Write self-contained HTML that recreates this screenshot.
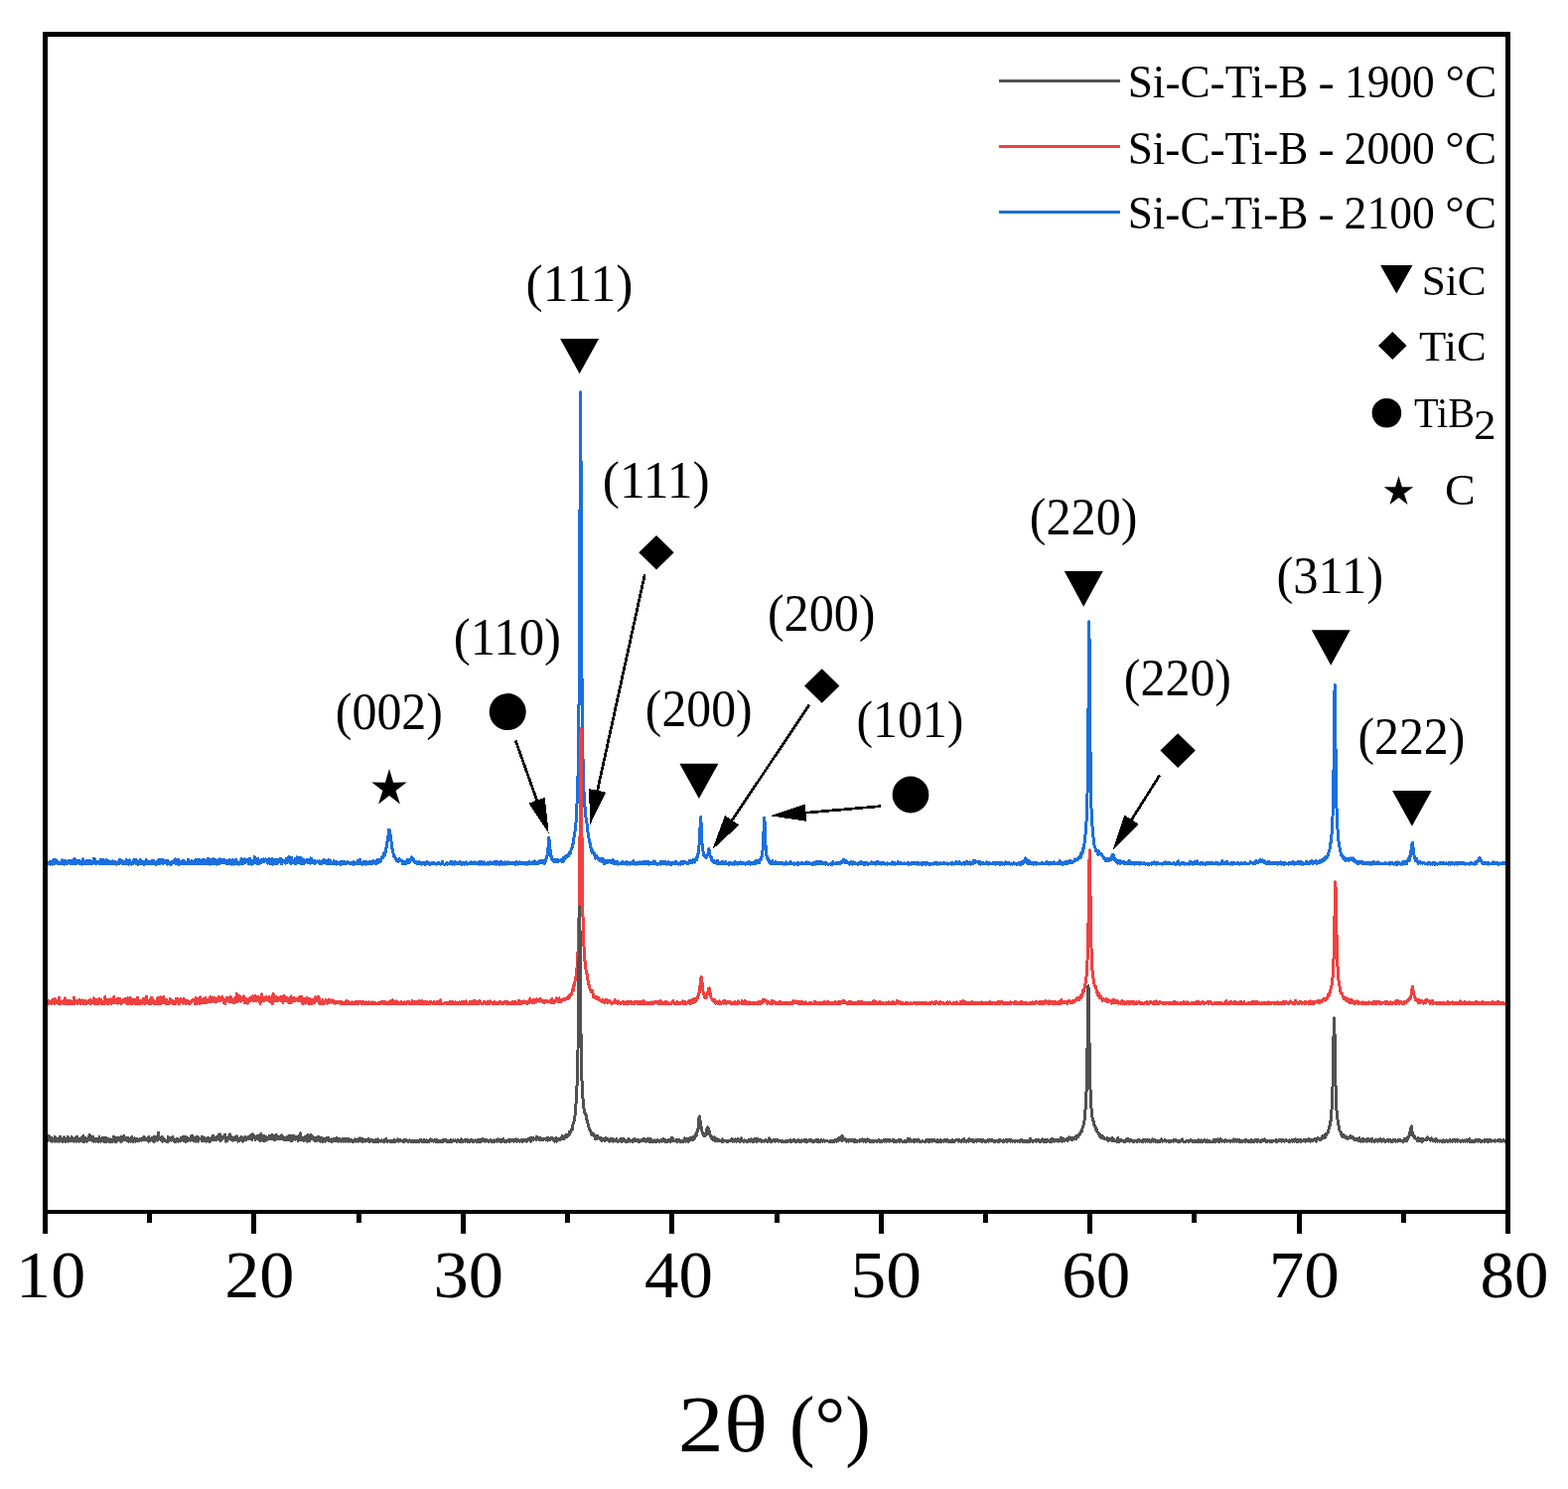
<!DOCTYPE html>
<html lang="en"><head><meta charset="utf-8"><title>XRD patterns of Si-C-Ti-B</title>
<style>html,body{margin:0;padding:0;background:#fff}body{width:1579px;height:1499px;overflow:hidden}svg{display:block}text{font-family:'Liberation Serif', 'DejaVu Serif', serif;fill:#000}</style></head><body>
<svg width="1579" height="1499" viewBox="0 0 1579 1499">
<rect width="1579" height="1499" fill="#fff"/>
<defs><clipPath id="plot"><rect x="48" y="37" width="1468" height="1181"/></clipPath></defs>
<g clip-path="url(#plot)" fill="none" stroke-width="3.0" stroke-linejoin="round" shape-rendering="crispEdges">
<polyline stroke="#1A6FDF" points="46.0,865.2 46.5,869.1 46.9,869.5 47.4,870.0 47.8,868.6 48.3,869.1 48.7,869.6 49.2,867.9 49.6,867.7 50.1,870.0 50.5,870.0 51.0,869.4 51.4,867.2 51.9,867.5 52.3,870.0 52.8,870.0 53.2,867.1 53.7,865.5 54.1,868.6 54.6,869.8 55.0,866.5 55.5,869.1 55.9,867.2 56.4,865.6 56.8,867.3 57.3,868.4 57.7,867.1 58.2,869.8 58.6,868.9 59.1,869.6 59.5,868.9 60.0,869.5 60.4,868.9 60.9,869.3 61.3,868.4 61.8,868.4 62.2,868.0 62.7,865.9 63.1,870.0 63.6,866.1 64.0,869.0 64.5,870.0 64.9,868.9 65.4,868.4 65.8,866.5 66.3,870.0 66.7,868.1 67.2,868.3 67.6,870.0 68.1,870.0 68.5,867.4 69.0,867.2 69.4,866.5 69.9,867.5 70.3,867.8 70.8,868.3 71.2,866.2 71.7,870.0 72.1,868.8 72.6,867.8 73.0,870.0 73.5,866.0 73.9,870.0 74.4,868.7 74.8,864.4 75.3,870.0 75.7,869.5 76.2,865.6 76.6,870.0 77.1,869.4 77.5,867.6 78.0,867.7 78.4,867.4 78.9,867.8 79.3,866.0 79.8,866.6 80.2,867.4 80.7,869.8 81.1,869.9 81.6,870.0 82.0,867.2 82.5,870.0 82.9,866.9 83.4,865.0 83.8,870.0 84.3,869.8 84.7,869.4 85.2,867.0 85.6,870.0 86.1,868.8 86.5,869.5 87.0,869.0 87.4,866.1 87.9,870.0 88.3,868.4 88.8,868.0 89.2,866.9 89.7,870.0 90.1,866.4 90.6,867.7 91.0,866.9 91.5,868.4 91.9,870.0 92.4,869.8 92.8,867.0 93.3,868.5 93.7,868.6 94.2,865.1 94.6,864.4 95.1,868.6 95.5,864.9 96.0,870.0 96.4,870.0 96.9,866.9 97.3,869.0 97.8,867.4 98.2,867.6 98.7,868.7 99.1,867.2 99.6,868.2 100.0,870.0 100.5,868.1 100.9,868.2 101.4,865.1 101.8,870.0 102.3,868.5 102.7,869.3 103.2,868.8 103.6,865.4 104.1,867.8 104.5,869.4 105.0,868.2 105.4,867.1 105.9,870.0 106.3,869.0 106.8,865.6 107.2,866.9 107.7,868.6 108.1,869.4 108.6,868.8 109.0,870.0 109.5,866.7 109.9,867.9 110.4,868.3 110.8,870.0 111.3,869.9 111.7,867.6 112.2,868.0 112.6,869.5 113.1,867.6 113.5,866.7 114.0,869.8 114.4,869.5 114.9,870.0 115.3,870.0 115.8,867.0 116.2,867.6 116.7,867.9 117.1,870.0 117.6,870.0 118.0,868.7 118.5,869.3 118.9,868.3 119.4,869.9 119.8,867.3 120.3,865.1 120.7,865.6 121.2,865.5 121.6,868.4 122.1,866.8 122.5,869.2 123.0,866.8 123.4,869.3 123.9,869.5 124.3,869.8 124.8,867.2 125.2,868.0 125.7,868.2 126.1,870.0 126.6,868.3 127.0,870.0 127.5,865.7 127.9,868.8 128.4,868.2 128.8,868.7 129.3,870.0 129.7,870.0 130.2,868.6 130.6,865.7 131.1,870.0 131.5,869.9 132.0,868.6 132.4,870.0 132.9,870.0 133.3,869.3 133.8,868.6 134.2,869.3 134.7,865.6 135.1,868.8 135.6,867.8 136.0,865.5 136.5,865.3 136.9,870.0 137.4,869.2 137.8,866.3 138.3,870.0 138.7,870.0 139.2,870.0 139.6,870.0 140.1,870.0 140.5,868.2 141.0,866.1 141.4,865.6 141.9,868.5 142.3,870.0 142.8,868.6 143.2,869.2 143.7,867.9 144.1,868.8 144.6,870.0 145.0,867.7 145.5,870.0 145.9,869.8 146.4,867.9 146.8,867.9 147.3,865.5 147.7,870.0 148.2,867.9 148.6,867.2 149.1,869.1 149.5,867.3 150.0,870.0 150.4,867.3 150.9,867.5 151.3,870.0 151.8,869.8 152.2,868.9 152.7,869.8 153.1,866.5 153.6,868.2 154.0,866.0 154.5,866.3 154.9,868.4 155.4,868.9 155.8,870.0 156.3,870.0 156.7,870.0 157.2,867.9 157.6,870.0 158.1,868.4 158.5,868.1 159.0,869.5 159.4,868.9 159.9,865.8 160.3,865.4 160.8,870.0 161.2,868.9 161.7,869.2 162.1,869.0 162.6,865.6 163.0,867.2 163.5,866.1 163.9,865.1 164.4,869.3 164.8,868.9 165.3,868.4 165.7,866.6 166.2,868.7 166.6,867.3 167.1,866.3 167.5,866.3 168.0,867.6 168.4,870.0 168.9,870.0 169.3,866.4 169.8,867.6 170.2,870.0 170.7,869.4 171.1,869.3 171.6,870.0 172.0,868.0 172.5,870.0 172.9,869.0 173.4,867.1 173.8,868.7 174.3,867.4 174.7,867.7 175.2,868.4 175.6,868.4 176.1,864.9 176.5,868.8 177.0,865.4 177.4,870.0 177.9,867.1 178.3,868.1 178.8,869.8 179.2,870.0 179.7,865.4 180.1,870.0 180.6,870.0 181.0,868.2 181.5,868.3 181.9,867.9 182.4,868.9 182.8,870.0 183.3,866.8 183.7,870.0 184.2,868.0 184.6,867.3 185.1,866.2 185.5,868.8 186.0,869.0 186.4,868.9 186.9,870.0 187.3,869.8 187.8,870.0 188.2,870.0 188.7,868.1 189.1,869.0 189.6,865.4 190.0,865.6 190.5,870.0 190.9,868.1 191.4,870.0 191.8,867.3 192.3,868.1 192.7,866.6 193.2,867.8 193.6,866.9 194.1,868.9 194.5,870.0 195.0,870.0 195.4,870.0 195.9,869.3 196.3,870.0 196.8,865.2 197.2,868.6 197.7,865.8 198.1,869.0 198.6,865.2 199.0,870.0 199.5,867.2 199.9,870.0 200.4,867.4 200.8,865.3 201.3,870.0 201.7,869.9 202.2,867.8 202.6,868.6 203.1,870.0 203.5,866.0 204.0,868.1 204.4,865.8 204.9,867.6 205.3,870.0 205.8,869.1 206.2,865.6 206.7,870.0 207.1,869.1 207.6,867.0 208.0,866.2 208.5,866.6 208.9,870.0 209.4,864.2 209.8,868.5 210.3,868.1 210.7,868.1 211.2,868.6 211.6,870.0 212.1,868.7 212.5,865.6 213.0,870.0 213.4,870.0 213.9,867.1 214.3,867.4 214.8,866.7 215.2,864.8 215.7,869.4 216.1,867.7 216.6,867.1 217.0,865.7 217.5,866.1 217.9,869.6 218.4,870.0 218.8,868.5 219.3,870.0 219.7,865.8 220.2,868.7 220.6,868.6 221.1,869.6 221.5,865.0 222.0,867.4 222.4,868.7 222.9,866.7 223.3,868.0 223.8,866.7 224.2,865.4 224.7,868.4 225.1,866.9 225.6,866.9 226.0,865.7 226.5,866.7 226.9,867.7 227.4,869.0 227.8,867.2 228.3,869.8 228.7,866.5 229.2,867.6 229.6,866.7 230.1,868.7 230.5,869.2 231.0,869.4 231.4,865.6 231.9,868.1 232.3,868.1 232.8,870.0 233.2,867.8 233.7,870.0 234.1,865.0 234.6,868.1 235.0,867.6 235.5,870.0 235.9,869.7 236.4,866.4 236.8,868.0 237.3,866.7 237.7,865.1 238.2,866.3 238.6,870.0 239.1,869.4 239.5,869.7 240.0,869.2 240.4,870.0 240.9,870.0 241.3,868.9 241.8,868.6 242.2,866.4 242.7,868.0 243.1,864.7 243.6,870.0 244.0,870.0 244.5,866.9 244.9,867.9 245.4,869.2 245.8,865.9 246.3,865.3 246.7,864.8 247.2,868.1 247.6,867.3 248.1,866.9 248.5,867.2 249.0,865.3 249.4,868.2 249.9,866.6 250.3,870.0 250.8,865.8 251.2,864.1 251.7,867.3 252.1,865.3 252.6,870.0 253.0,867.8 253.5,870.0 253.9,866.6 254.4,866.2 254.8,869.8 255.3,868.8 255.7,868.3 256.2,862.5 256.6,867.3 257.1,866.9 257.5,866.4 258.0,866.6 258.4,867.6 258.9,869.6 259.3,868.4 259.8,864.0 260.2,866.6 260.7,867.8 261.1,869.6 261.6,867.2 262.0,867.0 262.5,868.3 262.9,865.4 263.4,868.2 263.8,867.4 264.3,865.4 264.7,866.6 265.2,864.9 265.6,867.5 266.1,867.8 266.5,866.1 267.0,866.6 267.4,864.8 267.9,866.2 268.3,867.1 268.8,866.2 269.2,865.8 269.7,869.1 270.1,867.3 270.6,867.6 271.0,864.7 271.5,867.9 271.9,865.0 272.4,869.4 272.8,867.1 273.3,865.0 273.7,867.5 274.2,864.8 274.6,870.0 275.1,866.9 275.5,866.7 276.0,867.2 276.4,869.9 276.9,865.7 277.3,870.0 277.8,865.2 278.2,866.5 278.7,865.1 279.1,867.5 279.6,869.1 280.0,868.0 280.5,867.9 280.9,865.9 281.4,867.6 281.8,866.2 282.3,866.1 282.7,864.3 283.2,870.0 283.6,867.8 284.1,865.7 284.5,865.7 285.0,868.1 285.4,867.6 285.9,867.2 286.3,866.8 286.8,868.1 287.2,868.3 287.7,869.2 288.1,867.8 288.6,864.5 289.0,868.9 289.5,865.3 289.9,863.4 290.4,866.7 290.8,862.7 291.3,867.4 291.7,864.0 292.2,867.2 292.6,869.4 293.1,866.5 293.5,863.6 294.0,868.3 294.4,866.3 294.9,869.0 295.3,868.8 295.8,866.3 296.2,867.5 296.7,866.1 297.1,864.8 297.6,869.4 298.0,868.5 298.5,867.1 298.9,862.9 299.4,867.9 299.8,868.2 300.3,866.4 300.7,863.3 301.2,868.4 301.6,867.9 302.1,867.2 302.5,865.9 303.0,863.3 303.4,869.6 303.9,870.0 304.3,867.0 304.8,866.4 305.2,870.0 305.7,868.5 306.1,865.6 306.6,868.4 307.0,866.5 307.5,867.1 307.9,866.2 308.4,866.6 308.8,867.0 309.3,865.2 309.7,868.5 310.2,867.3 310.6,865.4 311.1,868.5 311.5,868.2 312.0,868.9 312.4,869.2 312.9,863.9 313.3,866.7 313.8,864.2 314.2,866.3 314.7,867.5 315.1,868.1 315.6,867.2 316.0,867.8 316.5,866.1 316.9,869.2 317.4,867.4 317.8,866.9 318.3,868.2 318.7,868.2 319.2,866.9 319.6,866.9 320.1,868.0 320.5,867.9 321.0,868.8 321.4,867.0 321.9,868.1 322.3,870.0 322.8,868.5 323.2,867.0 323.7,867.6 324.1,869.5 324.6,866.9 325.0,867.1 325.5,867.1 325.9,865.7 326.4,868.7 326.8,867.2 327.3,868.6 327.7,866.7 328.2,866.5 328.6,867.6 329.1,867.2 329.5,869.6 330.0,867.4 330.4,870.0 330.9,865.2 331.3,866.7 331.8,870.0 332.2,870.0 332.7,866.6 333.1,869.8 333.6,867.8 334.0,870.0 334.5,868.5 334.9,869.6 335.4,867.8 335.8,869.2 336.3,866.6 336.7,869.8 337.2,867.0 337.6,868.8 338.1,868.1 338.5,870.0 339.0,870.0 339.4,867.5 339.9,870.0 340.3,869.4 340.8,869.4 341.2,870.0 341.7,868.7 342.1,870.0 342.6,870.0 343.0,867.8 343.5,870.0 343.9,868.1 344.4,868.2 344.8,867.1 345.3,868.5 345.7,870.0 346.2,869.9 346.6,869.6 347.1,867.6 347.5,868.7 348.0,869.7 348.4,868.6 348.9,869.6 349.3,868.5 349.8,869.0 350.2,867.8 350.7,868.8 351.1,868.0 351.6,869.2 352.0,868.3 352.5,869.4 352.9,868.4 353.4,868.9 353.8,869.3 354.3,869.7 354.7,869.5 355.2,868.7 355.6,870.0 356.1,867.8 356.5,870.0 357.0,869.4 357.4,869.6 357.9,868.3 358.3,868.9 358.8,869.2 359.2,869.1 359.7,868.1 360.1,866.5 360.6,868.7 361.0,870.0 361.5,869.6 361.9,868.7 362.4,865.4 362.8,870.0 363.3,869.5 363.7,868.5 364.2,868.7 364.6,870.0 365.1,868.0 365.5,870.0 366.0,869.3 366.4,867.5 366.9,870.0 367.3,869.4 367.8,867.1 368.2,869.2 368.7,870.0 369.1,869.5 369.6,867.9 370.0,870.0 370.5,869.5 370.9,870.0 371.4,870.0 371.8,867.3 372.3,868.7 372.7,869.1 373.2,868.1 373.6,869.3 374.1,869.8 374.5,867.1 375.0,867.4 375.4,869.2 375.9,867.4 376.3,866.5 376.8,867.5 377.2,867.4 377.7,869.3 378.1,867.9 378.6,869.7 379.0,866.3 379.5,867.6 379.9,865.8 380.4,868.0 380.8,866.0 381.3,868.6 381.7,867.1 382.2,865.8 382.6,865.8 383.1,865.9 383.5,867.4 384.0,863.8 384.4,864.1 384.9,863.1 385.3,862.6 385.8,863.7 386.2,862.1 386.7,858.8 387.1,861.6 387.6,859.0 388.0,858.6 388.5,854.3 388.9,853.8 389.4,852.4 389.8,848.7 390.3,846.0 390.7,843.1 391.2,840.1 391.6,835.6 392.1,835.7 392.5,836.0 393.0,840.2 393.4,842.9 393.9,844.9 394.3,851.6 394.8,854.5 395.2,854.4 395.7,854.8 396.1,860.0 396.6,862.1 397.0,861.7 397.5,862.7 397.9,862.2 398.4,864.8 398.8,864.5 399.3,865.0 399.7,866.8 400.2,867.1 400.6,865.2 401.1,865.4 401.5,867.1 402.0,864.8 402.4,865.6 402.9,866.3 403.3,866.3 403.8,866.8 404.2,866.5 404.7,866.5 405.1,867.4 405.6,869.9 406.0,867.9 406.5,868.7 406.9,869.2 407.4,867.2 407.8,869.9 408.3,867.1 408.7,868.7 409.2,869.4 409.6,869.0 410.1,865.5 410.5,866.4 411.0,868.3 411.4,866.7 411.9,865.8 412.3,868.6 412.8,867.7 413.2,865.9 413.7,865.8 414.1,865.8 414.6,862.9 415.0,864.3 415.5,864.9 415.9,864.0 416.4,866.7 416.8,864.8 417.3,867.7 417.7,868.4 418.2,868.2 418.6,867.6 419.1,867.9 419.5,868.3 420.0,870.0 420.4,870.0 420.9,869.2 421.3,868.2 421.8,867.4 422.2,870.0 422.7,869.2 423.1,869.6 423.6,869.3 424.0,868.9 424.5,870.0 424.9,870.0 425.4,868.1 425.8,868.4 426.3,869.7 426.7,869.4 427.2,870.0 427.6,870.0 428.1,868.6 428.5,870.0 429.0,870.0 429.4,870.0 429.9,867.6 430.3,868.9 430.8,869.2 431.2,869.3 431.7,868.5 432.1,868.6 432.6,870.0 433.0,869.7 433.5,870.0 433.9,869.2 434.4,869.6 434.8,870.0 435.3,868.2 435.7,869.2 436.2,870.0 436.6,868.3 437.1,869.4 437.5,869.0 438.0,869.5 438.4,869.4 438.9,870.0 439.3,870.0 439.8,870.0 440.2,869.4 440.7,869.5 441.1,868.9 441.6,869.7 442.0,870.0 442.5,868.8 442.9,870.0 443.4,870.0 443.8,870.0 444.3,870.0 444.7,869.2 445.2,870.0 445.6,867.5 446.1,869.9 446.5,870.0 447.0,870.0 447.4,870.0 447.9,870.0 448.3,870.0 448.8,870.0 449.2,870.0 449.7,869.6 450.1,868.3 450.6,870.0 451.0,869.7 451.5,869.2 451.9,870.0 452.4,870.0 452.8,868.6 453.3,869.5 453.7,870.0 454.2,870.0 454.6,867.2 455.1,869.2 455.5,870.0 456.0,869.5 456.4,868.9 456.9,869.5 457.3,870.0 457.8,867.7 458.2,869.0 458.7,869.9 459.1,868.9 459.6,869.9 460.0,870.0 460.5,868.7 460.9,870.0 461.4,868.5 461.8,869.2 462.3,868.8 462.7,868.6 463.2,867.9 463.6,868.1 464.1,868.7 464.5,870.0 465.0,868.9 465.4,870.0 465.9,870.0 466.3,869.1 466.8,869.2 467.2,868.3 467.7,870.0 468.1,869.0 468.6,868.9 469.0,869.5 469.5,868.0 469.9,870.0 470.4,869.2 470.8,870.0 471.3,869.6 471.7,870.0 472.2,869.7 472.6,868.9 473.1,869.5 473.5,869.2 474.0,870.0 474.4,867.9 474.9,870.0 475.3,869.6 475.8,868.9 476.2,869.8 476.7,868.8 477.1,869.4 477.6,867.7 478.0,869.0 478.5,869.1 478.9,870.0 479.4,869.1 479.8,868.5 480.3,869.1 480.7,870.0 481.2,870.0 481.6,869.8 482.1,869.6 482.5,870.0 483.0,867.6 483.4,869.7 483.9,869.5 484.3,870.0 484.8,869.6 485.2,867.5 485.7,870.0 486.1,870.0 486.6,870.0 487.0,870.0 487.5,867.9 487.9,870.0 488.4,870.0 488.8,870.0 489.3,870.0 489.7,869.3 490.2,870.0 490.6,870.0 491.1,868.7 491.5,869.0 492.0,869.7 492.4,870.0 492.9,870.0 493.3,867.8 493.8,870.0 494.2,868.9 494.7,869.8 495.1,870.0 495.6,868.6 496.0,870.0 496.5,868.2 496.9,870.0 497.4,869.0 497.8,868.2 498.3,870.0 498.7,867.3 499.2,868.6 499.6,870.0 500.1,868.0 500.5,867.5 501.0,869.8 501.4,869.7 501.9,869.1 502.3,870.0 502.8,869.3 503.2,868.5 503.7,870.0 504.1,868.3 504.6,867.2 505.0,870.0 505.5,870.0 505.9,870.0 506.4,868.8 506.8,869.1 507.3,870.0 507.7,870.0 508.2,870.0 508.6,867.7 509.1,870.0 509.5,870.0 510.0,868.5 510.4,869.8 510.9,870.0 511.3,867.9 511.8,869.1 512.2,870.0 512.7,869.9 513.1,868.4 513.6,869.8 514.0,869.1 514.5,868.5 514.9,868.4 515.4,870.0 515.8,869.9 516.3,869.7 516.7,869.3 517.2,868.6 517.6,868.1 518.1,869.8 518.5,870.0 519.0,869.1 519.4,870.0 519.9,867.5 520.3,868.9 520.8,869.3 521.2,868.3 521.7,870.0 522.1,869.7 522.6,869.5 523.0,868.6 523.5,867.9 523.9,868.4 524.4,868.5 524.8,869.5 525.3,868.8 525.7,869.5 526.2,868.0 526.6,869.9 527.1,869.3 527.5,868.9 528.0,868.4 528.4,869.9 528.9,869.4 529.3,870.0 529.8,870.0 530.2,868.0 530.7,868.6 531.1,870.0 531.6,870.0 532.0,868.5 532.5,869.7 532.9,870.0 533.4,867.7 533.8,869.5 534.3,869.4 534.7,868.4 535.2,869.7 535.6,868.9 536.1,868.8 536.5,868.1 537.0,869.7 537.4,867.7 537.9,868.5 538.3,866.9 538.8,868.6 539.2,869.3 539.7,869.3 540.1,869.9 540.6,868.7 541.0,868.7 541.5,867.7 541.9,868.5 542.4,869.4 542.8,867.4 543.3,868.9 543.7,868.1 544.2,866.8 544.6,866.9 545.1,868.9 545.5,868.2 546.0,866.6 546.4,866.8 546.9,867.1 547.3,866.6 547.8,869.6 548.2,867.4 548.7,868.3 549.1,867.1 549.6,866.3 550.0,864.7 550.5,862.9 550.9,861.8 551.4,859.9 551.8,856.6 552.3,848.5 552.7,843.1 553.2,845.7 553.6,850.6 554.1,856.0 554.5,861.3 555.0,862.3 555.4,862.3 555.9,865.0 556.3,865.4 556.8,865.8 557.2,867.1 557.7,866.8 558.1,867.5 558.6,866.9 559.0,867.5 559.5,865.6 559.9,866.8 560.4,865.8 560.8,868.0 561.3,866.6 561.7,866.0 562.2,865.8 562.6,867.1 563.1,866.5 563.5,866.1 564.0,866.5 564.4,866.5 564.9,865.4 565.3,867.0 565.8,867.5 566.2,866.0 566.7,865.0 567.1,867.5 567.6,863.4 568.0,864.5 568.5,863.7 568.9,865.0 569.4,863.8 569.8,861.5 570.3,861.1 570.7,862.0 571.2,862.6 571.6,861.9 572.1,859.9 572.5,861.5 573.0,861.1 573.4,859.6 573.9,857.7 574.3,858.9 574.8,856.5 575.2,855.4 575.7,854.4 576.1,853.3 576.6,850.6 577.0,849.1 577.5,849.2 577.9,843.5 578.4,841.9 578.8,838.7 579.3,835.4 579.7,830.6 580.2,827.1 580.6,817.5 581.1,807.5 581.5,795.8 582.0,781.3 582.4,760.8 582.9,726.0 583.3,671.2 583.8,580.2 584.2,458.9 584.7,394.9 585.1,483.7 585.6,602.9 586.0,683.0 586.5,733.3 586.9,759.2 587.4,779.2 587.8,792.3 588.3,803.6 588.7,810.3 589.2,813.7 589.6,819.7 590.1,823.3 590.5,827.5 591.0,828.8 591.4,835.3 591.9,837.6 592.3,839.8 592.8,843.3 593.2,845.0 593.7,847.8 594.1,848.7 594.6,852.2 595.0,853.7 595.5,854.6 595.9,857.9 596.4,855.6 596.8,859.0 597.3,857.7 597.7,858.1 598.2,859.2 598.6,860.6 599.1,862.0 599.5,864.1 600.0,861.7 600.4,863.0 600.9,861.3 601.3,863.8 601.8,863.1 602.2,864.5 602.7,863.9 603.1,865.0 603.6,865.0 604.0,867.1 604.5,866.0 604.9,865.7 605.4,864.3 605.8,865.6 606.3,867.3 606.7,864.5 607.2,865.9 607.6,865.3 608.1,867.5 608.5,870.0 609.0,867.6 609.4,868.0 609.9,866.7 610.3,868.7 610.8,868.1 611.2,868.7 611.7,867.2 612.1,868.4 612.6,866.1 613.0,866.8 613.5,866.8 613.9,868.0 614.4,867.5 614.8,866.9 615.3,868.8 615.7,866.7 616.2,868.1 616.6,866.7 617.1,865.8 617.5,866.5 618.0,869.3 618.4,867.0 618.9,868.6 619.3,868.8 619.8,868.6 620.2,869.6 620.7,868.2 621.1,869.2 621.6,867.3 622.0,868.2 622.5,870.0 622.9,869.6 623.4,869.7 623.8,869.4 624.3,869.4 624.7,868.5 625.2,868.9 625.6,869.9 626.1,868.3 626.5,867.8 627.0,868.8 627.4,867.6 627.9,868.4 628.3,869.5 628.8,869.3 629.2,868.9 629.7,868.4 630.1,868.8 630.6,867.9 631.0,867.8 631.5,870.0 631.9,870.0 632.4,869.1 632.8,868.6 633.3,868.1 633.7,868.4 634.2,868.4 634.6,870.0 635.1,868.7 635.5,869.8 636.0,868.7 636.4,868.2 636.9,869.8 637.3,869.4 637.8,866.6 638.2,870.0 638.7,869.7 639.1,870.0 639.6,870.0 640.0,868.2 640.5,869.9 640.9,869.9 641.4,870.0 641.8,870.0 642.3,868.5 642.7,869.8 643.2,869.3 643.6,867.9 644.1,869.4 644.5,869.2 645.0,869.1 645.4,868.0 645.9,870.0 646.3,869.9 646.8,870.0 647.2,869.3 647.7,868.7 648.1,869.8 648.6,867.3 649.0,868.3 649.5,867.3 649.9,869.2 650.4,867.5 650.8,869.9 651.3,868.9 651.7,869.2 652.2,869.8 652.6,867.6 653.1,868.0 653.5,870.0 654.0,868.6 654.4,869.2 654.9,869.2 655.3,868.7 655.8,869.9 656.2,869.1 656.7,869.0 657.1,870.0 657.6,869.9 658.0,868.5 658.5,869.3 658.9,866.9 659.4,867.2 659.8,870.0 660.3,869.0 660.7,870.0 661.2,870.0 661.6,870.0 662.1,870.0 662.5,870.0 663.0,869.1 663.4,869.3 663.9,870.0 664.3,869.5 664.8,868.5 665.2,867.8 665.7,870.0 666.1,867.8 666.6,870.0 667.0,870.0 667.5,869.8 667.9,867.9 668.4,868.8 668.8,868.8 669.3,867.8 669.7,869.2 670.2,869.9 670.6,867.9 671.1,869.7 671.5,870.0 672.0,870.0 672.4,869.3 672.9,867.5 673.3,868.7 673.8,869.4 674.2,868.2 674.7,870.0 675.1,869.0 675.6,870.0 676.0,868.0 676.5,870.0 676.9,868.6 677.4,869.2 677.8,869.4 678.3,868.7 678.7,869.5 679.2,867.9 679.6,869.6 680.1,870.0 680.5,867.9 681.0,868.0 681.4,868.8 681.9,867.9 682.3,868.6 682.8,870.0 683.2,870.0 683.7,870.0 684.1,869.5 684.6,868.7 685.0,870.0 685.5,870.0 685.9,867.6 686.4,869.9 686.8,869.9 687.3,870.0 687.7,867.4 688.2,868.3 688.6,868.1 689.1,867.3 689.5,868.0 690.0,867.6 690.4,868.5 690.9,868.0 691.3,868.2 691.8,868.1 692.2,869.9 692.7,868.9 693.1,869.0 693.6,869.2 694.0,868.5 694.5,866.5 694.9,867.3 695.4,868.1 695.8,867.7 696.3,866.5 696.7,869.0 697.2,867.2 697.6,865.7 698.1,865.3 698.5,866.0 699.0,866.1 699.4,868.1 699.9,866.6 700.3,865.5 700.8,864.5 701.2,863.8 701.7,865.7 702.1,862.8 702.6,860.6 703.0,859.9 703.5,856.7 703.9,852.1 704.4,846.3 704.8,837.4 705.3,826.5 705.7,822.7 706.2,831.8 706.6,842.8 707.1,849.9 707.5,854.5 708.0,857.2 708.4,860.7 708.9,861.4 709.3,861.9 709.8,861.0 710.2,862.3 710.7,863.3 711.1,862.3 711.6,862.8 712.0,862.2 712.5,860.4 712.9,859.5 713.4,857.3 713.8,854.7 714.3,856.3 714.7,858.2 715.2,863.0 715.6,863.3 716.1,862.7 716.5,865.5 717.0,865.9 717.4,866.8 717.9,867.8 718.3,866.6 718.8,867.4 719.2,866.5 719.7,868.7 720.1,867.9 720.6,868.4 721.0,868.8 721.5,867.2 721.9,869.2 722.4,869.2 722.8,866.1 723.3,868.7 723.7,868.9 724.2,868.3 724.6,869.9 725.1,868.5 725.5,870.0 726.0,869.5 726.4,869.6 726.9,867.7 727.3,868.4 727.8,867.3 728.2,867.5 728.7,869.8 729.1,868.7 729.6,869.6 730.0,869.9 730.5,868.0 730.9,867.8 731.4,869.2 731.8,869.0 732.3,869.0 732.7,869.0 733.2,869.0 733.6,870.0 734.1,868.7 734.5,870.0 735.0,870.0 735.4,869.5 735.9,869.1 736.3,868.6 736.8,869.0 737.2,869.1 737.7,870.0 738.1,869.0 738.6,869.2 739.0,869.2 739.5,870.0 739.9,867.8 740.4,868.7 740.8,868.8 741.3,869.4 741.7,869.7 742.2,868.5 742.6,870.0 743.1,869.9 743.5,869.8 744.0,868.9 744.4,869.8 744.9,868.1 745.3,870.0 745.8,867.9 746.2,869.2 746.7,868.5 747.1,870.0 747.6,868.4 748.0,869.8 748.5,869.2 748.9,870.0 749.4,868.9 749.8,869.3 750.3,870.0 750.7,869.5 751.2,869.7 751.6,868.6 752.1,870.0 752.5,869.2 753.0,868.1 753.4,870.0 753.9,867.5 754.3,869.1 754.8,869.6 755.2,870.0 755.7,870.0 756.1,868.3 756.6,869.7 757.0,869.8 757.5,868.1 757.9,868.5 758.4,869.0 758.8,870.0 759.3,870.0 759.7,868.0 760.2,868.9 760.6,869.1 761.1,866.8 761.5,869.1 762.0,868.2 762.4,866.2 762.9,867.6 763.3,868.6 763.8,868.7 764.2,866.3 764.7,868.4 765.1,866.0 765.6,864.6 766.0,865.6 766.5,863.8 766.9,863.2 767.4,859.9 767.8,858.0 768.3,854.0 768.7,844.8 769.2,832.7 769.6,823.3 770.1,827.4 770.5,841.3 771.0,851.0 771.4,855.7 771.9,861.9 772.3,862.2 772.8,864.0 773.2,865.7 773.7,864.6 774.1,865.9 774.6,867.6 775.0,867.2 775.5,866.8 775.9,869.5 776.4,868.0 776.8,868.6 777.3,868.1 777.7,866.5 778.2,869.4 778.6,869.1 779.1,870.0 779.5,868.7 780.0,868.4 780.4,870.0 780.9,867.7 781.3,867.6 781.8,870.0 782.2,870.0 782.7,868.8 783.1,869.2 783.6,868.2 784.0,869.6 784.5,868.1 784.9,870.0 785.4,869.0 785.8,869.8 786.3,869.9 786.7,870.0 787.2,869.9 787.6,868.1 788.1,870.0 788.5,869.7 789.0,869.4 789.4,870.0 789.9,869.3 790.3,869.0 790.8,869.8 791.2,870.0 791.7,868.0 792.1,869.5 792.6,869.6 793.0,869.8 793.5,870.0 793.9,870.0 794.4,869.6 794.8,869.4 795.3,868.6 795.7,868.0 796.2,870.0 796.6,868.0 797.1,869.5 797.5,869.0 798.0,870.0 798.4,869.3 798.9,870.0 799.3,868.9 799.8,870.0 800.2,869.6 800.7,870.0 801.1,869.3 801.6,869.4 802.0,869.5 802.5,870.0 802.9,868.8 803.4,869.1 803.8,870.0 804.3,868.9 804.7,870.0 805.2,869.5 805.6,869.7 806.1,869.7 806.5,868.8 807.0,870.0 807.4,868.4 807.9,870.0 808.3,868.4 808.8,869.1 809.2,870.0 809.7,869.3 810.1,869.9 810.6,870.0 811.0,868.4 811.5,868.5 811.9,869.2 812.4,867.9 812.8,869.4 813.3,869.9 813.7,868.3 814.2,870.0 814.6,868.8 815.1,868.5 815.5,869.4 816.0,869.5 816.4,869.1 816.9,869.3 817.3,870.0 817.8,870.0 818.2,870.0 818.7,870.0 819.1,868.6 819.6,870.0 820.0,869.3 820.5,868.8 820.9,868.6 821.4,870.0 821.8,867.4 822.3,868.7 822.7,868.9 823.2,870.0 823.6,867.6 824.1,868.9 824.5,868.5 825.0,869.8 825.4,867.7 825.9,868.1 826.3,869.6 826.8,867.6 827.2,870.0 827.7,868.7 828.1,868.9 828.6,868.9 829.0,870.0 829.5,869.9 829.9,868.6 830.4,868.5 830.8,869.6 831.3,869.8 831.7,870.0 832.2,868.2 832.6,869.7 833.1,870.0 833.5,870.0 834.0,870.0 834.4,870.0 834.9,870.0 835.3,870.0 835.8,869.9 836.2,870.0 836.7,870.0 837.1,869.6 837.6,870.0 838.0,868.8 838.5,870.0 838.9,867.6 839.4,870.0 839.8,869.4 840.3,869.8 840.7,869.1 841.2,870.0 841.6,868.9 842.1,870.0 842.5,868.6 843.0,869.6 843.4,868.9 843.9,868.2 844.3,870.0 844.8,869.7 845.2,869.8 845.7,869.0 846.1,868.7 846.6,868.0 847.0,868.4 847.5,868.5 847.9,867.6 848.4,866.9 848.8,866.7 849.3,865.3 849.7,867.7 850.2,866.7 850.6,868.2 851.1,867.7 851.5,866.7 852.0,866.4 852.4,868.4 852.9,867.7 853.3,868.3 853.8,868.1 854.2,868.5 854.7,869.3 855.1,870.0 855.6,870.0 856.0,868.7 856.5,869.2 856.9,867.2 857.4,869.2 857.8,868.4 858.3,870.0 858.7,870.0 859.2,869.2 859.6,867.8 860.1,869.0 860.5,869.8 861.0,869.1 861.4,868.9 861.9,869.1 862.3,869.5 862.8,870.0 863.2,870.0 863.7,870.0 864.1,869.7 864.6,870.0 865.0,868.0 865.5,869.0 865.9,870.0 866.4,868.9 866.8,867.3 867.3,869.4 867.7,869.4 868.2,868.6 868.6,870.0 869.1,870.0 869.5,870.0 870.0,868.9 870.4,870.0 870.9,869.4 871.3,870.0 871.8,870.0 872.2,870.0 872.7,868.3 873.1,870.0 873.6,870.0 874.0,869.4 874.5,870.0 874.9,869.2 875.4,869.8 875.8,869.7 876.3,869.7 876.7,870.0 877.2,870.0 877.6,867.8 878.1,870.0 878.5,869.2 879.0,870.0 879.4,869.8 879.9,870.0 880.3,868.3 880.8,869.9 881.2,870.0 881.7,870.0 882.1,869.5 882.6,868.9 883.0,867.8 883.5,867.7 883.9,870.0 884.4,869.9 884.8,870.0 885.3,869.5 885.7,869.0 886.2,870.0 886.6,868.9 887.1,869.1 887.5,870.0 888.0,870.0 888.4,868.2 888.9,869.9 889.3,870.0 889.8,869.7 890.2,868.8 890.7,869.1 891.1,870.0 891.6,870.0 892.0,870.0 892.5,869.6 892.9,869.6 893.4,870.0 893.8,868.9 894.3,869.3 894.7,870.0 895.2,870.0 895.6,869.9 896.1,870.0 896.5,869.7 897.0,869.6 897.4,870.0 897.9,869.2 898.3,868.0 898.8,870.0 899.2,869.3 899.7,870.0 900.1,868.3 900.6,868.6 901.0,869.8 901.5,870.0 901.9,869.0 902.4,869.8 902.8,870.0 903.3,870.0 903.7,869.9 904.2,867.7 904.6,868.7 905.1,868.4 905.5,868.9 906.0,868.4 906.4,868.3 906.9,870.0 907.3,869.2 907.8,869.2 908.2,869.3 908.7,869.4 909.1,870.0 909.6,869.6 910.0,870.0 910.5,868.9 910.9,870.0 911.4,870.0 911.8,869.8 912.3,870.0 912.7,869.9 913.2,870.0 913.6,868.9 914.1,870.0 914.5,870.0 915.0,868.6 915.4,870.0 915.9,870.0 916.3,869.9 916.8,870.0 917.2,869.6 917.7,870.0 918.1,868.8 918.6,869.5 919.0,868.2 919.5,869.2 919.9,870.0 920.4,868.8 920.8,870.0 921.3,869.7 921.7,870.0 922.2,870.0 922.6,868.5 923.1,868.7 923.5,870.0 924.0,869.5 924.4,869.4 924.9,868.6 925.3,870.0 925.8,870.0 926.2,869.5 926.7,870.0 927.1,870.0 927.6,870.0 928.0,868.6 928.5,870.0 928.9,868.8 929.4,869.2 929.8,870.0 930.3,868.8 930.7,868.6 931.2,869.4 931.6,870.0 932.1,869.0 932.5,870.0 933.0,869.3 933.4,868.3 933.9,870.0 934.3,870.0 934.8,869.1 935.2,870.0 935.7,870.0 936.1,869.6 936.6,870.0 937.0,869.6 937.5,870.0 937.9,870.0 938.4,869.8 938.8,869.2 939.3,870.0 939.7,869.4 940.2,869.2 940.6,869.3 941.1,869.9 941.5,868.5 942.0,870.0 942.4,868.7 942.9,868.8 943.3,868.9 943.8,870.0 944.2,868.8 944.7,869.3 945.1,870.0 945.6,870.0 946.0,870.0 946.5,869.4 946.9,868.4 947.4,868.9 947.8,870.0 948.3,870.0 948.7,869.9 949.2,869.9 949.6,869.0 950.1,870.0 950.5,868.7 951.0,870.0 951.4,868.7 951.9,870.0 952.3,870.0 952.8,869.7 953.2,868.9 953.7,869.2 954.1,870.0 954.6,870.0 955.0,869.7 955.5,869.8 955.9,870.0 956.4,869.7 956.8,870.0 957.3,869.2 957.7,868.8 958.2,870.0 958.6,870.0 959.1,868.5 959.5,868.7 960.0,870.0 960.4,870.0 960.9,870.0 961.3,869.2 961.8,869.5 962.2,869.6 962.7,867.5 963.1,869.8 963.6,869.8 964.0,869.4 964.5,869.8 964.9,868.6 965.4,869.8 965.8,869.5 966.3,867.5 966.7,870.0 967.2,870.0 967.6,869.4 968.1,870.0 968.5,870.0 969.0,869.4 969.4,868.8 969.9,870.0 970.3,869.7 970.8,870.0 971.2,868.7 971.7,870.0 972.1,868.9 972.6,867.8 973.0,868.2 973.5,869.1 973.9,870.0 974.4,867.7 974.8,869.8 975.3,868.7 975.7,869.9 976.2,869.6 976.6,867.8 977.1,870.0 977.5,870.0 978.0,869.5 978.4,868.2 978.9,870.0 979.3,867.9 979.8,869.3 980.2,868.2 980.7,866.3 981.1,868.1 981.6,867.4 982.0,866.9 982.5,868.2 982.9,867.6 983.4,867.6 983.8,867.2 984.3,867.6 984.7,868.0 985.2,868.3 985.6,867.2 986.1,869.4 986.5,868.3 987.0,867.3 987.4,870.0 987.9,870.0 988.3,868.3 988.8,869.8 989.2,869.8 989.7,868.6 990.1,868.9 990.6,869.9 991.0,869.6 991.5,870.0 991.9,869.9 992.4,869.5 992.8,868.9 993.3,868.9 993.7,867.8 994.2,869.5 994.6,868.5 995.1,869.2 995.5,870.0 996.0,869.2 996.4,869.2 996.9,868.9 997.3,869.1 997.8,869.4 998.2,870.0 998.7,869.8 999.1,869.3 999.6,869.0 1000.0,868.8 1000.5,869.2 1000.9,869.0 1001.4,868.3 1001.8,869.4 1002.3,870.0 1002.7,870.0 1003.2,869.6 1003.6,869.0 1004.1,870.0 1004.5,868.2 1005.0,870.0 1005.4,870.0 1005.9,869.7 1006.3,870.0 1006.8,868.7 1007.2,870.0 1007.7,870.0 1008.1,870.0 1008.6,868.8 1009.0,868.5 1009.5,870.0 1009.9,870.0 1010.4,870.0 1010.8,869.7 1011.3,870.0 1011.7,869.2 1012.2,870.0 1012.6,867.7 1013.1,869.3 1013.5,868.7 1014.0,870.0 1014.4,868.7 1014.9,868.1 1015.3,870.0 1015.8,869.5 1016.2,868.7 1016.7,869.2 1017.1,870.0 1017.6,870.0 1018.0,869.1 1018.5,869.3 1018.9,870.0 1019.4,869.3 1019.8,870.0 1020.3,869.5 1020.7,868.7 1021.2,868.7 1021.6,869.9 1022.1,869.3 1022.5,869.3 1023.0,869.6 1023.4,870.0 1023.9,870.0 1024.3,870.0 1024.8,870.0 1025.2,870.0 1025.7,868.4 1026.1,870.0 1026.6,870.0 1027.0,870.0 1027.5,870.0 1027.9,869.1 1028.4,870.0 1028.8,867.6 1029.3,870.0 1029.7,869.8 1030.2,869.1 1030.6,868.8 1031.1,868.3 1031.5,866.8 1032.0,865.8 1032.4,863.9 1032.9,866.6 1033.3,864.8 1033.8,866.0 1034.2,867.7 1034.7,869.1 1035.1,866.0 1035.6,867.4 1036.0,870.0 1036.5,867.4 1036.9,868.5 1037.4,868.8 1037.8,868.3 1038.3,869.7 1038.7,869.3 1039.2,868.3 1039.6,870.0 1040.1,870.0 1040.5,870.0 1041.0,868.6 1041.4,870.0 1041.9,869.6 1042.3,869.8 1042.8,868.8 1043.2,869.0 1043.7,870.0 1044.1,868.1 1044.6,869.0 1045.0,869.1 1045.5,869.8 1045.9,869.7 1046.4,869.6 1046.8,869.4 1047.3,869.0 1047.7,869.0 1048.2,869.6 1048.6,869.5 1049.1,868.7 1049.5,868.3 1050.0,868.2 1050.4,869.4 1050.9,870.0 1051.3,869.2 1051.8,869.2 1052.2,869.3 1052.7,868.9 1053.1,869.8 1053.6,869.2 1054.0,870.0 1054.5,867.7 1054.9,869.3 1055.4,869.6 1055.8,868.8 1056.3,869.5 1056.7,870.0 1057.2,868.5 1057.6,869.2 1058.1,869.9 1058.5,868.6 1059.0,868.8 1059.4,868.9 1059.9,869.5 1060.3,868.2 1060.8,870.0 1061.2,868.4 1061.7,867.8 1062.1,870.0 1062.6,868.9 1063.0,870.0 1063.5,869.1 1063.9,870.0 1064.4,870.0 1064.8,868.9 1065.3,868.1 1065.7,868.6 1066.2,869.2 1066.6,869.7 1067.1,869.0 1067.5,866.7 1068.0,867.6 1068.4,870.0 1068.9,869.5 1069.3,870.0 1069.8,868.3 1070.2,869.0 1070.7,870.0 1071.1,868.9 1071.6,869.1 1072.0,869.6 1072.5,868.9 1072.9,867.8 1073.4,869.4 1073.8,868.8 1074.3,869.7 1074.7,868.7 1075.2,867.0 1075.6,867.7 1076.1,868.8 1076.5,868.6 1077.0,866.9 1077.4,868.1 1077.9,868.3 1078.3,866.7 1078.8,868.0 1079.2,868.2 1079.7,867.1 1080.1,868.5 1080.6,867.6 1081.0,867.7 1081.5,866.7 1081.9,866.8 1082.4,864.9 1082.8,865.7 1083.3,866.1 1083.7,865.4 1084.2,865.8 1084.6,865.1 1085.1,864.5 1085.5,864.3 1086.0,863.0 1086.4,863.4 1086.9,864.1 1087.3,862.6 1087.8,863.3 1088.2,859.8 1088.7,862.5 1089.1,860.0 1089.6,858.4 1090.0,858.6 1090.5,856.7 1090.9,853.7 1091.4,853.8 1091.8,849.5 1092.3,847.7 1092.7,844.3 1093.2,837.8 1093.6,833.2 1094.1,826.0 1094.5,816.0 1095.0,799.9 1095.4,775.3 1095.9,732.1 1096.3,671.5 1096.8,625.8 1097.2,657.6 1097.7,721.0 1098.1,768.4 1098.6,795.9 1099.0,813.9 1099.5,825.9 1099.9,829.8 1100.4,838.0 1100.8,840.7 1101.3,845.4 1101.7,848.5 1102.2,852.1 1102.6,853.0 1103.1,854.3 1103.5,856.5 1104.0,856.1 1104.4,856.4 1104.9,857.7 1105.3,858.3 1105.8,860.4 1106.2,856.4 1106.7,858.3 1107.1,860.0 1107.6,859.9 1108.0,859.5 1108.5,860.0 1108.9,859.4 1109.4,860.8 1109.8,860.6 1110.3,861.8 1110.7,862.3 1111.2,863.8 1111.6,863.1 1112.1,863.5 1112.5,864.9 1113.0,866.1 1113.4,864.8 1113.9,866.7 1114.3,866.0 1114.8,865.1 1115.2,864.5 1115.7,866.0 1116.1,865.4 1116.6,864.6 1117.0,866.7 1117.5,866.0 1117.9,865.2 1118.4,863.9 1118.8,865.7 1119.3,865.0 1119.7,861.8 1120.2,860.1 1120.6,860.6 1121.1,860.1 1121.5,860.8 1122.0,863.4 1122.4,866.2 1122.9,865.2 1123.3,865.2 1123.8,867.6 1124.2,865.7 1124.7,867.4 1125.1,869.0 1125.6,867.4 1126.0,869.1 1126.5,866.6 1126.9,867.5 1127.4,866.5 1127.8,869.7 1128.3,868.2 1128.7,867.0 1129.2,867.3 1129.6,867.9 1130.1,868.2 1130.5,868.0 1131.0,867.7 1131.4,867.1 1131.9,870.0 1132.3,869.7 1132.8,869.3 1133.2,868.7 1133.7,868.5 1134.1,869.2 1134.6,869.0 1135.0,868.3 1135.5,867.9 1135.9,869.7 1136.4,869.3 1136.8,869.0 1137.3,866.8 1137.7,869.7 1138.2,868.9 1138.6,869.1 1139.1,869.6 1139.5,868.3 1140.0,869.3 1140.4,869.7 1140.9,869.2 1141.3,869.0 1141.8,869.8 1142.2,870.0 1142.7,868.3 1143.1,869.8 1143.6,868.5 1144.0,869.5 1144.5,870.0 1144.9,870.0 1145.4,870.0 1145.8,868.8 1146.3,868.8 1146.7,869.8 1147.2,870.0 1147.6,870.0 1148.1,869.3 1148.5,868.4 1149.0,870.0 1149.4,870.0 1149.9,869.3 1150.3,869.9 1150.8,870.0 1151.2,870.0 1151.7,869.0 1152.1,868.3 1152.6,870.0 1153.0,870.0 1153.5,870.0 1153.9,869.9 1154.4,869.2 1154.8,869.5 1155.3,870.0 1155.7,869.4 1156.2,869.4 1156.6,870.0 1157.1,869.4 1157.5,870.0 1158.0,870.0 1158.4,870.0 1158.9,869.7 1159.3,869.0 1159.8,870.0 1160.2,869.7 1160.7,869.1 1161.1,869.5 1161.6,868.3 1162.0,869.8 1162.5,867.8 1162.9,869.6 1163.4,870.0 1163.8,869.8 1164.3,870.0 1164.7,868.6 1165.2,868.3 1165.6,868.2 1166.1,869.0 1166.5,869.8 1167.0,870.0 1167.4,870.0 1167.9,869.1 1168.3,870.0 1168.8,869.9 1169.2,869.5 1169.7,869.3 1170.1,870.0 1170.6,870.0 1171.0,870.0 1171.5,868.9 1171.9,870.0 1172.4,870.0 1172.8,869.2 1173.3,868.9 1173.7,868.0 1174.2,869.7 1174.6,868.9 1175.1,870.0 1175.5,869.1 1176.0,868.9 1176.4,868.8 1176.9,870.0 1177.3,868.4 1177.8,868.2 1178.2,869.7 1178.7,869.6 1179.1,870.0 1179.6,869.9 1180.0,869.7 1180.5,870.0 1180.9,870.0 1181.4,869.9 1181.8,870.0 1182.3,868.8 1182.7,869.9 1183.2,870.0 1183.6,870.0 1184.1,870.0 1184.5,870.0 1185.0,870.0 1185.4,868.0 1185.9,870.0 1186.3,868.2 1186.8,867.0 1187.2,869.6 1187.7,870.0 1188.1,869.1 1188.6,870.0 1189.0,869.5 1189.5,869.0 1189.9,870.0 1190.4,868.3 1190.8,869.6 1191.3,869.4 1191.7,868.5 1192.2,870.0 1192.6,870.0 1193.1,869.4 1193.5,869.3 1194.0,869.9 1194.4,869.8 1194.9,869.9 1195.3,870.0 1195.8,870.0 1196.2,870.0 1196.7,869.6 1197.1,869.3 1197.6,870.0 1198.0,868.2 1198.5,867.6 1198.9,869.5 1199.4,870.0 1199.8,869.9 1200.3,869.0 1200.7,869.8 1201.2,868.0 1201.6,870.0 1202.1,868.9 1202.5,869.3 1203.0,867.7 1203.4,869.3 1203.9,869.3 1204.3,870.0 1204.8,869.9 1205.2,870.0 1205.7,866.8 1206.1,869.6 1206.6,869.9 1207.0,869.7 1207.5,869.3 1207.9,869.2 1208.4,870.0 1208.8,868.6 1209.3,869.6 1209.7,869.7 1210.2,868.1 1210.6,869.4 1211.1,870.0 1211.5,870.0 1212.0,869.0 1212.4,869.6 1212.9,869.6 1213.3,870.0 1213.8,869.5 1214.2,870.0 1214.7,870.0 1215.1,868.5 1215.6,869.4 1216.0,869.9 1216.5,868.8 1216.9,868.0 1217.4,870.0 1217.8,868.8 1218.3,869.5 1218.7,869.7 1219.2,868.4 1219.6,868.9 1220.1,870.0 1220.5,868.6 1221.0,869.8 1221.4,869.7 1221.9,870.0 1222.3,869.6 1222.8,869.1 1223.2,870.0 1223.7,869.6 1224.1,868.5 1224.6,869.8 1225.0,870.0 1225.5,868.2 1225.9,870.0 1226.4,870.0 1226.8,870.0 1227.3,869.9 1227.7,870.0 1228.2,870.0 1228.6,870.0 1229.1,869.8 1229.5,869.9 1230.0,869.7 1230.4,868.7 1230.9,866.8 1231.3,868.6 1231.8,869.1 1232.2,870.0 1232.7,869.6 1233.1,870.0 1233.6,869.7 1234.0,870.0 1234.5,868.7 1234.9,867.8 1235.4,868.8 1235.8,867.3 1236.3,870.0 1236.7,868.9 1237.2,869.7 1237.6,869.5 1238.1,870.0 1238.5,869.7 1239.0,869.7 1239.4,870.0 1239.9,868.6 1240.3,868.9 1240.8,868.6 1241.2,870.0 1241.7,870.0 1242.1,870.0 1242.6,868.9 1243.0,868.7 1243.5,869.6 1243.9,870.0 1244.4,869.5 1244.8,869.1 1245.3,869.1 1245.7,869.8 1246.2,868.6 1246.6,868.4 1247.1,870.0 1247.5,869.2 1248.0,869.4 1248.4,870.0 1248.9,870.0 1249.3,869.3 1249.8,868.4 1250.2,870.0 1250.7,869.8 1251.1,869.6 1251.6,869.8 1252.0,870.0 1252.5,868.7 1252.9,869.6 1253.4,869.0 1253.8,868.8 1254.3,869.8 1254.7,870.0 1255.2,870.0 1255.6,869.8 1256.1,870.0 1256.5,869.6 1257.0,870.0 1257.4,869.7 1257.9,869.8 1258.3,869.0 1258.8,868.8 1259.2,867.6 1259.7,868.1 1260.1,868.5 1260.6,869.0 1261.0,868.9 1261.5,868.6 1261.9,869.1 1262.4,868.8 1262.8,869.5 1263.3,868.4 1263.7,869.4 1264.2,868.9 1264.6,868.9 1265.1,866.1 1265.5,868.1 1266.0,867.2 1266.4,868.9 1266.9,867.1 1267.3,867.6 1267.8,866.3 1268.2,867.2 1268.7,867.6 1269.1,865.8 1269.6,866.3 1270.0,867.4 1270.5,866.4 1270.9,867.2 1271.4,866.0 1271.8,866.8 1272.3,866.8 1272.7,868.2 1273.2,866.4 1273.6,868.3 1274.1,867.7 1274.5,868.3 1275.0,868.2 1275.4,869.4 1275.9,868.4 1276.3,868.2 1276.8,869.7 1277.2,867.8 1277.7,869.6 1278.1,869.3 1278.6,869.4 1279.0,867.9 1279.5,869.4 1279.9,869.4 1280.4,868.7 1280.8,868.9 1281.3,868.1 1281.7,869.5 1282.2,869.6 1282.6,869.8 1283.1,869.8 1283.5,868.6 1284.0,868.8 1284.4,869.5 1284.9,869.3 1285.3,870.0 1285.8,868.5 1286.2,868.9 1286.7,870.0 1287.1,869.8 1287.6,869.4 1288.0,868.1 1288.5,869.1 1288.9,868.2 1289.4,868.0 1289.8,868.7 1290.3,870.0 1290.7,870.0 1291.2,869.6 1291.6,868.7 1292.1,869.0 1292.5,870.0 1293.0,868.7 1293.4,870.0 1293.9,869.7 1294.3,868.5 1294.8,869.2 1295.2,869.8 1295.7,870.0 1296.1,869.3 1296.6,869.1 1297.0,869.5 1297.5,870.0 1297.9,868.9 1298.4,868.6 1298.8,870.0 1299.3,868.8 1299.7,869.9 1300.2,869.5 1300.6,868.5 1301.1,870.0 1301.5,869.4 1302.0,867.9 1302.4,868.1 1302.9,869.8 1303.3,870.0 1303.8,868.2 1304.2,869.1 1304.7,869.0 1305.1,870.0 1305.6,869.2 1306.0,870.0 1306.5,869.5 1306.9,867.7 1307.4,868.2 1307.8,867.9 1308.3,869.2 1308.7,868.9 1309.2,869.5 1309.6,867.5 1310.1,869.6 1310.5,870.0 1311.0,869.6 1311.4,868.2 1311.9,869.6 1312.3,869.0 1312.8,870.0 1313.2,869.7 1313.7,870.0 1314.1,870.0 1314.6,869.3 1315.0,868.6 1315.5,867.4 1315.9,868.5 1316.4,869.9 1316.8,869.9 1317.3,870.0 1317.7,869.0 1318.2,869.7 1318.6,869.1 1319.1,869.8 1319.5,867.5 1320.0,869.0 1320.4,868.1 1320.9,869.0 1321.3,866.7 1321.8,869.8 1322.2,868.1 1322.7,867.3 1323.1,868.5 1323.6,867.6 1324.0,868.4 1324.5,867.3 1324.9,868.2 1325.4,866.6 1325.8,869.4 1326.3,867.3 1326.7,868.3 1327.2,868.1 1327.6,867.2 1328.1,868.1 1328.5,868.0 1329.0,866.8 1329.4,868.1 1329.9,867.3 1330.3,866.0 1330.8,867.4 1331.2,865.5 1331.7,867.2 1332.1,865.9 1332.6,865.8 1333.0,866.7 1333.5,864.6 1333.9,866.1 1334.4,863.3 1334.8,862.7 1335.3,864.1 1335.7,862.9 1336.2,862.4 1336.6,862.8 1337.1,861.4 1337.5,859.7 1338.0,858.4 1338.4,855.9 1338.9,855.7 1339.3,853.8 1339.8,850.2 1340.2,847.1 1340.7,844.0 1341.1,838.6 1341.6,832.3 1342.0,822.0 1342.5,808.6 1342.9,784.1 1343.4,743.6 1343.8,699.2 1344.3,689.7 1344.7,728.1 1345.2,769.8 1345.6,799.1 1346.1,817.2 1346.5,828.8 1347.0,835.0 1347.4,840.7 1347.9,846.2 1348.3,850.0 1348.8,852.2 1349.2,854.0 1349.7,856.4 1350.1,858.2 1350.6,859.5 1351.0,861.3 1351.5,861.2 1351.9,861.5 1352.4,863.6 1352.8,863.8 1353.3,862.7 1353.7,864.7 1354.2,864.0 1354.6,865.6 1355.1,866.6 1355.5,864.9 1356.0,864.9 1356.4,865.4 1356.9,865.8 1357.3,864.7 1357.8,866.2 1358.2,866.6 1358.7,865.7 1359.1,864.9 1359.6,865.3 1360.0,864.5 1360.5,863.7 1360.9,865.2 1361.4,864.4 1361.8,864.4 1362.3,863.9 1362.7,866.3 1363.2,864.7 1363.6,867.2 1364.1,866.2 1364.5,867.1 1365.0,867.5 1365.4,866.9 1365.9,868.6 1366.3,867.3 1366.8,868.2 1367.2,869.2 1367.7,867.3 1368.1,869.3 1368.6,867.8 1369.0,868.7 1369.5,868.8 1369.9,867.4 1370.4,868.4 1370.8,868.8 1371.3,868.0 1371.7,869.1 1372.2,867.5 1372.6,869.3 1373.1,868.4 1373.5,869.4 1374.0,868.4 1374.4,869.7 1374.9,869.1 1375.3,868.4 1375.8,870.0 1376.2,869.2 1376.7,868.8 1377.1,869.5 1377.6,869.5 1378.0,868.6 1378.5,868.5 1378.9,870.0 1379.4,870.0 1379.8,870.0 1380.3,869.3 1380.7,868.8 1381.2,870.0 1381.6,870.0 1382.1,869.0 1382.5,869.8 1383.0,867.7 1383.4,868.2 1383.9,870.0 1384.3,868.9 1384.8,868.9 1385.2,868.8 1385.7,869.5 1386.1,870.0 1386.6,869.4 1387.0,869.9 1387.5,868.0 1387.9,869.0 1388.4,868.4 1388.8,870.0 1389.3,869.5 1389.7,869.7 1390.2,870.0 1390.6,869.9 1391.1,870.0 1391.5,869.5 1392.0,870.0 1392.4,869.5 1392.9,869.3 1393.3,869.8 1393.8,870.0 1394.2,868.9 1394.7,868.9 1395.1,870.0 1395.6,868.7 1396.0,870.0 1396.5,869.5 1396.9,869.2 1397.4,869.6 1397.8,870.0 1398.3,869.6 1398.7,868.8 1399.2,869.3 1399.6,870.0 1400.1,869.5 1400.5,868.1 1401.0,868.5 1401.4,868.3 1401.9,869.5 1402.3,868.9 1402.8,869.5 1403.2,869.5 1403.7,870.0 1404.1,869.4 1404.6,868.6 1405.0,869.3 1405.5,870.0 1405.9,868.9 1406.4,870.0 1406.8,868.9 1407.3,870.0 1407.7,868.0 1408.2,869.4 1408.6,868.4 1409.1,870.0 1409.5,869.3 1410.0,869.0 1410.4,870.0 1410.9,869.5 1411.3,869.5 1411.8,868.9 1412.2,868.9 1412.7,870.0 1413.1,867.8 1413.6,868.2 1414.0,869.1 1414.5,867.7 1414.9,868.5 1415.4,868.7 1415.8,869.1 1416.3,870.0 1416.7,867.4 1417.2,866.4 1417.6,866.5 1418.1,866.1 1418.5,864.5 1419.0,866.7 1419.4,864.0 1419.9,861.8 1420.3,861.8 1420.8,857.6 1421.2,855.7 1421.7,851.2 1422.1,848.9 1422.6,848.3 1423.0,852.7 1423.5,857.2 1423.9,860.5 1424.4,862.1 1424.8,864.2 1425.3,866.5 1425.7,865.5 1426.2,865.9 1426.6,864.6 1427.1,867.5 1427.5,867.3 1428.0,869.1 1428.4,869.4 1428.9,869.0 1429.3,867.1 1429.8,868.3 1430.2,868.5 1430.7,869.0 1431.1,868.5 1431.6,868.1 1432.0,868.4 1432.5,869.0 1432.9,868.8 1433.4,868.7 1433.8,868.5 1434.3,868.8 1434.7,869.4 1435.2,870.0 1435.6,869.1 1436.1,869.3 1436.5,869.4 1437.0,869.7 1437.4,870.0 1437.9,868.5 1438.3,870.0 1438.8,869.5 1439.2,869.8 1439.7,870.0 1440.1,868.9 1440.6,870.0 1441.0,869.5 1441.5,869.9 1441.9,869.5 1442.4,870.0 1442.8,868.8 1443.3,868.5 1443.7,869.0 1444.2,870.0 1444.6,870.0 1445.1,868.0 1445.5,870.0 1446.0,870.0 1446.4,869.4 1446.9,869.2 1447.3,870.0 1447.8,869.3 1448.2,870.0 1448.7,869.1 1449.1,869.3 1449.6,869.7 1450.0,868.8 1450.5,869.4 1450.9,870.0 1451.4,869.0 1451.8,869.4 1452.3,868.9 1452.7,869.9 1453.2,869.0 1453.6,869.9 1454.1,869.3 1454.5,868.9 1455.0,870.0 1455.4,870.0 1455.9,869.6 1456.3,869.0 1456.8,869.4 1457.2,869.5 1457.7,869.1 1458.1,869.4 1458.6,870.0 1459.0,868.6 1459.5,868.6 1459.9,868.8 1460.4,870.0 1460.8,868.7 1461.3,870.0 1461.7,869.7 1462.2,869.8 1462.6,868.4 1463.1,868.9 1463.5,869.7 1464.0,869.3 1464.4,870.0 1464.9,870.0 1465.3,869.1 1465.8,869.1 1466.2,869.6 1466.7,868.4 1467.1,868.2 1467.6,870.0 1468.0,869.4 1468.5,869.2 1468.9,870.0 1469.4,868.7 1469.8,868.8 1470.3,869.3 1470.7,869.6 1471.2,869.9 1471.6,868.5 1472.1,870.0 1472.5,869.3 1473.0,869.7 1473.4,868.5 1473.9,868.4 1474.3,869.5 1474.8,869.6 1475.2,870.0 1475.7,870.0 1476.1,869.3 1476.6,869.2 1477.0,869.5 1477.5,870.0 1477.9,870.0 1478.4,870.0 1478.8,869.7 1479.3,870.0 1479.7,870.0 1480.2,870.0 1480.6,868.8 1481.1,870.0 1481.5,869.1 1482.0,868.0 1482.4,869.0 1482.9,869.0 1483.3,870.0 1483.8,869.7 1484.2,870.0 1484.7,868.8 1485.1,868.8 1485.6,868.0 1486.0,869.0 1486.5,868.6 1486.9,869.4 1487.4,868.1 1487.8,867.2 1488.3,867.3 1488.7,866.3 1489.2,865.8 1489.6,864.3 1490.1,863.8 1490.5,865.1 1491.0,865.7 1491.4,866.1 1491.9,867.2 1492.3,868.1 1492.8,869.1 1493.2,868.2 1493.7,869.2 1494.1,869.1 1494.6,868.5 1495.0,868.3 1495.5,869.7 1495.9,869.6 1496.4,868.7 1496.8,869.6 1497.3,868.1 1497.7,868.7 1498.2,869.4 1498.6,870.0 1499.1,868.9 1499.5,869.4 1500.0,870.0 1500.4,870.0 1500.9,869.8 1501.3,869.1 1501.8,870.0 1502.2,869.8 1502.7,869.6 1503.1,867.9 1503.6,869.5 1504.0,869.6 1504.5,869.8 1504.9,869.5 1505.4,869.3 1505.8,869.9 1506.3,869.4 1506.7,868.3 1507.2,870.0 1507.6,869.3 1508.1,868.3 1508.5,870.0 1509.0,869.8 1509.4,870.0 1509.9,869.1 1510.3,868.9 1510.8,869.4 1511.2,869.8 1511.7,869.9 1512.1,869.6 1512.6,868.9 1513.0,869.5 1513.5,868.6 1513.9,868.2 1514.4,870.0 1514.8,868.4 1515.3,868.7 1515.7,869.8 1516.2,870.0 1516.6,870.0 1517.1,869.2 1517.5,870.0 1518.0,868.7 1518.4,870.0 1518.9,869.6"/>
<polyline stroke="#F14040" points="46.0,1009.0 46.5,1010.3 46.9,1006.8 47.4,1009.3 47.8,1009.8 48.3,1010.3 48.7,1007.1 49.2,1010.3 49.6,1007.7 50.1,1009.9 50.5,1008.8 51.0,1009.3 51.4,1007.7 51.9,1007.4 52.3,1010.3 52.8,1006.8 53.2,1007.4 53.7,1006.8 54.1,1006.0 54.6,1010.3 55.0,1005.3 55.5,1010.3 55.9,1010.1 56.4,1008.2 56.8,1006.9 57.3,1007.6 57.7,1008.2 58.2,1007.8 58.6,1010.3 59.1,1008.8 59.5,1004.1 60.0,1010.3 60.4,1009.3 60.9,1009.0 61.3,1010.3 61.8,1009.1 62.2,1008.6 62.7,1009.3 63.1,1009.0 63.6,1010.3 64.0,1007.7 64.5,1010.1 64.9,1010.3 65.4,1004.8 65.8,1009.9 66.3,1009.8 66.7,1010.3 67.2,1008.1 67.6,1010.3 68.1,1010.2 68.5,1007.4 69.0,1007.8 69.4,1010.2 69.9,1007.8 70.3,1008.0 70.8,1009.1 71.2,1010.3 71.7,1007.9 72.1,1010.3 72.6,1008.1 73.0,1008.8 73.5,1010.3 73.9,1010.3 74.4,1004.1 74.8,1010.3 75.3,1008.7 75.7,1009.4 76.2,1007.9 76.6,1008.2 77.1,1007.0 77.5,1007.4 78.0,1008.8 78.4,1010.3 78.9,1009.4 79.3,1007.8 79.8,1007.8 80.2,1006.6 80.7,1009.2 81.1,1010.3 81.6,1009.9 82.0,1008.3 82.5,1007.0 82.9,1006.9 83.4,1007.4 83.8,1010.3 84.3,1009.6 84.7,1007.8 85.2,1008.2 85.6,1007.2 86.1,1010.3 86.5,1007.7 87.0,1010.3 87.4,1009.8 87.9,1008.7 88.3,1009.5 88.8,1007.2 89.2,1009.3 89.7,1008.8 90.1,1007.5 90.6,1010.3 91.0,1006.0 91.5,1010.1 91.9,1007.7 92.4,1008.4 92.8,1009.6 93.3,1008.6 93.7,1008.2 94.2,1009.7 94.6,1004.7 95.1,1010.3 95.5,1008.8 96.0,1006.7 96.4,1007.9 96.9,1006.8 97.3,1010.3 97.8,1009.3 98.2,1008.8 98.7,1006.4 99.1,1010.3 99.6,1008.9 100.0,1005.3 100.5,1008.1 100.9,1008.0 101.4,1009.0 101.8,1006.6 102.3,1010.3 102.7,1010.3 103.2,1009.9 103.6,1008.6 104.1,1008.8 104.5,1010.3 105.0,1008.6 105.4,1010.3 105.9,1003.5 106.3,1009.4 106.8,1006.8 107.2,1009.9 107.7,1009.3 108.1,1010.3 108.6,1007.2 109.0,1006.3 109.5,1010.3 109.9,1007.9 110.4,1007.4 110.8,1006.2 111.3,1009.7 111.7,1005.8 112.2,1010.3 112.6,1008.2 113.1,1009.5 113.5,1009.1 114.0,1006.5 114.4,1007.5 114.9,1003.0 115.3,1008.7 115.8,1009.9 116.2,1006.3 116.7,1008.0 117.1,1009.4 117.6,1006.0 118.0,1005.7 118.5,1010.3 118.9,1009.2 119.4,1006.2 119.8,1010.0 120.3,1005.3 120.7,1008.8 121.2,1007.7 121.6,1008.2 122.1,1010.3 122.5,1008.8 123.0,1009.8 123.4,1009.3 123.9,1006.4 124.3,1007.2 124.8,1009.0 125.2,1008.0 125.7,1005.6 126.1,1008.6 126.6,1009.3 127.0,1007.1 127.5,1009.6 127.9,1010.3 128.4,1004.9 128.8,1010.3 129.3,1008.2 129.7,1007.7 130.2,1009.1 130.6,1004.9 131.1,1004.8 131.5,1007.7 132.0,1010.3 132.4,1007.8 132.9,1010.3 133.3,1007.4 133.8,1006.9 134.2,1007.9 134.7,1006.1 135.1,1008.2 135.6,1010.3 136.0,1009.4 136.5,1006.4 136.9,1010.3 137.4,1008.2 137.8,1010.3 138.3,1004.3 138.7,1010.3 139.2,1010.3 139.6,1007.1 140.1,1007.2 140.5,1010.3 141.0,1009.3 141.4,1010.3 141.9,1009.4 142.3,1007.5 142.8,1008.5 143.2,1009.2 143.7,1010.2 144.1,1006.8 144.6,1005.4 145.0,1006.1 145.5,1010.3 145.9,1008.4 146.4,1010.3 146.8,1009.4 147.3,1007.9 147.7,1003.4 148.2,1008.0 148.6,1008.6 149.1,1009.6 149.5,1007.5 150.0,1010.3 150.4,1007.2 150.9,1006.9 151.3,1010.3 151.8,1005.4 152.2,1004.1 152.7,1010.1 153.1,1007.0 153.6,1009.5 154.0,1009.9 154.5,1006.9 154.9,1007.9 155.4,1010.3 155.8,1010.3 156.3,1008.1 156.7,1010.3 157.2,1010.3 157.6,1009.1 158.1,1009.5 158.5,1007.8 159.0,1004.6 159.4,1010.3 159.9,1005.6 160.3,1010.3 160.8,1008.4 161.2,1006.4 161.7,1003.8 162.1,1010.3 162.6,1005.2 163.0,1008.7 163.5,1008.2 163.9,1007.4 164.4,1004.7 164.8,1003.7 165.3,1007.7 165.7,1009.7 166.2,1010.0 166.6,1010.3 167.1,1010.3 167.5,1006.4 168.0,1010.3 168.4,1010.3 168.9,1009.7 169.3,1009.9 169.8,1010.3 170.2,1010.3 170.7,1009.7 171.1,1005.7 171.6,1007.1 172.0,1008.2 172.5,1009.9 172.9,1008.2 173.4,1007.9 173.8,1010.2 174.3,1010.3 174.7,1008.0 175.2,1009.9 175.6,1010.0 176.1,1008.6 176.5,1008.6 177.0,1010.3 177.4,1005.3 177.9,1007.9 178.3,1008.8 178.8,1007.0 179.2,1005.7 179.7,1008.4 180.1,1010.3 180.6,1010.3 181.0,1008.6 181.5,1008.2 181.9,1005.6 182.4,1007.4 182.8,1008.9 183.3,1006.8 183.7,1009.6 184.2,1006.4 184.6,1010.3 185.1,1005.3 185.5,1008.6 186.0,1006.6 186.4,1008.8 186.9,1010.3 187.3,1008.7 187.8,1008.2 188.2,1007.8 188.7,1008.0 189.1,1007.4 189.6,1009.3 190.0,1010.3 190.5,1009.1 190.9,1010.3 191.4,1008.6 191.8,1008.8 192.3,1008.1 192.7,1009.2 193.2,1006.9 193.6,1007.0 194.1,1006.8 194.5,1007.3 195.0,1006.6 195.4,1006.2 195.9,1007.8 196.3,1010.3 196.8,1009.2 197.2,1004.8 197.7,1010.3 198.1,1007.7 198.6,1009.1 199.0,1005.0 199.5,1007.1 199.9,1008.4 200.4,1007.8 200.8,1010.3 201.3,1003.9 201.7,1006.4 202.2,1009.5 202.6,1008.9 203.1,1006.6 203.5,1009.0 204.0,1009.3 204.4,1006.0 204.9,1007.9 205.3,1006.8 205.8,1005.8 206.2,1009.2 206.7,1004.5 207.1,1005.7 207.6,1009.5 208.0,1010.0 208.5,1007.2 208.9,1006.8 209.4,1008.8 209.8,1007.9 210.3,1007.8 210.7,1008.0 211.2,1006.6 211.6,1004.3 212.1,1003.6 212.5,1008.8 213.0,1007.3 213.4,1008.4 213.9,1007.3 214.3,1007.9 214.8,1004.5 215.2,1005.3 215.7,1008.2 216.1,1004.5 216.6,1008.4 217.0,1006.8 217.5,1005.9 217.9,1007.7 218.4,1008.4 218.8,1006.3 219.3,1005.4 219.7,1007.2 220.2,1003.4 220.6,1005.5 221.1,1007.9 221.5,1005.4 222.0,1007.4 222.4,1005.9 222.9,1005.4 223.3,1005.7 223.8,1003.6 224.2,1006.3 224.7,1005.7 225.1,1007.2 225.6,1009.5 226.0,1007.7 226.5,1006.3 226.9,1010.3 227.4,1005.9 227.8,1005.8 228.3,1004.4 228.7,1005.8 229.2,1004.4 229.6,1006.5 230.1,1007.3 230.5,1005.4 231.0,1008.4 231.4,1003.9 231.9,1008.7 232.3,1003.6 232.8,1007.5 233.2,1007.3 233.7,1008.4 234.1,1006.8 234.6,1006.1 235.0,1009.2 235.5,1009.7 235.9,1006.4 236.4,1009.2 236.8,1005.1 237.3,1004.0 237.7,1007.3 238.2,1000.1 238.6,1006.3 239.1,1008.3 239.5,1002.6 240.0,1005.3 240.4,1007.2 240.9,1006.2 241.3,1003.4 241.8,1003.0 242.2,1006.1 242.7,1008.1 243.1,1007.1 243.6,1004.7 244.0,1005.9 244.5,1005.3 244.9,1005.3 245.4,1002.9 245.8,1006.6 246.3,1006.2 246.7,1010.0 247.2,1006.2 247.6,1009.3 248.1,1007.4 248.5,1005.7 249.0,1007.1 249.4,1006.1 249.9,1010.2 250.3,1006.6 250.8,1005.5 251.2,1005.8 251.7,1005.0 252.1,1007.2 252.6,1004.5 253.0,1006.9 253.5,1006.3 253.9,1003.8 254.4,1003.0 254.8,1004.1 255.3,1007.8 255.7,1006.3 256.2,1006.6 256.6,1005.5 257.1,1002.6 257.5,1003.4 258.0,1008.0 258.4,1005.0 258.9,1005.1 259.3,1006.9 259.8,1006.4 260.2,1003.3 260.7,1005.9 261.1,1005.9 261.6,1006.5 262.0,1010.3 262.5,1005.4 262.9,1003.8 263.4,1001.6 263.8,1001.0 264.3,1007.4 264.7,1005.6 265.2,1006.6 265.6,1005.0 266.1,1007.6 266.5,1005.0 267.0,1004.3 267.4,1004.3 267.9,1004.8 268.3,1003.6 268.8,1006.0 269.2,1006.4 269.7,1005.7 270.1,1006.1 270.6,1004.8 271.0,1003.6 271.5,1005.8 271.9,1008.9 272.4,1008.8 272.8,1004.8 273.3,1004.5 273.7,1004.6 274.2,1010.3 274.6,1004.1 275.1,1000.4 275.5,1005.7 276.0,1006.1 276.4,1003.5 276.9,1007.1 277.3,1007.7 277.8,1003.4 278.2,1007.5 278.7,1004.4 279.1,1006.8 279.6,1006.4 280.0,1007.5 280.5,1004.8 280.9,1005.9 281.4,1006.1 281.8,1006.7 282.3,1007.0 282.7,1003.8 283.2,1004.3 283.6,1004.0 284.1,1008.1 284.5,1005.1 285.0,1009.2 285.4,1003.0 285.9,1002.5 286.3,1003.3 286.8,1005.1 287.2,1004.9 287.7,1006.4 288.1,1007.6 288.6,1004.4 289.0,1004.1 289.5,1007.0 289.9,1008.8 290.4,1007.3 290.8,1007.0 291.3,1007.6 291.7,1009.9 292.2,1009.2 292.6,1006.4 293.1,1002.9 293.5,1009.2 294.0,1006.2 294.4,1007.1 294.9,1005.9 295.3,1006.4 295.8,1004.4 296.2,1006.5 296.7,1007.9 297.1,1006.3 297.6,1006.5 298.0,1005.1 298.5,1005.6 298.9,1005.6 299.4,1006.7 299.8,1007.1 300.3,1007.3 300.7,1006.4 301.2,1004.5 301.6,1004.0 302.1,1008.0 302.5,1007.3 303.0,1007.0 303.4,1003.5 303.9,1008.6 304.3,1006.8 304.8,1010.3 305.2,1006.3 305.7,1008.8 306.1,1007.1 306.6,1005.4 307.0,1009.7 307.5,1010.3 307.9,1006.4 308.4,1008.4 308.8,1006.3 309.3,1004.5 309.7,1009.1 310.2,1009.7 310.6,1008.9 311.1,1010.3 311.5,1008.9 312.0,1005.4 312.4,1009.0 312.9,1010.2 313.3,1006.8 313.8,1006.6 314.2,1010.3 314.7,1007.4 315.1,1008.5 315.6,1006.9 316.0,1009.1 316.5,1008.5 316.9,1009.7 317.4,1003.8 317.8,1006.7 318.3,1006.4 318.7,1006.5 319.2,1007.6 319.6,1005.5 320.1,1006.8 320.5,1003.3 321.0,1006.3 321.4,1005.1 321.9,1010.2 322.3,1008.9 322.8,1008.7 323.2,1010.3 323.7,1008.9 324.1,1008.9 324.6,1010.0 325.0,1006.8 325.5,1009.1 325.9,1008.0 326.4,1010.3 326.8,1008.6 327.3,1009.5 327.7,1009.5 328.2,1006.7 328.6,1007.8 329.1,1010.1 329.5,1009.9 330.0,1007.3 330.4,1009.7 330.9,1008.9 331.3,1006.4 331.8,1006.7 332.2,1008.6 332.7,1008.7 333.1,1008.3 333.6,1009.0 334.0,1008.7 334.5,1006.9 334.9,1008.2 335.4,1008.4 335.8,1009.1 336.3,1007.5 336.7,1009.5 337.2,1008.2 337.6,1010.3 338.1,1009.4 338.5,1008.6 339.0,1009.9 339.4,1008.7 339.9,1009.0 340.3,1009.8 340.8,1008.3 341.2,1008.8 341.7,1009.8 342.1,1009.0 342.6,1008.1 343.0,1010.3 343.5,1010.3 343.9,1008.2 344.4,1010.3 344.8,1010.2 345.3,1010.3 345.7,1009.9 346.2,1009.3 346.6,1010.3 347.1,1009.1 347.5,1010.3 348.0,1010.2 348.4,1008.2 348.9,1007.7 349.3,1009.9 349.8,1008.1 350.2,1010.3 350.7,1008.6 351.1,1010.3 351.6,1009.2 352.0,1010.1 352.5,1010.3 352.9,1010.0 353.4,1010.2 353.8,1010.0 354.3,1009.0 354.7,1010.3 355.2,1010.3 355.6,1009.9 356.1,1010.3 356.5,1010.0 357.0,1010.3 357.4,1009.0 357.9,1010.3 358.3,1008.9 358.8,1009.0 359.2,1010.3 359.7,1009.2 360.1,1008.4 360.6,1010.2 361.0,1009.5 361.5,1010.3 361.9,1008.7 362.4,1009.7 362.8,1008.2 363.3,1008.9 363.7,1010.0 364.2,1010.3 364.6,1009.0 365.1,1008.7 365.5,1010.3 366.0,1008.9 366.4,1009.5 366.9,1010.3 367.3,1010.3 367.8,1010.1 368.2,1008.9 368.7,1010.3 369.1,1010.2 369.6,1010.2 370.0,1010.3 370.5,1010.3 370.9,1009.6 371.4,1008.9 371.8,1010.3 372.3,1010.3 372.7,1010.1 373.2,1010.3 373.6,1009.8 374.1,1010.3 374.5,1009.3 375.0,1010.3 375.4,1009.0 375.9,1010.3 376.3,1010.3 376.8,1010.3 377.2,1009.6 377.7,1009.7 378.1,1009.1 378.6,1010.3 379.0,1010.3 379.5,1010.3 379.9,1010.3 380.4,1010.3 380.8,1009.7 381.3,1010.3 381.7,1010.2 382.2,1010.3 382.6,1010.2 383.1,1010.3 383.5,1009.0 384.0,1009.2 384.4,1009.9 384.9,1008.2 385.3,1009.6 385.8,1010.2 386.2,1010.3 386.7,1010.3 387.1,1009.4 387.6,1008.4 388.0,1010.3 388.5,1009.2 388.9,1010.3 389.4,1010.3 389.8,1010.3 390.3,1010.3 390.7,1010.3 391.2,1009.8 391.6,1010.3 392.1,1008.3 392.5,1009.4 393.0,1010.3 393.4,1010.3 393.9,1007.7 394.3,1010.3 394.8,1009.5 395.2,1010.3 395.7,1006.8 396.1,1010.3 396.6,1008.2 397.0,1009.6 397.5,1010.3 397.9,1010.3 398.4,1010.3 398.8,1010.3 399.3,1009.5 399.7,1008.0 400.2,1010.3 400.6,1009.6 401.1,1009.1 401.5,1010.3 402.0,1010.3 402.4,1010.3 402.9,1009.4 403.3,1010.3 403.8,1008.5 404.2,1009.0 404.7,1010.3 405.1,1009.6 405.6,1009.8 406.0,1010.3 406.5,1010.2 406.9,1010.0 407.4,1010.3 407.8,1008.8 408.3,1010.3 408.7,1010.3 409.2,1009.4 409.6,1010.3 410.1,1008.3 410.5,1008.8 411.0,1010.0 411.4,1008.5 411.9,1008.3 412.3,1010.3 412.8,1010.3 413.2,1010.3 413.7,1010.3 414.1,1009.1 414.6,1009.3 415.0,1010.0 415.5,1007.7 415.9,1010.1 416.4,1009.2 416.8,1010.3 417.3,1010.3 417.7,1009.9 418.2,1008.8 418.6,1010.3 419.1,1008.5 419.5,1010.3 420.0,1008.8 420.4,1010.2 420.9,1010.3 421.3,1010.3 421.8,1007.7 422.2,1010.1 422.7,1010.3 423.1,1010.3 423.6,1010.3 424.0,1008.6 424.5,1008.3 424.9,1007.8 425.4,1009.4 425.8,1010.3 426.3,1010.3 426.7,1008.4 427.2,1010.3 427.6,1010.3 428.1,1010.3 428.5,1010.1 429.0,1008.8 429.4,1010.2 429.9,1008.5 430.3,1009.1 430.8,1009.8 431.2,1010.3 431.7,1010.3 432.1,1010.0 432.6,1009.3 433.0,1008.2 433.5,1010.3 433.9,1009.3 434.4,1009.4 434.8,1008.9 435.3,1009.8 435.7,1010.2 436.2,1010.1 436.6,1009.6 437.1,1008.8 437.5,1010.3 438.0,1010.3 438.4,1010.3 438.9,1010.0 439.3,1010.3 439.8,1008.5 440.2,1009.9 440.7,1010.3 441.1,1010.3 441.6,1010.3 442.0,1010.3 442.5,1010.3 442.9,1007.3 443.4,1006.9 443.8,1010.3 444.3,1009.9 444.7,1009.8 445.2,1010.3 445.6,1010.3 446.1,1010.3 446.5,1010.2 447.0,1010.3 447.4,1010.3 447.9,1009.2 448.3,1009.4 448.8,1009.3 449.2,1009.4 449.7,1010.3 450.1,1009.4 450.6,1010.3 451.0,1009.1 451.5,1010.3 451.9,1009.5 452.4,1010.3 452.8,1008.6 453.3,1010.2 453.7,1009.8 454.2,1010.3 454.6,1008.6 455.1,1009.1 455.5,1008.4 456.0,1010.3 456.4,1009.5 456.9,1010.2 457.3,1010.3 457.8,1009.7 458.2,1010.3 458.7,1008.8 459.1,1010.3 459.6,1010.3 460.0,1010.3 460.5,1009.4 460.9,1010.3 461.4,1010.3 461.8,1009.9 462.3,1009.0 462.7,1010.3 463.2,1009.9 463.6,1010.3 464.1,1010.0 464.5,1009.8 465.0,1010.3 465.4,1008.4 465.9,1010.3 466.3,1009.2 466.8,1009.3 467.2,1010.3 467.7,1008.5 468.1,1010.3 468.6,1010.3 469.0,1009.7 469.5,1007.8 469.9,1008.5 470.4,1010.3 470.8,1010.3 471.3,1010.1 471.7,1010.3 472.2,1010.3 472.6,1010.3 473.1,1010.3 473.5,1008.5 474.0,1010.0 474.4,1010.3 474.9,1010.0 475.3,1008.5 475.8,1010.3 476.2,1008.9 476.7,1010.3 477.1,1010.3 477.6,1007.2 478.0,1010.0 478.5,1010.3 478.9,1008.5 479.4,1010.3 479.8,1008.9 480.3,1010.1 480.7,1010.3 481.2,1008.1 481.6,1010.1 482.1,1010.3 482.5,1008.6 483.0,1009.9 483.4,1007.5 483.9,1008.7 484.3,1009.7 484.8,1010.3 485.2,1010.3 485.7,1010.2 486.1,1010.3 486.6,1009.9 487.0,1008.9 487.5,1009.5 487.9,1008.4 488.4,1008.9 488.8,1009.5 489.3,1010.3 489.7,1010.3 490.2,1010.3 490.6,1010.0 491.1,1008.6 491.5,1010.3 492.0,1010.3 492.4,1010.3 492.9,1010.3 493.3,1010.3 493.8,1007.9 494.2,1008.7 494.7,1009.7 495.1,1009.4 495.6,1010.3 496.0,1010.3 496.5,1010.3 496.9,1009.8 497.4,1009.1 497.8,1008.7 498.3,1010.3 498.7,1009.3 499.2,1010.3 499.6,1009.6 500.1,1010.3 500.5,1009.5 501.0,1010.3 501.4,1009.9 501.9,1010.1 502.3,1010.3 502.8,1008.8 503.2,1009.3 503.7,1009.1 504.1,1008.2 504.6,1010.3 505.0,1009.0 505.5,1010.3 505.9,1010.1 506.4,1010.3 506.8,1010.3 507.3,1009.4 507.7,1008.8 508.2,1009.2 508.6,1008.8 509.1,1008.9 509.5,1010.0 510.0,1009.2 510.4,1010.1 510.9,1010.3 511.3,1008.7 511.8,1010.2 512.2,1010.3 512.7,1010.3 513.1,1009.4 513.6,1009.9 514.0,1010.2 514.5,1009.5 514.9,1010.2 515.4,1010.3 515.8,1010.3 516.3,1009.3 516.7,1008.3 517.2,1010.3 517.6,1010.3 518.1,1009.1 518.5,1009.1 519.0,1008.9 519.4,1010.3 519.9,1009.5 520.3,1010.3 520.8,1009.4 521.2,1010.3 521.7,1009.4 522.1,1010.3 522.6,1007.5 523.0,1010.3 523.5,1009.5 523.9,1008.2 524.4,1009.7 524.8,1008.9 525.3,1010.3 525.7,1008.5 526.2,1008.1 526.6,1008.2 527.1,1009.8 527.5,1007.9 528.0,1008.9 528.4,1009.2 528.9,1010.0 529.3,1008.4 529.8,1008.7 530.2,1009.8 530.7,1010.0 531.1,1009.1 531.6,1010.3 532.0,1008.0 532.5,1008.1 532.9,1007.8 533.4,1009.3 533.8,1005.7 534.3,1008.2 534.7,1007.0 535.2,1007.7 535.6,1007.3 536.1,1009.2 536.5,1006.8 537.0,1008.6 537.4,1009.6 537.9,1008.0 538.3,1006.2 538.8,1006.7 539.2,1007.1 539.7,1008.4 540.1,1005.9 540.6,1006.7 541.0,1007.8 541.5,1006.1 541.9,1007.4 542.4,1007.9 542.8,1006.7 543.3,1006.6 543.7,1008.2 544.2,1005.3 544.6,1007.9 545.1,1006.9 545.5,1008.1 546.0,1008.3 546.4,1008.1 546.9,1008.7 547.3,1008.2 547.8,1007.7 548.2,1009.4 548.7,1007.5 549.1,1007.5 549.6,1008.5 550.0,1007.6 550.5,1007.8 550.9,1007.3 551.4,1008.1 551.8,1008.8 552.3,1009.0 552.7,1008.6 553.2,1008.5 553.6,1007.6 554.1,1009.1 554.5,1008.9 555.0,1008.8 555.4,1006.8 555.9,1005.4 556.3,1009.3 556.8,1009.6 557.2,1009.8 557.7,1008.2 558.1,1007.9 558.6,1007.9 559.0,1008.4 559.5,1007.9 559.9,1007.5 560.4,1005.0 560.8,1007.9 561.3,1007.1 561.7,1008.2 562.2,1007.5 562.6,1007.4 563.1,1004.9 563.5,1008.4 564.0,1007.7 564.4,1008.1 564.9,1006.8 565.3,1007.0 565.8,1008.1 566.2,1006.6 566.7,1006.5 567.1,1006.5 567.6,1006.8 568.0,1005.5 568.5,1005.9 568.9,1005.7 569.4,1005.5 569.8,1006.0 570.3,1005.3 570.7,1004.9 571.2,1005.3 571.6,1003.6 572.1,1005.2 572.5,1002.9 573.0,1003.7 573.4,1003.5 573.9,1002.2 574.3,1001.9 574.8,1000.2 575.2,1001.2 575.7,1000.5 576.1,998.4 576.6,995.8 577.0,997.5 577.5,993.9 577.9,991.3 578.4,992.3 578.8,988.5 579.3,987.5 579.7,985.1 580.2,981.6 580.6,977.5 581.1,973.1 581.5,965.9 582.0,958.2 582.4,944.6 582.9,929.5 583.3,907.8 583.8,871.8 584.2,816.7 584.7,752.6 585.1,733.0 585.6,780.5 586.0,841.2 586.5,889.8 586.9,918.8 587.4,935.6 587.8,949.6 588.3,957.7 588.7,964.5 589.2,969.1 589.6,972.9 590.1,976.7 590.5,979.5 591.0,980.5 591.4,983.8 591.9,986.2 592.3,988.3 592.8,990.7 593.2,992.8 593.7,991.9 594.1,996.2 594.6,996.0 595.0,997.4 595.5,998.6 595.9,998.9 596.4,997.4 596.8,999.0 597.3,1001.8 597.7,1003.7 598.2,1002.3 598.6,1003.2 599.1,1004.4 599.5,1003.1 600.0,1004.6 600.4,1005.0 600.9,1003.0 601.3,1004.1 601.8,1005.6 602.2,1004.0 602.7,1005.6 603.1,1006.5 603.6,1006.8 604.0,1006.8 604.5,1006.9 604.9,1007.6 605.4,1007.3 605.8,1008.4 606.3,1008.6 606.7,1006.9 607.2,1006.7 607.6,1007.6 608.1,1008.8 608.5,1008.0 609.0,1009.2 609.4,1009.2 609.9,1008.7 610.3,1007.6 610.8,1006.1 611.2,1007.6 611.7,1008.8 612.1,1009.4 612.6,1007.9 613.0,1007.6 613.5,1008.9 613.9,1007.6 614.4,1007.5 614.8,1008.8 615.3,1008.8 615.7,1009.6 616.2,1010.3 616.6,1009.1 617.1,1008.9 617.5,1009.6 618.0,1009.6 618.4,1008.2 618.9,1009.3 619.3,1006.7 619.8,1008.7 620.2,1008.2 620.7,1009.6 621.1,1009.6 621.6,1009.9 622.0,1010.3 622.5,1008.0 622.9,1008.4 623.4,1009.9 623.8,1009.1 624.3,1009.1 624.7,1010.0 625.2,1009.3 625.6,1010.3 626.1,1009.4 626.5,1008.8 627.0,1009.7 627.4,1008.3 627.9,1008.8 628.3,1010.3 628.8,1009.2 629.2,1009.7 629.7,1009.9 630.1,1010.3 630.6,1008.8 631.0,1010.3 631.5,1008.8 631.9,1009.0 632.4,1008.4 632.8,1010.1 633.3,1008.5 633.7,1010.3 634.2,1008.1 634.6,1009.3 635.1,1009.7 635.5,1009.5 636.0,1008.8 636.4,1010.3 636.9,1009.6 637.3,1010.3 637.8,1009.7 638.2,1010.3 638.7,1009.6 639.1,1008.8 639.6,1010.3 640.0,1009.8 640.5,1008.7 640.9,1009.4 641.4,1008.6 641.8,1010.3 642.3,1010.3 642.7,1009.7 643.2,1008.7 643.6,1010.3 644.1,1008.8 644.5,1010.3 645.0,1008.3 645.4,1010.3 645.9,1008.2 646.3,1010.3 646.8,1010.2 647.2,1010.3 647.7,1010.0 648.1,1007.6 648.6,1009.3 649.0,1010.1 649.5,1010.3 649.9,1009.0 650.4,1010.3 650.8,1009.3 651.3,1009.3 651.7,1010.1 652.2,1009.6 652.6,1010.0 653.1,1009.3 653.5,1009.8 654.0,1009.1 654.4,1010.3 654.9,1009.5 655.3,1009.8 655.8,1010.3 656.2,1010.3 656.7,1008.8 657.1,1010.3 657.6,1010.3 658.0,1009.2 658.5,1008.9 658.9,1009.0 659.4,1008.3 659.8,1009.3 660.3,1009.0 660.7,1009.8 661.2,1009.3 661.6,1008.1 662.1,1009.4 662.5,1010.3 663.0,1010.3 663.4,1009.0 663.9,1010.3 664.3,1010.3 664.8,1010.3 665.2,1007.7 665.7,1010.1 666.1,1010.3 666.6,1009.1 667.0,1009.7 667.5,1010.3 667.9,1010.3 668.4,1010.3 668.8,1009.9 669.3,1009.3 669.7,1010.1 670.2,1008.2 670.6,1010.3 671.1,1008.5 671.5,1010.3 672.0,1009.8 672.4,1010.3 672.9,1010.0 673.3,1009.6 673.8,1010.3 674.2,1010.3 674.7,1010.3 675.1,1010.3 675.6,1009.6 676.0,1010.2 676.5,1009.4 676.9,1010.1 677.4,1009.7 677.8,1007.7 678.3,1008.9 678.7,1010.3 679.2,1010.3 679.6,1009.5 680.1,1009.1 680.5,1010.3 681.0,1010.3 681.4,1010.0 681.9,1008.4 682.3,1009.4 682.8,1010.2 683.2,1009.9 683.7,1010.3 684.1,1009.1 684.6,1010.3 685.0,1010.1 685.5,1009.2 685.9,1010.1 686.4,1008.9 686.8,1008.8 687.3,1008.0 687.7,1009.7 688.2,1010.3 688.6,1010.3 689.1,1009.6 689.5,1010.3 690.0,1008.4 690.4,1010.3 690.9,1010.3 691.3,1010.0 691.8,1009.1 692.2,1009.9 692.7,1009.0 693.1,1009.6 693.6,1008.7 694.0,1007.8 694.5,1009.8 694.9,1009.0 695.4,1010.3 695.8,1008.9 696.3,1007.1 696.7,1007.7 697.2,1006.6 697.6,1008.1 698.1,1009.1 698.5,1007.0 699.0,1005.7 699.4,1007.5 699.9,1008.0 700.3,1008.3 700.8,1006.4 701.2,1004.9 701.7,1006.9 702.1,1005.5 702.6,1005.0 703.0,1002.6 703.5,1002.4 703.9,999.0 704.4,998.7 704.8,994.5 705.3,989.9 705.7,985.7 706.2,983.5 706.6,986.1 707.1,989.9 707.5,994.9 708.0,997.8 708.4,1000.4 708.9,1000.4 709.3,1001.6 709.8,1004.4 710.2,1002.4 710.7,1002.0 711.1,1004.3 711.6,1003.2 712.0,1001.3 712.5,1000.5 712.9,999.3 713.4,995.3 713.8,995.3 714.3,994.9 714.7,996.0 715.2,1000.4 715.6,1001.5 716.1,1004.6 716.5,1005.2 717.0,1005.4 717.4,1006.6 717.9,1006.9 718.3,1007.3 718.8,1008.0 719.2,1007.1 719.7,1006.3 720.1,1008.5 720.6,1010.1 721.0,1009.0 721.5,1009.1 721.9,1008.0 722.4,1008.4 722.8,1010.1 723.3,1008.7 723.7,1010.3 724.2,1008.5 724.6,1007.8 725.1,1010.3 725.5,1008.8 726.0,1009.8 726.4,1010.0 726.9,1009.3 727.3,1009.0 727.8,1009.9 728.2,1010.1 728.7,1010.0 729.1,1009.0 729.6,1007.5 730.0,1008.8 730.5,1010.3 730.9,1009.5 731.4,1010.3 731.8,1008.6 732.3,1009.1 732.7,1008.7 733.2,1008.7 733.6,1009.5 734.1,1009.8 734.5,1008.4 735.0,1009.9 735.4,1009.1 735.9,1010.3 736.3,1010.3 736.8,1009.2 737.2,1010.0 737.7,1010.2 738.1,1009.3 738.6,1010.3 739.0,1010.3 739.5,1010.1 739.9,1008.5 740.4,1009.1 740.8,1009.4 741.3,1010.3 741.7,1009.5 742.2,1010.2 742.6,1010.3 743.1,1010.3 743.5,1008.0 744.0,1009.8 744.4,1009.9 744.9,1009.0 745.3,1009.0 745.8,1009.8 746.2,1009.9 746.7,1010.3 747.1,1007.7 747.6,1009.0 748.0,1009.6 748.5,1009.7 748.9,1010.3 749.4,1008.6 749.8,1007.4 750.3,1010.3 750.7,1009.7 751.2,1008.0 751.6,1009.9 752.1,1010.3 752.5,1010.3 753.0,1009.2 753.4,1010.1 753.9,1009.0 754.3,1010.3 754.8,1008.9 755.2,1009.9 755.7,1010.3 756.1,1009.4 756.6,1009.7 757.0,1010.3 757.5,1009.3 757.9,1010.3 758.4,1010.3 758.8,1010.3 759.3,1010.3 759.7,1009.7 760.2,1010.2 760.6,1010.3 761.1,1010.2 761.5,1009.6 762.0,1009.4 762.4,1010.3 762.9,1009.7 763.3,1010.3 763.8,1010.3 764.2,1009.6 764.7,1008.1 765.1,1009.5 765.6,1009.4 766.0,1010.3 766.5,1009.8 766.9,1008.2 767.4,1009.7 767.8,1009.2 768.3,1009.3 768.7,1006.3 769.2,1006.7 769.6,1006.8 770.1,1006.1 770.5,1007.3 771.0,1007.8 771.4,1007.8 771.9,1007.8 772.3,1007.5 772.8,1010.3 773.2,1010.3 773.7,1008.5 774.1,1009.6 774.6,1009.1 775.0,1009.0 775.5,1010.3 775.9,1009.6 776.4,1010.3 776.8,1010.3 777.3,1010.3 777.7,1007.0 778.2,1009.8 778.6,1010.3 779.1,1008.9 779.5,1009.3 780.0,1008.5 780.4,1010.1 780.9,1009.1 781.3,1010.3 781.8,1009.1 782.2,1010.3 782.7,1009.7 783.1,1010.3 783.6,1010.3 784.0,1009.9 784.5,1010.3 784.9,1010.3 785.4,1008.3 785.8,1009.9 786.3,1010.3 786.7,1010.3 787.2,1010.0 787.6,1009.5 788.1,1010.3 788.5,1010.3 789.0,1009.8 789.4,1010.3 789.9,1010.3 790.3,1009.3 790.8,1010.3 791.2,1010.3 791.7,1010.3 792.1,1010.3 792.6,1009.3 793.0,1009.1 793.5,1010.3 793.9,1010.2 794.4,1010.3 794.8,1010.3 795.3,1009.1 795.7,1010.3 796.2,1009.2 796.6,1010.2 797.1,1009.2 797.5,1010.3 798.0,1010.3 798.4,1008.3 798.9,1007.4 799.3,1008.2 799.8,1009.8 800.2,1009.7 800.7,1009.6 801.1,1009.8 801.6,1007.8 802.0,1009.2 802.5,1008.3 802.9,1009.6 803.4,1008.7 803.8,1010.3 804.3,1010.3 804.7,1010.3 805.2,1009.0 805.6,1008.3 806.1,1010.2 806.5,1009.7 807.0,1010.3 807.4,1010.3 807.9,1010.3 808.3,1008.8 808.8,1010.3 809.2,1010.3 809.7,1010.3 810.1,1010.3 810.6,1010.3 811.0,1010.3 811.5,1008.9 811.9,1010.1 812.4,1009.9 812.8,1010.3 813.3,1010.3 813.7,1010.2 814.2,1010.3 814.6,1009.8 815.1,1010.0 815.5,1010.3 816.0,1009.8 816.4,1010.3 816.9,1009.5 817.3,1010.3 817.8,1010.3 818.2,1010.3 818.7,1010.3 819.1,1010.3 819.6,1010.3 820.0,1010.3 820.5,1008.6 820.9,1009.8 821.4,1010.3 821.8,1009.9 822.3,1010.3 822.7,1010.3 823.2,1010.3 823.6,1009.2 824.1,1010.3 824.5,1010.3 825.0,1010.3 825.4,1010.3 825.9,1009.3 826.3,1010.3 826.8,1009.2 827.2,1010.3 827.7,1009.2 828.1,1010.3 828.6,1009.4 829.0,1010.3 829.5,1009.0 829.9,1008.5 830.4,1010.3 830.8,1010.3 831.3,1009.5 831.7,1009.8 832.2,1010.3 832.6,1010.3 833.1,1009.5 833.5,1008.4 834.0,1010.3 834.4,1010.3 834.9,1009.7 835.3,1010.2 835.8,1010.3 836.2,1010.3 836.7,1010.3 837.1,1009.5 837.6,1010.3 838.0,1010.2 838.5,1009.6 838.9,1009.8 839.4,1010.3 839.8,1010.3 840.3,1010.3 840.7,1008.5 841.2,1008.6 841.6,1009.7 842.1,1010.2 842.5,1009.2 843.0,1009.2 843.4,1010.3 843.9,1008.4 844.3,1009.7 844.8,1010.3 845.2,1008.8 845.7,1010.3 846.1,1009.3 846.6,1008.3 847.0,1008.1 847.5,1008.9 847.9,1009.8 848.4,1008.1 848.8,1008.0 849.3,1007.2 849.7,1009.8 850.2,1008.6 850.6,1008.6 851.1,1009.1 851.5,1009.3 852.0,1009.0 852.4,1010.2 852.9,1009.5 853.3,1009.1 853.8,1010.3 854.2,1009.5 854.7,1010.1 855.1,1009.5 855.6,1008.5 856.0,1010.3 856.5,1010.3 856.9,1008.6 857.4,1009.9 857.8,1010.3 858.3,1009.4 858.7,1009.7 859.2,1010.3 859.6,1010.0 860.1,1009.6 860.5,1010.3 861.0,1009.9 861.4,1010.3 861.9,1009.8 862.3,1009.1 862.8,1010.2 863.2,1010.3 863.7,1009.3 864.1,1009.7 864.6,1008.3 865.0,1010.3 865.5,1010.3 865.9,1008.7 866.4,1010.1 866.8,1010.3 867.3,1010.0 867.7,1008.6 868.2,1010.3 868.6,1010.3 869.1,1010.3 869.5,1010.3 870.0,1009.4 870.4,1010.3 870.9,1010.1 871.3,1010.3 871.8,1010.3 872.2,1009.3 872.7,1010.0 873.1,1009.0 873.6,1010.3 874.0,1010.3 874.5,1009.8 874.9,1009.0 875.4,1010.1 875.8,1010.3 876.3,1010.3 876.7,1009.1 877.2,1009.0 877.6,1010.3 878.1,1010.3 878.5,1010.3 879.0,1010.3 879.4,1010.2 879.9,1007.0 880.3,1010.2 880.8,1008.7 881.2,1010.0 881.7,1010.3 882.1,1009.5 882.6,1008.8 883.0,1010.3 883.5,1009.8 883.9,1009.2 884.4,1010.3 884.8,1010.0 885.3,1010.1 885.7,1009.7 886.2,1008.3 886.6,1010.3 887.1,1010.3 887.5,1009.5 888.0,1009.9 888.4,1010.1 888.9,1010.3 889.3,1010.0 889.8,1010.1 890.2,1010.3 890.7,1010.3 891.1,1010.3 891.6,1010.3 892.0,1009.0 892.5,1009.7 892.9,1009.5 893.4,1009.9 893.8,1009.6 894.3,1010.3 894.7,1008.8 895.2,1009.6 895.6,1009.1 896.1,1010.1 896.5,1009.7 897.0,1009.5 897.4,1010.1 897.9,1010.3 898.3,1009.9 898.8,1008.8 899.2,1009.5 899.7,1010.3 900.1,1009.7 900.6,1009.2 901.0,1009.7 901.5,1010.3 901.9,1010.3 902.4,1009.1 902.8,1009.8 903.3,1007.4 903.7,1009.5 904.2,1009.4 904.6,1010.3 905.1,1009.5 905.5,1008.5 906.0,1009.9 906.4,1010.3 906.9,1010.3 907.3,1010.1 907.8,1010.3 908.2,1009.6 908.7,1009.3 909.1,1010.3 909.6,1010.3 910.0,1010.3 910.5,1010.3 910.9,1010.3 911.4,1010.3 911.8,1010.3 912.3,1009.6 912.7,1009.6 913.2,1010.3 913.6,1009.6 914.1,1010.3 914.5,1010.2 915.0,1010.1 915.4,1010.1 915.9,1010.3 916.3,1010.2 916.8,1009.4 917.2,1010.3 917.7,1010.3 918.1,1010.3 918.6,1010.3 919.0,1010.3 919.5,1009.8 919.9,1009.3 920.4,1009.4 920.8,1009.8 921.3,1010.0 921.7,1010.3 922.2,1010.3 922.6,1009.4 923.1,1010.3 923.5,1010.3 924.0,1009.0 924.4,1010.3 924.9,1010.0 925.3,1009.2 925.8,1010.3 926.2,1010.3 926.7,1010.3 927.1,1009.9 927.6,1010.3 928.0,1009.0 928.5,1009.0 928.9,1010.3 929.4,1009.7 929.8,1010.1 930.3,1009.8 930.7,1010.3 931.2,1010.3 931.6,1010.3 932.1,1009.3 932.5,1010.1 933.0,1009.8 933.4,1009.7 933.9,1009.9 934.3,1010.3 934.8,1010.3 935.2,1010.1 935.7,1009.6 936.1,1009.9 936.6,1010.3 937.0,1009.0 937.5,1010.3 937.9,1009.4 938.4,1009.0 938.8,1009.4 939.3,1009.3 939.7,1009.8 940.2,1010.3 940.6,1010.3 941.1,1009.8 941.5,1009.7 942.0,1010.3 942.4,1008.2 942.9,1009.5 943.3,1009.6 943.8,1009.7 944.2,1010.0 944.7,1009.3 945.1,1009.6 945.6,1010.3 946.0,1010.1 946.5,1009.5 946.9,1010.3 947.4,1008.8 947.8,1009.4 948.3,1009.5 948.7,1009.5 949.2,1009.1 949.6,1010.3 950.1,1010.3 950.5,1010.3 951.0,1010.3 951.4,1010.3 951.9,1010.3 952.3,1010.3 952.8,1009.7 953.2,1009.2 953.7,1010.2 954.1,1010.3 954.6,1010.3 955.0,1008.9 955.5,1010.3 955.9,1009.0 956.4,1009.6 956.8,1009.0 957.3,1009.6 957.7,1010.0 958.2,1010.2 958.6,1010.3 959.1,1010.3 959.5,1009.9 960.0,1010.3 960.4,1009.3 960.9,1010.1 961.3,1009.6 961.8,1009.4 962.2,1010.3 962.7,1009.5 963.1,1010.1 963.6,1009.0 964.0,1010.1 964.5,1010.1 964.9,1010.3 965.4,1010.3 965.8,1010.0 966.3,1010.0 966.7,1010.3 967.2,1008.7 967.6,1010.2 968.1,1010.0 968.5,1008.3 969.0,1010.3 969.4,1010.3 969.9,1007.3 970.3,1009.1 970.8,1008.2 971.2,1010.3 971.7,1009.6 972.1,1008.8 972.6,1010.3 973.0,1010.3 973.5,1010.3 973.9,1009.2 974.4,1010.3 974.8,1010.3 975.3,1010.3 975.7,1010.3 976.2,1009.0 976.6,1010.3 977.1,1009.5 977.5,1009.4 978.0,1010.1 978.4,1010.3 978.9,1010.3 979.3,1008.7 979.8,1009.0 980.2,1009.4 980.7,1009.6 981.1,1010.3 981.6,1010.3 982.0,1010.3 982.5,1009.9 982.9,1009.5 983.4,1010.3 983.8,1010.3 984.3,1010.3 984.7,1009.3 985.2,1010.2 985.6,1010.3 986.1,1010.3 986.5,1009.7 987.0,1010.3 987.4,1010.3 987.9,1010.3 988.3,1010.3 988.8,1009.0 989.2,1010.3 989.7,1010.3 990.1,1010.3 990.6,1009.6 991.0,1010.3 991.5,1009.8 991.9,1010.3 992.4,1009.6 992.8,1009.7 993.3,1010.3 993.7,1010.3 994.2,1009.8 994.6,1009.1 995.1,1009.6 995.5,1010.3 996.0,1009.4 996.4,1010.2 996.9,1010.3 997.3,1008.6 997.8,1009.3 998.2,1009.6 998.7,1010.3 999.1,1010.3 999.6,1010.3 1000.0,1009.3 1000.5,1009.9 1000.9,1009.6 1001.4,1009.4 1001.8,1010.3 1002.3,1010.3 1002.7,1010.3 1003.2,1009.7 1003.6,1009.8 1004.1,1010.1 1004.5,1009.1 1005.0,1010.3 1005.4,1008.5 1005.9,1010.3 1006.3,1010.3 1006.8,1010.3 1007.2,1010.0 1007.7,1008.5 1008.1,1009.0 1008.6,1009.4 1009.0,1008.4 1009.5,1009.5 1009.9,1010.0 1010.4,1010.3 1010.8,1010.3 1011.3,1009.3 1011.7,1010.3 1012.2,1010.3 1012.6,1010.3 1013.1,1010.3 1013.5,1009.4 1014.0,1010.3 1014.4,1010.3 1014.9,1009.5 1015.3,1010.3 1015.8,1010.3 1016.2,1009.3 1016.7,1010.1 1017.1,1010.3 1017.6,1009.0 1018.0,1010.3 1018.5,1009.5 1018.9,1010.0 1019.4,1009.4 1019.8,1009.0 1020.3,1009.2 1020.7,1010.3 1021.2,1009.7 1021.6,1010.3 1022.1,1008.4 1022.5,1009.7 1023.0,1008.8 1023.4,1010.3 1023.9,1009.3 1024.3,1009.9 1024.8,1009.5 1025.2,1010.3 1025.7,1010.3 1026.1,1010.3 1026.6,1010.0 1027.0,1010.2 1027.5,1009.3 1027.9,1009.4 1028.4,1008.4 1028.8,1010.3 1029.3,1010.3 1029.7,1009.2 1030.2,1010.1 1030.6,1010.3 1031.1,1010.0 1031.5,1009.7 1032.0,1010.3 1032.4,1009.1 1032.9,1010.3 1033.3,1009.1 1033.8,1009.4 1034.2,1010.3 1034.7,1010.3 1035.1,1010.2 1035.6,1010.3 1036.0,1010.3 1036.5,1010.3 1036.9,1009.4 1037.4,1010.3 1037.8,1010.3 1038.3,1010.3 1038.7,1010.3 1039.2,1009.7 1039.6,1009.0 1040.1,1010.3 1040.5,1009.1 1041.0,1010.2 1041.4,1009.6 1041.9,1009.2 1042.3,1010.2 1042.8,1010.1 1043.2,1008.8 1043.7,1009.0 1044.1,1009.3 1044.6,1009.0 1045.0,1010.0 1045.5,1010.3 1045.9,1009.8 1046.4,1009.8 1046.8,1008.3 1047.3,1010.3 1047.7,1010.3 1048.2,1010.0 1048.6,1009.7 1049.1,1010.3 1049.5,1008.2 1050.0,1009.3 1050.4,1010.3 1050.9,1009.9 1051.3,1010.1 1051.8,1008.9 1052.2,1009.7 1052.7,1007.7 1053.1,1009.4 1053.6,1010.3 1054.0,1009.3 1054.5,1009.1 1054.9,1008.1 1055.4,1009.4 1055.8,1010.3 1056.3,1010.3 1056.7,1007.9 1057.2,1010.0 1057.6,1010.2 1058.1,1009.3 1058.5,1008.9 1059.0,1008.5 1059.4,1008.2 1059.9,1009.1 1060.3,1010.3 1060.8,1008.6 1061.2,1010.3 1061.7,1009.0 1062.1,1008.0 1062.6,1008.3 1063.0,1010.3 1063.5,1008.9 1063.9,1009.6 1064.4,1010.3 1064.8,1009.6 1065.3,1009.6 1065.7,1010.3 1066.2,1009.8 1066.6,1008.2 1067.1,1008.7 1067.5,1008.4 1068.0,1010.2 1068.4,1008.1 1068.9,1006.7 1069.3,1008.4 1069.8,1009.3 1070.2,1009.6 1070.7,1008.8 1071.1,1010.0 1071.6,1008.3 1072.0,1009.1 1072.5,1008.7 1072.9,1009.1 1073.4,1009.1 1073.8,1009.9 1074.3,1008.6 1074.7,1010.3 1075.2,1009.1 1075.6,1009.0 1076.1,1007.5 1076.5,1007.5 1077.0,1008.8 1077.4,1007.7 1077.9,1009.1 1078.3,1009.2 1078.8,1008.8 1079.2,1007.9 1079.7,1008.4 1080.1,1009.8 1080.6,1007.3 1081.0,1007.7 1081.5,1007.4 1081.9,1007.4 1082.4,1008.1 1082.8,1006.7 1083.3,1007.1 1083.7,1006.8 1084.2,1007.0 1084.6,1005.2 1085.1,1006.1 1085.5,1004.7 1086.0,1005.0 1086.4,1006.7 1086.9,1004.6 1087.3,1003.9 1087.8,1004.5 1088.2,1004.9 1088.7,1002.3 1089.1,1002.6 1089.6,1002.8 1090.0,1000.2 1090.5,999.4 1090.9,996.9 1091.4,997.7 1091.8,995.8 1092.3,994.4 1092.7,991.3 1093.2,989.6 1093.6,986.9 1094.1,982.2 1094.5,976.6 1095.0,967.0 1095.4,955.5 1095.9,937.2 1096.3,911.5 1096.8,874.7 1097.2,855.9 1097.7,876.0 1098.1,908.5 1098.6,937.5 1099.0,954.4 1099.5,965.3 1099.9,975.6 1100.4,981.2 1100.8,982.7 1101.3,987.6 1101.7,988.1 1102.2,992.2 1102.6,993.4 1103.1,992.3 1103.5,993.9 1104.0,996.0 1104.4,996.9 1104.9,999.7 1105.3,999.9 1105.8,1002.4 1106.2,999.7 1106.7,1001.9 1107.1,1004.4 1107.6,1003.9 1108.0,1002.2 1108.5,1003.7 1108.9,1004.0 1109.4,1004.8 1109.8,1006.1 1110.3,1007.4 1110.7,1005.6 1111.2,1006.1 1111.6,1005.7 1112.1,1006.7 1112.5,1007.2 1113.0,1007.9 1113.4,1007.9 1113.9,1007.0 1114.3,1005.5 1114.8,1008.2 1115.2,1007.0 1115.7,1006.6 1116.1,1008.6 1116.6,1007.6 1117.0,1007.8 1117.5,1007.8 1117.9,1007.6 1118.4,1008.1 1118.8,1008.1 1119.3,1010.2 1119.7,1008.1 1120.2,1007.3 1120.6,1007.8 1121.1,1007.0 1121.5,1006.5 1122.0,1007.8 1122.4,1010.0 1122.9,1007.5 1123.3,1007.6 1123.8,1009.2 1124.2,1009.6 1124.7,1009.0 1125.1,1007.7 1125.6,1008.9 1126.0,1008.3 1126.5,1009.5 1126.9,1010.1 1127.4,1009.7 1127.8,1009.2 1128.3,1010.0 1128.7,1010.1 1129.2,1010.0 1129.6,1008.7 1130.1,1007.1 1130.5,1008.1 1131.0,1009.0 1131.4,1010.3 1131.9,1008.4 1132.3,1009.9 1132.8,1010.3 1133.2,1010.3 1133.7,1009.6 1134.1,1010.3 1134.6,1010.0 1135.0,1008.4 1135.5,1008.5 1135.9,1009.9 1136.4,1010.3 1136.8,1010.3 1137.3,1008.5 1137.7,1008.9 1138.2,1008.2 1138.6,1010.3 1139.1,1009.0 1139.5,1008.1 1140.0,1009.2 1140.4,1009.8 1140.9,1009.7 1141.3,1010.3 1141.8,1010.3 1142.2,1008.5 1142.7,1010.3 1143.1,1009.4 1143.6,1010.3 1144.0,1010.3 1144.5,1008.8 1144.9,1010.3 1145.4,1010.3 1145.8,1009.4 1146.3,1008.8 1146.7,1008.8 1147.2,1009.5 1147.6,1008.8 1148.1,1010.3 1148.5,1009.4 1149.0,1009.9 1149.4,1010.3 1149.9,1009.7 1150.3,1009.7 1150.8,1010.3 1151.2,1010.3 1151.7,1010.3 1152.1,1010.1 1152.6,1010.3 1153.0,1009.9 1153.5,1009.6 1153.9,1009.1 1154.4,1009.5 1154.8,1008.9 1155.3,1010.3 1155.7,1008.9 1156.2,1010.1 1156.6,1010.3 1157.1,1009.5 1157.5,1010.0 1158.0,1010.1 1158.4,1008.3 1158.9,1008.1 1159.3,1008.4 1159.8,1009.0 1160.2,1010.0 1160.7,1009.8 1161.1,1010.3 1161.6,1010.2 1162.0,1010.3 1162.5,1008.4 1162.9,1010.3 1163.4,1010.1 1163.8,1010.3 1164.3,1007.9 1164.7,1010.3 1165.2,1010.0 1165.6,1010.3 1166.1,1010.1 1166.5,1010.3 1167.0,1009.6 1167.4,1010.3 1167.9,1008.6 1168.3,1009.5 1168.8,1009.1 1169.2,1009.4 1169.7,1009.3 1170.1,1009.6 1170.6,1010.3 1171.0,1009.7 1171.5,1010.3 1171.9,1009.2 1172.4,1010.2 1172.8,1010.3 1173.3,1010.3 1173.7,1010.3 1174.2,1009.0 1174.6,1010.3 1175.1,1009.8 1175.5,1009.5 1176.0,1009.3 1176.4,1009.1 1176.9,1010.3 1177.3,1010.3 1177.8,1009.7 1178.2,1009.4 1178.7,1010.3 1179.1,1009.4 1179.6,1009.1 1180.0,1009.5 1180.5,1010.2 1180.9,1009.2 1181.4,1009.5 1181.8,1010.3 1182.3,1008.5 1182.7,1010.1 1183.2,1008.2 1183.6,1010.3 1184.1,1010.3 1184.5,1010.3 1185.0,1009.3 1185.4,1009.9 1185.9,1009.8 1186.3,1010.3 1186.8,1010.3 1187.2,1010.3 1187.7,1010.3 1188.1,1010.3 1188.6,1009.5 1189.0,1009.6 1189.5,1010.3 1189.9,1010.0 1190.4,1009.9 1190.8,1010.3 1191.3,1008.9 1191.7,1009.4 1192.2,1010.3 1192.6,1008.7 1193.1,1010.3 1193.5,1009.2 1194.0,1009.4 1194.4,1010.3 1194.9,1009.4 1195.3,1008.9 1195.8,1010.3 1196.2,1010.2 1196.7,1010.3 1197.1,1010.3 1197.6,1009.9 1198.0,1010.3 1198.5,1010.1 1198.9,1010.2 1199.4,1010.3 1199.8,1009.9 1200.3,1010.3 1200.7,1010.3 1201.2,1009.4 1201.6,1010.3 1202.1,1010.3 1202.5,1010.1 1203.0,1009.9 1203.4,1009.8 1203.9,1010.3 1204.3,1010.2 1204.8,1010.0 1205.2,1010.3 1205.7,1008.3 1206.1,1010.1 1206.6,1008.5 1207.0,1010.0 1207.5,1010.3 1207.9,1010.3 1208.4,1009.5 1208.8,1010.3 1209.3,1010.3 1209.7,1010.2 1210.2,1010.0 1210.6,1009.9 1211.1,1008.4 1211.5,1010.0 1212.0,1010.3 1212.4,1010.0 1212.9,1010.3 1213.3,1009.9 1213.8,1009.7 1214.2,1010.0 1214.7,1009.5 1215.1,1009.9 1215.6,1010.0 1216.0,1008.9 1216.5,1010.3 1216.9,1010.3 1217.4,1009.7 1217.8,1009.7 1218.3,1008.5 1218.7,1008.2 1219.2,1009.2 1219.6,1010.3 1220.1,1009.3 1220.5,1010.3 1221.0,1010.1 1221.4,1010.3 1221.9,1010.3 1222.3,1010.3 1222.8,1009.4 1223.2,1009.5 1223.7,1010.3 1224.1,1010.2 1224.6,1010.1 1225.0,1009.6 1225.5,1010.0 1225.9,1009.7 1226.4,1010.3 1226.8,1009.1 1227.3,1009.5 1227.7,1010.3 1228.2,1010.3 1228.6,1009.9 1229.1,1009.6 1229.5,1010.3 1230.0,1010.3 1230.4,1009.7 1230.9,1010.3 1231.3,1010.1 1231.8,1010.3 1232.2,1010.0 1232.7,1010.3 1233.1,1010.3 1233.6,1009.2 1234.0,1010.0 1234.5,1010.3 1234.9,1007.7 1235.4,1010.3 1235.8,1010.3 1236.3,1010.3 1236.7,1010.3 1237.2,1010.1 1237.6,1010.3 1238.1,1010.2 1238.5,1008.8 1239.0,1010.3 1239.4,1009.2 1239.9,1008.9 1240.3,1010.0 1240.8,1009.9 1241.2,1009.4 1241.7,1010.3 1242.1,1010.1 1242.6,1008.9 1243.0,1010.3 1243.5,1010.2 1243.9,1010.2 1244.4,1008.5 1244.8,1009.4 1245.3,1010.1 1245.7,1009.4 1246.2,1010.3 1246.6,1009.9 1247.1,1010.3 1247.5,1010.3 1248.0,1010.3 1248.4,1009.6 1248.9,1008.4 1249.3,1009.0 1249.8,1010.3 1250.2,1010.3 1250.7,1008.8 1251.1,1010.1 1251.6,1010.3 1252.0,1010.3 1252.5,1009.2 1252.9,1008.6 1253.4,1010.2 1253.8,1010.3 1254.3,1010.2 1254.7,1010.2 1255.2,1010.3 1255.6,1010.3 1256.1,1010.3 1256.5,1010.3 1257.0,1009.6 1257.4,1010.3 1257.9,1009.8 1258.3,1009.2 1258.8,1010.3 1259.2,1010.3 1259.7,1010.3 1260.1,1009.6 1260.6,1009.9 1261.0,1010.3 1261.5,1008.6 1261.9,1010.3 1262.4,1010.2 1262.8,1009.3 1263.3,1008.7 1263.7,1010.3 1264.2,1008.2 1264.6,1009.2 1265.1,1010.3 1265.5,1010.3 1266.0,1008.5 1266.4,1010.3 1266.9,1010.3 1267.3,1010.0 1267.8,1010.3 1268.2,1009.3 1268.7,1010.3 1269.1,1010.3 1269.6,1010.3 1270.0,1010.3 1270.5,1009.7 1270.9,1010.3 1271.4,1009.6 1271.8,1010.3 1272.3,1009.5 1272.7,1010.3 1273.2,1010.3 1273.6,1009.2 1274.1,1010.1 1274.5,1010.3 1275.0,1009.8 1275.4,1010.3 1275.9,1010.3 1276.3,1010.3 1276.8,1010.3 1277.2,1010.3 1277.7,1008.8 1278.1,1009.9 1278.6,1010.3 1279.0,1009.2 1279.5,1010.3 1279.9,1010.3 1280.4,1009.4 1280.8,1009.8 1281.3,1010.0 1281.7,1009.5 1282.2,1009.5 1282.6,1010.3 1283.1,1010.3 1283.5,1010.3 1284.0,1010.1 1284.4,1009.3 1284.9,1009.4 1285.3,1010.3 1285.8,1010.2 1286.2,1008.9 1286.7,1010.3 1287.1,1010.0 1287.6,1009.4 1288.0,1009.5 1288.5,1010.3 1288.9,1009.6 1289.4,1009.9 1289.8,1010.3 1290.3,1009.5 1290.7,1009.5 1291.2,1010.3 1291.6,1010.3 1292.1,1010.1 1292.5,1008.5 1293.0,1010.0 1293.4,1010.3 1293.9,1009.9 1294.3,1010.3 1294.8,1009.6 1295.2,1008.6 1295.7,1009.6 1296.1,1009.9 1296.6,1009.6 1297.0,1010.3 1297.5,1010.3 1297.9,1010.3 1298.4,1009.6 1298.8,1009.9 1299.3,1009.9 1299.7,1007.9 1300.2,1009.3 1300.6,1008.7 1301.1,1009.7 1301.5,1010.3 1302.0,1009.2 1302.4,1010.3 1302.9,1009.9 1303.3,1010.3 1303.8,1010.3 1304.2,1009.8 1304.7,1007.3 1305.1,1010.1 1305.6,1008.9 1306.0,1010.0 1306.5,1009.4 1306.9,1010.3 1307.4,1009.5 1307.8,1010.3 1308.3,1010.3 1308.7,1009.9 1309.2,1009.6 1309.6,1008.5 1310.1,1008.3 1310.5,1010.3 1311.0,1010.3 1311.4,1009.3 1311.9,1009.0 1312.3,1009.8 1312.8,1009.2 1313.2,1009.1 1313.7,1010.3 1314.1,1010.3 1314.6,1008.3 1315.0,1008.4 1315.5,1010.3 1315.9,1009.4 1316.4,1009.9 1316.8,1009.6 1317.3,1010.2 1317.7,1010.3 1318.2,1010.3 1318.6,1008.4 1319.1,1009.4 1319.5,1010.3 1320.0,1007.9 1320.4,1010.1 1320.9,1009.2 1321.3,1010.3 1321.8,1009.1 1322.2,1008.6 1322.7,1010.0 1323.1,1009.3 1323.6,1010.3 1324.0,1008.7 1324.5,1008.2 1324.9,1008.7 1325.4,1008.9 1325.8,1008.1 1326.3,1008.4 1326.7,1007.6 1327.2,1008.0 1327.6,1007.3 1328.1,1009.7 1328.5,1008.4 1329.0,1009.9 1329.4,1008.5 1329.9,1007.6 1330.3,1007.4 1330.8,1008.3 1331.2,1007.5 1331.7,1008.0 1332.1,1007.4 1332.6,1005.9 1333.0,1006.1 1333.5,1006.4 1333.9,1005.6 1334.4,1005.8 1334.8,1007.1 1335.3,1005.5 1335.7,1004.7 1336.2,1005.1 1336.6,1003.8 1337.1,1004.0 1337.5,1001.7 1338.0,1002.6 1338.4,1000.1 1338.9,999.7 1339.3,999.6 1339.8,997.3 1340.2,995.3 1340.7,994.7 1341.1,990.9 1341.6,987.3 1342.0,984.2 1342.5,976.9 1342.9,968.3 1343.4,955.7 1343.8,934.0 1344.3,905.0 1344.7,887.9 1345.2,895.6 1345.6,923.7 1346.1,945.3 1346.5,962.7 1347.0,972.9 1347.4,980.8 1347.9,985.3 1348.3,990.1 1348.8,992.0 1349.2,994.4 1349.7,996.2 1350.1,999.3 1350.6,999.6 1351.0,1001.0 1351.5,1000.1 1351.9,1001.6 1352.4,1003.5 1352.8,1004.3 1353.3,1004.2 1353.7,1005.6 1354.2,1005.9 1354.6,1006.1 1355.1,1006.9 1355.5,1004.8 1356.0,1008.0 1356.4,1007.3 1356.9,1005.2 1357.3,1007.4 1357.8,1007.2 1358.2,1007.0 1358.7,1009.2 1359.1,1007.9 1359.6,1007.4 1360.0,1009.9 1360.5,1006.4 1360.9,1007.0 1361.4,1009.4 1361.8,1008.8 1362.3,1007.6 1362.7,1009.0 1363.2,1008.7 1363.6,1008.1 1364.1,1010.2 1364.5,1008.1 1365.0,1008.1 1365.4,1008.6 1365.9,1009.1 1366.3,1008.0 1366.8,1009.5 1367.2,1008.8 1367.7,1009.4 1368.1,1010.3 1368.6,1009.0 1369.0,1009.3 1369.5,1009.4 1369.9,1009.2 1370.4,1010.0 1370.8,1010.2 1371.3,1009.7 1371.7,1009.1 1372.2,1010.3 1372.6,1009.0 1373.1,1010.3 1373.5,1010.0 1374.0,1009.6 1374.4,1010.3 1374.9,1009.5 1375.3,1010.3 1375.8,1009.6 1376.2,1010.3 1376.7,1009.1 1377.1,1010.3 1377.6,1009.1 1378.0,1010.2 1378.5,1008.8 1378.9,1009.8 1379.4,1009.1 1379.8,1009.5 1380.3,1009.4 1380.7,1009.6 1381.2,1010.3 1381.6,1009.4 1382.1,1009.5 1382.5,1010.0 1383.0,1008.5 1383.4,1010.2 1383.9,1008.7 1384.3,1010.3 1384.8,1009.7 1385.2,1010.3 1385.7,1008.6 1386.1,1009.2 1386.6,1010.3 1387.0,1008.5 1387.5,1008.9 1387.9,1009.5 1388.4,1009.2 1388.8,1010.3 1389.3,1008.7 1389.7,1010.3 1390.2,1009.4 1390.6,1010.2 1391.1,1010.1 1391.5,1010.2 1392.0,1010.0 1392.4,1009.4 1392.9,1009.4 1393.3,1009.2 1393.8,1009.0 1394.2,1008.9 1394.7,1010.3 1395.1,1010.2 1395.6,1008.2 1396.0,1009.7 1396.5,1008.2 1396.9,1010.3 1397.4,1010.3 1397.8,1009.3 1398.3,1010.2 1398.7,1009.1 1399.2,1010.0 1399.6,1009.4 1400.1,1010.3 1400.5,1008.9 1401.0,1009.7 1401.4,1010.3 1401.9,1010.1 1402.3,1010.3 1402.8,1009.5 1403.2,1009.6 1403.7,1009.3 1404.1,1010.0 1404.6,1010.3 1405.0,1009.3 1405.5,1010.3 1405.9,1007.5 1406.4,1010.3 1406.8,1009.4 1407.3,1008.2 1407.7,1009.8 1408.2,1007.7 1408.6,1009.2 1409.1,1010.3 1409.5,1009.4 1410.0,1009.7 1410.4,1009.2 1410.9,1008.5 1411.3,1009.8 1411.8,1008.9 1412.2,1010.2 1412.7,1009.9 1413.1,1009.4 1413.6,1008.6 1414.0,1010.2 1414.5,1009.4 1414.9,1008.2 1415.4,1009.0 1415.8,1009.3 1416.3,1008.0 1416.7,1008.6 1417.2,1008.5 1417.6,1008.1 1418.1,1006.7 1418.5,1006.8 1419.0,1005.4 1419.4,1006.2 1419.9,1006.0 1420.3,1005.5 1420.8,1003.2 1421.2,1001.0 1421.7,999.1 1422.1,993.8 1422.6,993.4 1423.0,997.0 1423.5,998.4 1423.9,1001.7 1424.4,1003.4 1424.8,1004.1 1425.3,1006.7 1425.7,1006.6 1426.2,1005.4 1426.6,1006.4 1427.1,1006.6 1427.5,1008.3 1428.0,1008.6 1428.4,1009.5 1428.9,1008.2 1429.3,1006.7 1429.8,1009.2 1430.2,1008.0 1430.7,1009.0 1431.1,1008.7 1431.6,1007.3 1432.0,1008.9 1432.5,1008.1 1432.9,1009.8 1433.4,1010.1 1433.8,1008.9 1434.3,1008.7 1434.7,1007.7 1435.2,1008.0 1435.6,1009.7 1436.1,1006.4 1436.5,1008.0 1437.0,1007.4 1437.4,1006.9 1437.9,1007.7 1438.3,1007.3 1438.8,1007.6 1439.2,1007.4 1439.7,1008.9 1440.1,1010.2 1440.6,1008.7 1441.0,1008.5 1441.5,1008.1 1441.9,1007.1 1442.4,1008.7 1442.8,1007.8 1443.3,1010.3 1443.7,1010.0 1444.2,1009.5 1444.6,1009.8 1445.1,1009.5 1445.5,1010.3 1446.0,1009.0 1446.4,1010.2 1446.9,1009.3 1447.3,1009.1 1447.8,1010.3 1448.2,1009.9 1448.7,1010.0 1449.1,1010.3 1449.6,1010.3 1450.0,1010.3 1450.5,1009.4 1450.9,1010.0 1451.4,1009.5 1451.8,1009.3 1452.3,1010.3 1452.7,1010.3 1453.2,1009.1 1453.6,1009.7 1454.1,1010.3 1454.5,1010.3 1455.0,1010.2 1455.4,1010.3 1455.9,1010.3 1456.3,1010.3 1456.8,1009.6 1457.2,1009.4 1457.7,1010.3 1458.1,1008.5 1458.6,1010.3 1459.0,1010.3 1459.5,1010.3 1459.9,1009.8 1460.4,1010.1 1460.8,1009.5 1461.3,1009.6 1461.7,1009.6 1462.2,1009.0 1462.6,1010.1 1463.1,1010.3 1463.5,1010.2 1464.0,1010.3 1464.4,1010.3 1464.9,1009.8 1465.3,1010.3 1465.8,1009.9 1466.2,1009.8 1466.7,1010.3 1467.1,1010.3 1467.6,1010.3 1468.0,1009.5 1468.5,1010.3 1468.9,1009.9 1469.4,1010.3 1469.8,1010.3 1470.3,1007.9 1470.7,1010.3 1471.2,1010.3 1471.6,1010.3 1472.1,1010.3 1472.5,1010.3 1473.0,1010.3 1473.4,1009.4 1473.9,1009.5 1474.3,1010.2 1474.8,1008.7 1475.2,1010.1 1475.7,1010.3 1476.1,1010.1 1476.6,1009.9 1477.0,1009.5 1477.5,1010.3 1477.9,1010.3 1478.4,1009.9 1478.8,1009.5 1479.3,1009.7 1479.7,1008.9 1480.2,1010.3 1480.6,1009.3 1481.1,1010.3 1481.5,1009.4 1482.0,1010.3 1482.4,1009.4 1482.9,1009.9 1483.3,1010.3 1483.8,1009.4 1484.2,1010.3 1484.7,1010.3 1485.1,1010.3 1485.6,1010.1 1486.0,1008.6 1486.5,1010.0 1486.9,1009.2 1487.4,1008.7 1487.8,1010.3 1488.3,1009.5 1488.7,1009.7 1489.2,1010.3 1489.6,1010.3 1490.1,1010.3 1490.5,1009.8 1491.0,1010.3 1491.4,1010.3 1491.9,1009.6 1492.3,1010.1 1492.8,1008.5 1493.2,1009.6 1493.7,1009.7 1494.1,1010.3 1494.6,1010.3 1495.0,1010.2 1495.5,1010.3 1495.9,1009.4 1496.4,1009.7 1496.8,1010.3 1497.3,1010.3 1497.7,1009.9 1498.2,1010.3 1498.6,1010.3 1499.1,1010.3 1499.5,1009.5 1500.0,1009.4 1500.4,1009.4 1500.9,1010.1 1501.3,1010.3 1501.8,1009.8 1502.2,1009.1 1502.7,1008.7 1503.1,1010.3 1503.6,1010.3 1504.0,1010.3 1504.5,1009.8 1504.9,1010.3 1505.4,1009.3 1505.8,1009.2 1506.3,1009.9 1506.7,1010.3 1507.2,1009.2 1507.6,1009.7 1508.1,1010.3 1508.5,1008.6 1509.0,1010.1 1509.4,1010.2 1509.9,1009.7 1510.3,1010.3 1510.8,1009.9 1511.2,1010.0 1511.7,1010.0 1512.1,1010.3 1512.6,1009.5 1513.0,1009.3 1513.5,1010.3 1513.9,1010.0 1514.4,1009.9 1514.8,1010.0 1515.3,1010.3 1515.7,1010.3 1516.2,1009.9 1516.6,1010.3 1517.1,1009.3 1517.5,1010.1 1518.0,1009.4 1518.4,1010.2 1518.9,1009.4"/>
<polyline stroke="#515151" points="46.0,1148.2 46.5,1149.1 46.9,1149.1 47.4,1148.7 47.8,1148.1 48.3,1147.2 48.7,1147.9 49.2,1143.8 49.6,1147.8 50.1,1146.8 50.5,1148.1 51.0,1148.9 51.4,1147.7 51.9,1145.7 52.3,1149.1 52.8,1149.1 53.2,1149.1 53.7,1146.1 54.1,1149.1 54.6,1147.0 55.0,1144.7 55.5,1146.3 55.9,1149.1 56.4,1147.0 56.8,1148.9 57.3,1148.1 57.7,1149.1 58.2,1147.3 58.6,1146.1 59.1,1148.6 59.5,1149.1 60.0,1149.1 60.4,1144.3 60.9,1148.0 61.3,1149.0 61.8,1146.2 62.2,1149.1 62.7,1148.4 63.1,1149.1 63.6,1147.0 64.0,1147.6 64.5,1144.9 64.9,1147.9 65.4,1148.8 65.8,1149.1 66.3,1146.8 66.7,1149.1 67.2,1147.9 67.6,1148.9 68.1,1144.8 68.5,1149.1 69.0,1149.1 69.4,1147.7 69.9,1148.3 70.3,1148.6 70.8,1146.2 71.2,1146.5 71.7,1146.7 72.1,1144.2 72.6,1148.9 73.0,1145.6 73.5,1148.8 73.9,1146.8 74.4,1149.1 74.8,1148.9 75.3,1146.6 75.7,1145.9 76.2,1147.9 76.6,1149.1 77.1,1145.8 77.5,1144.5 78.0,1149.1 78.4,1147.5 78.9,1146.7 79.3,1146.9 79.8,1149.1 80.2,1147.1 80.7,1147.5 81.1,1148.2 81.6,1146.0 82.0,1145.9 82.5,1148.4 82.9,1144.6 83.4,1149.1 83.8,1143.6 84.3,1149.1 84.7,1144.8 85.2,1149.1 85.6,1146.5 86.1,1145.9 86.5,1148.8 87.0,1146.1 87.4,1149.1 87.9,1148.6 88.3,1147.2 88.8,1147.3 89.2,1146.6 89.7,1146.3 90.1,1142.3 90.6,1145.9 91.0,1147.4 91.5,1147.6 91.9,1147.6 92.4,1147.0 92.8,1148.8 93.3,1144.3 93.7,1147.1 94.2,1149.1 94.6,1149.1 95.1,1146.0 95.5,1146.9 96.0,1148.8 96.4,1149.1 96.9,1149.1 97.3,1146.9 97.8,1148.3 98.2,1149.1 98.7,1146.8 99.1,1149.1 99.6,1149.1 100.0,1144.8 100.5,1146.2 100.9,1149.1 101.4,1149.1 101.8,1149.1 102.3,1145.9 102.7,1147.0 103.2,1145.1 103.6,1146.4 104.1,1146.5 104.5,1149.1 105.0,1148.7 105.4,1148.7 105.9,1149.1 106.3,1145.1 106.8,1147.0 107.2,1149.1 107.7,1145.9 108.1,1149.1 108.6,1146.3 109.0,1148.9 109.5,1149.1 109.9,1149.1 110.4,1149.1 110.8,1149.1 111.3,1149.1 111.7,1146.9 112.2,1149.1 112.6,1148.3 113.1,1147.1 113.5,1149.1 114.0,1149.1 114.4,1144.4 114.9,1149.1 115.3,1149.1 115.8,1146.9 116.2,1147.0 116.7,1148.5 117.1,1149.1 117.6,1145.4 118.0,1146.5 118.5,1147.8 118.9,1147.9 119.4,1145.9 119.8,1145.2 120.3,1147.4 120.7,1147.5 121.2,1146.3 121.6,1149.1 122.1,1144.4 122.5,1149.1 123.0,1148.0 123.4,1146.5 123.9,1148.0 124.3,1145.2 124.8,1143.7 125.2,1147.5 125.7,1146.2 126.1,1146.5 126.6,1145.3 127.0,1147.6 127.5,1147.9 127.9,1148.1 128.4,1147.4 128.8,1145.7 129.3,1149.1 129.7,1146.1 130.2,1148.0 130.6,1148.3 131.1,1149.1 131.5,1149.1 132.0,1145.7 132.4,1148.8 132.9,1144.8 133.3,1149.1 133.8,1149.1 134.2,1147.2 134.7,1149.1 135.1,1146.8 135.6,1145.7 136.0,1146.8 136.5,1147.7 136.9,1149.1 137.4,1146.7 137.8,1146.7 138.3,1148.2 138.7,1148.0 139.2,1148.8 139.6,1147.3 140.1,1147.5 140.5,1148.1 141.0,1146.8 141.4,1146.5 141.9,1146.9 142.3,1147.5 142.8,1148.1 143.2,1146.0 143.7,1147.5 144.1,1145.5 144.6,1146.5 145.0,1144.3 145.5,1147.6 145.9,1147.7 146.4,1146.7 146.8,1146.8 147.3,1147.5 147.7,1147.3 148.2,1146.2 148.6,1147.4 149.1,1149.1 149.5,1149.1 150.0,1144.6 150.4,1148.8 150.9,1147.8 151.3,1148.1 151.8,1148.1 152.2,1147.6 152.7,1145.5 153.1,1147.4 153.6,1148.3 154.0,1147.4 154.5,1146.4 154.9,1149.1 155.4,1144.4 155.8,1149.1 156.3,1147.0 156.7,1144.8 157.2,1145.8 157.6,1145.2 158.1,1146.2 158.5,1148.1 159.0,1143.4 159.4,1140.5 159.9,1146.0 160.3,1146.6 160.8,1146.8 161.2,1146.9 161.7,1147.2 162.1,1145.0 162.6,1148.3 163.0,1144.2 163.5,1148.7 163.9,1149.1 164.4,1148.1 164.8,1147.1 165.3,1148.0 165.7,1146.9 166.2,1148.2 166.6,1148.6 167.1,1148.0 167.5,1149.1 168.0,1148.8 168.4,1148.2 168.9,1149.1 169.3,1144.4 169.8,1149.1 170.2,1148.0 170.7,1146.7 171.1,1147.3 171.6,1145.3 172.0,1146.9 172.5,1148.3 172.9,1146.8 173.4,1145.6 173.8,1144.5 174.3,1147.6 174.7,1145.8 175.2,1147.1 175.6,1149.1 176.1,1149.1 176.5,1148.9 177.0,1149.1 177.4,1149.1 177.9,1147.2 178.3,1146.1 178.8,1146.5 179.2,1149.1 179.7,1149.1 180.1,1149.1 180.6,1148.0 181.0,1148.2 181.5,1147.8 181.9,1148.3 182.4,1145.1 182.8,1147.2 183.3,1147.4 183.7,1147.2 184.2,1144.0 184.6,1147.5 185.1,1145.7 185.5,1148.6 186.0,1145.0 186.4,1146.7 186.9,1149.1 187.3,1144.7 187.8,1149.1 188.2,1148.9 188.7,1145.7 189.1,1145.4 189.6,1146.6 190.0,1146.8 190.5,1147.2 190.9,1146.8 191.4,1147.6 191.8,1148.2 192.3,1144.3 192.7,1147.0 193.2,1144.0 193.6,1143.5 194.1,1145.0 194.5,1145.6 195.0,1148.6 195.4,1148.1 195.9,1148.2 196.3,1147.9 196.8,1145.4 197.2,1149.1 197.7,1145.4 198.1,1144.5 198.6,1145.6 199.0,1144.7 199.5,1149.1 199.9,1146.5 200.4,1145.8 200.8,1146.2 201.3,1146.1 201.7,1146.7 202.2,1147.0 202.6,1146.7 203.1,1144.6 203.5,1148.5 204.0,1147.2 204.4,1144.9 204.9,1146.9 205.3,1146.6 205.8,1148.6 206.2,1148.1 206.7,1146.0 207.1,1149.1 207.6,1148.4 208.0,1146.0 208.5,1146.1 208.9,1146.0 209.4,1145.4 209.8,1149.1 210.3,1149.1 210.7,1147.1 211.2,1149.0 211.6,1149.1 212.1,1146.9 212.5,1145.7 213.0,1145.4 213.4,1146.4 213.9,1147.3 214.3,1143.3 214.8,1147.1 215.2,1147.3 215.7,1147.2 216.1,1146.6 216.6,1146.7 217.0,1145.7 217.5,1147.6 217.9,1145.4 218.4,1144.6 218.8,1144.9 219.3,1146.0 219.7,1146.6 220.2,1142.7 220.6,1145.7 221.1,1142.8 221.5,1142.0 222.0,1149.1 222.4,1143.8 222.9,1145.3 223.3,1147.4 223.8,1144.3 224.2,1144.3 224.7,1144.9 225.1,1144.0 225.6,1145.7 226.0,1145.5 226.5,1142.3 226.9,1144.7 227.4,1147.3 227.8,1149.1 228.3,1146.8 228.7,1148.3 229.2,1147.3 229.6,1144.7 230.1,1146.4 230.5,1146.6 231.0,1146.1 231.4,1142.0 231.9,1142.5 232.3,1145.1 232.8,1146.3 233.2,1144.7 233.7,1147.8 234.1,1148.1 234.6,1145.8 235.0,1146.8 235.5,1146.4 235.9,1145.6 236.4,1145.6 236.8,1144.5 237.3,1147.3 237.7,1145.5 238.2,1145.1 238.6,1144.0 239.1,1145.5 239.5,1147.6 240.0,1149.1 240.4,1146.4 240.9,1148.7 241.3,1146.2 241.8,1145.8 242.2,1147.7 242.7,1145.3 243.1,1144.8 243.6,1147.8 244.0,1146.3 244.5,1146.6 244.9,1149.1 245.4,1147.4 245.8,1145.2 246.3,1145.8 246.7,1144.4 247.2,1147.9 247.6,1146.5 248.1,1147.4 248.5,1146.6 249.0,1146.7 249.4,1145.3 249.9,1144.8 250.3,1144.8 250.8,1146.5 251.2,1144.8 251.7,1146.8 252.1,1145.3 252.6,1142.9 253.0,1142.6 253.5,1144.6 253.9,1147.5 254.4,1144.5 254.8,1141.8 255.3,1143.6 255.7,1144.2 256.2,1144.8 256.6,1145.5 257.1,1147.4 257.5,1145.8 258.0,1146.9 258.4,1144.1 258.9,1143.5 259.3,1145.6 259.8,1146.6 260.2,1146.7 260.7,1145.4 261.1,1143.8 261.6,1144.8 262.0,1149.1 262.5,1146.1 262.9,1141.6 263.4,1144.9 263.8,1144.8 264.3,1144.6 264.7,1146.7 265.2,1148.9 265.6,1143.6 266.1,1149.1 266.5,1144.3 267.0,1145.5 267.4,1145.3 267.9,1148.1 268.3,1144.9 268.8,1147.3 269.2,1147.4 269.7,1147.0 270.1,1145.8 270.6,1146.6 271.0,1145.3 271.5,1143.2 271.9,1144.3 272.4,1146.6 272.8,1143.4 273.3,1146.2 273.7,1146.6 274.2,1142.3 274.6,1144.9 275.1,1147.1 275.5,1143.5 276.0,1144.4 276.4,1143.6 276.9,1144.1 277.3,1147.5 277.8,1146.0 278.2,1142.7 278.7,1146.5 279.1,1146.1 279.6,1146.4 280.0,1146.7 280.5,1144.4 280.9,1144.8 281.4,1145.1 281.8,1145.3 282.3,1146.5 282.7,1144.0 283.2,1142.9 283.6,1143.9 284.1,1146.8 284.5,1144.5 285.0,1145.0 285.4,1145.9 285.9,1147.6 286.3,1146.3 286.8,1145.2 287.2,1146.2 287.7,1147.0 288.1,1145.7 288.6,1146.0 289.0,1147.1 289.5,1144.4 289.9,1144.2 290.4,1144.7 290.8,1147.9 291.3,1143.1 291.7,1143.6 292.2,1148.2 292.6,1145.9 293.1,1143.3 293.5,1143.5 294.0,1149.1 294.4,1146.7 294.9,1147.1 295.3,1146.4 295.8,1145.5 296.2,1143.2 296.7,1145.1 297.1,1145.1 297.6,1147.3 298.0,1144.3 298.5,1145.2 298.9,1146.1 299.4,1144.8 299.8,1146.4 300.3,1148.4 300.7,1147.9 301.2,1143.3 301.6,1145.3 302.1,1145.4 302.5,1141.0 303.0,1147.4 303.4,1146.4 303.9,1146.8 304.3,1147.7 304.8,1145.5 305.2,1146.3 305.7,1145.3 306.1,1149.1 306.6,1145.0 307.0,1144.7 307.5,1144.2 307.9,1146.7 308.4,1145.6 308.8,1147.8 309.3,1149.1 309.7,1142.7 310.2,1145.8 310.6,1146.1 311.1,1144.7 311.5,1148.6 312.0,1147.8 312.4,1143.4 312.9,1145.4 313.3,1142.6 313.8,1145.8 314.2,1143.2 314.7,1146.4 315.1,1146.0 315.6,1147.0 316.0,1145.5 316.5,1146.7 316.9,1148.4 317.4,1148.1 317.8,1145.4 318.3,1148.4 318.7,1147.2 319.2,1148.5 319.6,1146.1 320.1,1147.3 320.5,1144.5 321.0,1146.5 321.4,1145.5 321.9,1148.6 322.3,1145.8 322.8,1149.1 323.2,1145.4 323.7,1146.9 324.1,1145.4 324.6,1149.1 325.0,1147.3 325.5,1149.1 325.9,1147.7 326.4,1148.1 326.8,1148.9 327.3,1149.1 327.7,1146.3 328.2,1146.1 328.6,1147.6 329.1,1145.9 329.5,1147.2 330.0,1147.7 330.4,1148.1 330.9,1145.6 331.3,1148.4 331.8,1147.1 332.2,1147.6 332.7,1148.7 333.1,1146.9 333.6,1149.1 334.0,1147.2 334.5,1149.1 334.9,1149.1 335.4,1148.6 335.8,1147.6 336.3,1146.5 336.7,1148.9 337.2,1147.8 337.6,1148.7 338.1,1147.6 338.5,1146.4 339.0,1145.3 339.4,1146.8 339.9,1146.9 340.3,1149.1 340.8,1147.6 341.2,1148.9 341.7,1148.4 342.1,1146.6 342.6,1148.2 343.0,1148.7 343.5,1149.1 343.9,1148.3 344.4,1148.4 344.8,1146.4 345.3,1149.1 345.7,1147.2 346.2,1146.2 346.6,1148.8 347.1,1149.1 347.5,1148.8 348.0,1146.3 348.4,1148.4 348.9,1148.0 349.3,1146.8 349.8,1148.2 350.2,1149.1 350.7,1146.5 351.1,1149.1 351.6,1147.6 352.0,1147.7 352.5,1148.0 352.9,1149.1 353.4,1147.3 353.8,1148.8 354.3,1149.1 354.7,1149.1 355.2,1149.1 355.6,1148.1 356.1,1149.1 356.5,1149.1 357.0,1148.2 357.4,1146.9 357.9,1148.1 358.3,1149.1 358.8,1149.0 359.2,1148.8 359.7,1148.5 360.1,1147.5 360.6,1149.1 361.0,1147.1 361.5,1146.6 361.9,1148.4 362.4,1146.0 362.8,1148.2 363.3,1148.3 363.7,1146.3 364.2,1149.1 364.6,1146.3 365.1,1149.1 365.5,1148.3 366.0,1147.5 366.4,1148.8 366.9,1148.6 367.3,1149.1 367.8,1148.4 368.2,1147.4 368.7,1148.4 369.1,1147.2 369.6,1148.6 370.0,1147.8 370.5,1148.7 370.9,1146.6 371.4,1149.1 371.8,1148.3 372.3,1147.5 372.7,1149.1 373.2,1147.0 373.6,1147.9 374.1,1148.3 374.5,1148.1 375.0,1147.8 375.4,1149.0 375.9,1148.2 376.3,1149.1 376.8,1149.0 377.2,1148.1 377.7,1149.1 378.1,1147.5 378.6,1149.1 379.0,1149.1 379.5,1148.8 379.9,1149.1 380.4,1147.0 380.8,1147.3 381.3,1149.1 381.7,1148.1 382.2,1148.9 382.6,1148.7 383.1,1149.1 383.5,1148.2 384.0,1148.6 384.4,1147.9 384.9,1149.1 385.3,1149.1 385.8,1149.1 386.2,1149.1 386.7,1149.1 387.1,1147.4 387.6,1149.0 388.0,1148.6 388.5,1147.1 388.9,1146.9 389.4,1149.1 389.8,1149.1 390.3,1148.9 390.7,1149.1 391.2,1148.1 391.6,1148.9 392.1,1149.0 392.5,1148.9 393.0,1149.1 393.4,1148.3 393.9,1149.1 394.3,1149.1 394.8,1149.1 395.2,1149.1 395.7,1149.1 396.1,1149.1 396.6,1149.1 397.0,1147.5 397.5,1148.8 397.9,1149.1 398.4,1149.1 398.8,1149.1 399.3,1148.8 399.7,1147.9 400.2,1147.3 400.6,1147.0 401.1,1149.1 401.5,1149.1 402.0,1148.3 402.4,1148.7 402.9,1148.4 403.3,1147.5 403.8,1148.0 404.2,1148.3 404.7,1148.8 405.1,1149.1 405.6,1148.5 406.0,1149.1 406.5,1148.8 406.9,1149.1 407.4,1147.8 407.8,1149.1 408.3,1148.9 408.7,1148.9 409.2,1147.8 409.6,1147.8 410.1,1148.1 410.5,1149.1 411.0,1149.1 411.4,1148.4 411.9,1149.1 412.3,1148.0 412.8,1148.5 413.2,1149.1 413.7,1149.1 414.1,1148.5 414.6,1149.1 415.0,1148.5 415.5,1149.1 415.9,1149.1 416.4,1148.1 416.8,1149.1 417.3,1148.7 417.7,1149.1 418.2,1149.1 418.6,1149.0 419.1,1149.1 419.5,1148.4 420.0,1149.1 420.4,1149.1 420.9,1148.1 421.3,1149.1 421.8,1148.2 422.2,1148.8 422.7,1149.1 423.1,1148.5 423.6,1147.1 424.0,1149.1 424.5,1149.1 424.9,1148.8 425.4,1149.1 425.8,1149.1 426.3,1149.1 426.7,1148.5 427.2,1147.3 427.6,1149.1 428.1,1149.1 428.5,1148.6 429.0,1149.1 429.4,1148.0 429.9,1148.4 430.3,1149.0 430.8,1148.6 431.2,1149.1 431.7,1149.1 432.1,1149.1 432.6,1149.0 433.0,1148.2 433.5,1148.5 433.9,1146.9 434.4,1147.5 434.8,1147.9 435.3,1148.5 435.7,1148.9 436.2,1149.1 436.6,1149.1 437.1,1149.1 437.5,1147.9 438.0,1147.8 438.4,1149.1 438.9,1149.1 439.3,1147.4 439.8,1149.1 440.2,1147.8 440.7,1149.1 441.1,1149.1 441.6,1148.5 442.0,1149.1 442.5,1148.6 442.9,1149.1 443.4,1148.8 443.8,1149.1 444.3,1149.1 444.7,1148.9 445.2,1149.1 445.6,1148.8 446.1,1149.1 446.5,1147.4 447.0,1148.1 447.4,1148.5 447.9,1148.6 448.3,1148.9 448.8,1147.7 449.2,1149.1 449.7,1148.8 450.1,1149.0 450.6,1149.1 451.0,1148.5 451.5,1148.7 451.9,1149.1 452.4,1148.6 452.8,1149.1 453.3,1149.0 453.7,1149.1 454.2,1147.5 454.6,1149.1 455.1,1149.1 455.5,1148.6 456.0,1148.9 456.4,1148.7 456.9,1148.0 457.3,1148.5 457.8,1148.5 458.2,1147.9 458.7,1147.8 459.1,1149.1 459.6,1149.1 460.0,1149.1 460.5,1149.1 460.9,1147.7 461.4,1147.9 461.8,1148.6 462.3,1149.1 462.7,1148.6 463.2,1149.1 463.6,1148.5 464.1,1149.1 464.5,1146.9 465.0,1149.1 465.4,1148.5 465.9,1149.1 466.3,1148.3 466.8,1149.1 467.2,1148.4 467.7,1148.5 468.1,1147.7 468.6,1147.6 469.0,1149.1 469.5,1147.8 469.9,1147.7 470.4,1149.1 470.8,1149.1 471.3,1147.8 471.7,1149.1 472.2,1149.1 472.6,1149.1 473.1,1149.1 473.5,1149.1 474.0,1147.1 474.4,1148.4 474.9,1147.3 475.3,1148.9 475.8,1149.1 476.2,1148.4 476.7,1148.3 477.1,1149.1 477.6,1148.8 478.0,1148.6 478.5,1147.9 478.9,1148.6 479.4,1148.4 479.8,1149.1 480.3,1149.1 480.7,1148.0 481.2,1149.1 481.6,1148.1 482.1,1149.1 482.5,1147.2 483.0,1147.6 483.4,1149.1 483.9,1147.7 484.3,1149.1 484.8,1147.1 485.2,1148.7 485.7,1146.5 486.1,1149.1 486.6,1147.6 487.0,1148.9 487.5,1147.6 487.9,1148.2 488.4,1149.1 488.8,1147.9 489.3,1147.1 489.7,1148.5 490.2,1148.2 490.6,1148.9 491.1,1148.1 491.5,1149.1 492.0,1149.1 492.4,1148.2 492.9,1149.1 493.3,1148.9 493.8,1147.6 494.2,1148.2 494.7,1149.1 495.1,1149.1 495.6,1149.1 496.0,1149.0 496.5,1149.1 496.9,1148.6 497.4,1149.1 497.8,1147.8 498.3,1149.1 498.7,1148.5 499.2,1148.8 499.6,1147.9 500.1,1149.1 500.5,1148.0 501.0,1149.1 501.4,1146.9 501.9,1148.7 502.3,1147.7 502.8,1148.0 503.2,1149.1 503.7,1147.4 504.1,1149.1 504.6,1149.1 505.0,1148.9 505.5,1147.6 505.9,1149.1 506.4,1147.3 506.8,1146.4 507.3,1149.1 507.7,1148.1 508.2,1148.2 508.6,1149.1 509.1,1148.6 509.5,1149.1 510.0,1149.1 510.4,1149.1 510.9,1149.1 511.3,1148.5 511.8,1147.8 512.2,1149.0 512.7,1149.1 513.1,1147.6 513.6,1149.1 514.0,1149.0 514.5,1147.3 514.9,1147.6 515.4,1148.3 515.8,1149.0 516.3,1148.8 516.7,1148.0 517.2,1149.1 517.6,1147.9 518.1,1148.1 518.5,1148.3 519.0,1148.7 519.4,1146.9 519.9,1148.3 520.3,1149.1 520.8,1149.1 521.2,1148.6 521.7,1147.8 522.1,1149.0 522.6,1148.0 523.0,1149.0 523.5,1149.1 523.9,1148.5 524.4,1147.8 524.8,1147.3 525.3,1149.1 525.7,1149.1 526.2,1147.3 526.6,1149.1 527.1,1148.2 527.5,1147.4 528.0,1148.2 528.4,1147.2 528.9,1149.0 529.3,1148.1 529.8,1147.2 530.2,1148.1 530.7,1149.1 531.1,1146.9 531.6,1148.1 532.0,1147.0 532.5,1147.0 532.9,1148.0 533.4,1146.6 533.8,1147.0 534.3,1145.4 534.7,1149.1 535.2,1147.8 535.6,1145.9 536.1,1147.5 536.5,1145.1 537.0,1147.8 537.4,1146.8 537.9,1146.3 538.3,1146.2 538.8,1146.0 539.2,1147.0 539.7,1147.3 540.1,1145.5 540.6,1144.5 541.0,1145.0 541.5,1145.6 541.9,1145.5 542.4,1145.6 542.8,1147.6 543.3,1145.8 543.7,1147.2 544.2,1145.9 544.6,1147.8 545.1,1146.2 545.5,1147.9 546.0,1147.1 546.4,1147.2 546.9,1147.8 547.3,1146.2 547.8,1146.9 548.2,1146.5 548.7,1146.0 549.1,1146.0 549.6,1146.4 550.0,1147.0 550.5,1147.9 550.9,1145.5 551.4,1148.2 551.8,1148.0 552.3,1146.6 552.7,1145.9 553.2,1147.8 553.6,1146.4 554.1,1147.6 554.5,1146.6 555.0,1145.8 555.4,1146.1 555.9,1146.9 556.3,1146.7 556.8,1146.0 557.2,1147.1 557.7,1147.7 558.1,1147.9 558.6,1149.0 559.0,1145.9 559.5,1148.3 559.9,1145.7 560.4,1147.8 560.8,1149.1 561.3,1147.5 561.7,1147.0 562.2,1146.1 562.6,1146.2 563.1,1146.8 563.5,1147.6 564.0,1146.3 564.4,1147.1 564.9,1147.1 565.3,1145.9 565.8,1145.1 566.2,1143.4 566.7,1146.2 567.1,1146.4 567.6,1146.5 568.0,1146.3 568.5,1145.2 568.9,1144.1 569.4,1144.6 569.8,1142.6 570.3,1142.4 570.7,1144.5 571.2,1144.2 571.6,1143.4 572.1,1142.2 572.5,1142.6 573.0,1142.5 573.4,1140.9 573.9,1138.9 574.3,1138.9 574.8,1139.5 575.2,1138.1 575.7,1136.7 576.1,1137.4 576.6,1135.1 577.0,1132.2 577.5,1130.2 577.9,1129.6 578.4,1127.0 578.8,1123.9 579.3,1121.6 579.7,1113.1 580.2,1110.1 580.6,1102.7 581.1,1090.8 581.5,1078.9 582.0,1056.9 582.4,1025.6 582.9,979.4 583.3,926.2 583.8,912.9 584.2,958.9 584.7,1010.4 585.1,1049.4 585.6,1071.9 586.0,1087.5 586.5,1096.7 586.9,1104.7 587.4,1111.9 587.8,1113.4 588.3,1118.4 588.7,1119.2 589.2,1121.3 589.6,1121.6 590.1,1122.3 590.5,1126.6 591.0,1127.7 591.4,1128.6 591.9,1130.5 592.3,1133.1 592.8,1134.1 593.2,1135.4 593.7,1136.7 594.1,1137.8 594.6,1138.8 595.0,1139.1 595.5,1140.8 595.9,1142.3 596.4,1140.7 596.8,1141.4 597.3,1141.5 597.7,1141.5 598.2,1142.6 598.6,1143.9 599.1,1144.2 599.5,1146.6 600.0,1145.6 600.4,1145.7 600.9,1146.8 601.3,1143.3 601.8,1146.2 602.2,1145.5 602.7,1145.8 603.1,1145.9 603.6,1145.1 604.0,1146.6 604.5,1147.0 604.9,1145.8 605.4,1146.9 605.8,1148.5 606.3,1147.1 606.7,1146.7 607.2,1147.7 607.6,1146.4 608.1,1146.8 608.5,1146.9 609.0,1148.8 609.4,1146.9 609.9,1147.3 610.3,1145.6 610.8,1147.7 611.2,1146.7 611.7,1147.1 612.1,1147.2 612.6,1146.9 613.0,1147.3 613.5,1149.1 613.9,1147.2 614.4,1146.9 614.8,1146.7 615.3,1149.0 615.7,1148.1 616.2,1146.2 616.6,1146.1 617.1,1146.7 617.5,1147.3 618.0,1149.1 618.4,1147.7 618.9,1148.1 619.3,1147.1 619.8,1147.3 620.2,1148.4 620.7,1146.4 621.1,1147.6 621.6,1149.1 622.0,1148.3 622.5,1149.1 622.9,1149.1 623.4,1148.0 623.8,1148.8 624.3,1147.4 624.7,1147.5 625.2,1146.5 625.6,1149.1 626.1,1149.1 626.5,1148.6 627.0,1146.5 627.4,1149.0 627.9,1148.4 628.3,1146.7 628.8,1147.5 629.2,1147.6 629.7,1149.1 630.1,1148.8 630.6,1148.5 631.0,1149.1 631.5,1148.5 631.9,1147.1 632.4,1149.1 632.8,1146.5 633.3,1148.1 633.7,1147.9 634.2,1147.7 634.6,1149.1 635.1,1149.1 635.5,1148.3 636.0,1148.1 636.4,1149.1 636.9,1148.4 637.3,1147.3 637.8,1149.1 638.2,1147.4 638.7,1146.6 639.1,1148.0 639.6,1148.8 640.0,1146.9 640.5,1147.6 640.9,1148.1 641.4,1147.1 641.8,1147.1 642.3,1149.1 642.7,1147.6 643.2,1149.1 643.6,1148.2 644.1,1149.1 644.5,1149.1 645.0,1149.0 645.4,1148.3 645.9,1147.8 646.3,1148.1 646.8,1148.7 647.2,1147.4 647.7,1147.7 648.1,1148.3 648.6,1146.5 649.0,1148.1 649.5,1148.9 649.9,1147.1 650.4,1148.5 650.8,1149.1 651.3,1149.0 651.7,1147.6 652.2,1147.9 652.6,1146.1 653.1,1149.1 653.5,1147.1 654.0,1149.1 654.4,1149.1 654.9,1146.0 655.3,1147.3 655.8,1149.1 656.2,1149.1 656.7,1148.7 657.1,1149.1 657.6,1148.1 658.0,1148.6 658.5,1149.1 658.9,1149.0 659.4,1149.1 659.8,1147.9 660.3,1148.7 660.7,1149.1 661.2,1149.1 661.6,1149.1 662.1,1147.7 662.5,1147.8 663.0,1149.0 663.4,1148.4 663.9,1149.1 664.3,1149.1 664.8,1148.8 665.2,1148.8 665.7,1147.4 666.1,1147.7 666.6,1149.1 667.0,1149.1 667.5,1148.0 667.9,1146.5 668.4,1148.9 668.8,1148.6 669.3,1149.1 669.7,1147.1 670.2,1149.1 670.6,1149.0 671.1,1149.1 671.5,1148.6 672.0,1149.1 672.4,1148.1 672.9,1147.3 673.3,1148.9 673.8,1148.7 674.2,1149.0 674.7,1148.7 675.1,1149.1 675.6,1148.5 676.0,1145.9 676.5,1148.4 676.9,1147.0 677.4,1145.6 677.8,1147.3 678.3,1147.8 678.7,1148.2 679.2,1148.5 679.6,1148.6 680.1,1148.6 680.5,1148.7 681.0,1147.8 681.4,1148.4 681.9,1149.1 682.3,1149.1 682.8,1148.4 683.2,1148.8 683.7,1147.2 684.1,1148.4 684.6,1147.8 685.0,1149.1 685.5,1148.4 685.9,1148.3 686.4,1149.0 686.8,1148.6 687.3,1149.1 687.7,1148.6 688.2,1149.1 688.6,1149.1 689.1,1147.4 689.5,1145.9 690.0,1148.5 690.4,1149.1 690.9,1147.8 691.3,1147.7 691.8,1146.1 692.2,1149.1 692.7,1148.0 693.1,1146.5 693.6,1149.1 694.0,1146.9 694.5,1145.7 694.9,1145.7 695.4,1145.7 695.8,1146.8 696.3,1147.6 696.7,1147.4 697.2,1146.9 697.6,1144.9 698.1,1147.8 698.5,1145.0 699.0,1144.2 699.4,1146.2 699.9,1145.5 700.3,1141.8 700.8,1143.7 701.2,1143.7 701.7,1141.2 702.1,1139.1 702.6,1137.4 703.0,1137.2 703.5,1129.8 703.9,1125.2 704.4,1123.9 704.8,1125.7 705.3,1130.7 705.7,1133.7 706.2,1135.3 706.6,1137.6 707.1,1139.3 707.5,1140.4 708.0,1141.0 708.4,1142.0 708.9,1143.8 709.3,1142.3 709.8,1143.8 710.2,1143.1 710.7,1140.6 711.1,1142.4 711.6,1136.7 712.0,1136.3 712.5,1136.0 712.9,1134.9 713.4,1137.2 713.8,1138.6 714.3,1139.4 714.7,1142.0 715.2,1143.8 715.6,1144.4 716.1,1143.5 716.5,1145.8 717.0,1145.6 717.4,1144.8 717.9,1147.4 718.3,1146.1 718.8,1145.3 719.2,1145.0 719.7,1147.4 720.1,1148.3 720.6,1147.6 721.0,1148.1 721.5,1146.4 721.9,1147.9 722.4,1148.3 722.8,1147.4 723.3,1148.3 723.7,1148.3 724.2,1147.9 724.6,1148.0 725.1,1148.4 725.5,1148.3 726.0,1148.7 726.4,1149.1 726.9,1148.2 727.3,1149.1 727.8,1146.8 728.2,1149.1 728.7,1148.2 729.1,1148.9 729.6,1148.7 730.0,1148.6 730.5,1148.6 730.9,1148.8 731.4,1148.2 731.8,1149.0 732.3,1148.1 732.7,1149.1 733.2,1148.3 733.6,1149.1 734.1,1148.3 734.5,1148.9 735.0,1149.0 735.4,1148.5 735.9,1148.0 736.3,1149.0 736.8,1146.5 737.2,1147.4 737.7,1149.1 738.1,1149.1 738.6,1148.0 739.0,1148.5 739.5,1149.1 739.9,1149.1 740.4,1147.0 740.8,1147.5 741.3,1148.8 741.7,1149.1 742.2,1147.4 742.6,1147.2 743.1,1146.3 743.5,1149.0 744.0,1148.5 744.4,1149.1 744.9,1147.8 745.3,1149.1 745.8,1148.2 746.2,1145.9 746.7,1148.6 747.1,1149.0 747.6,1148.9 748.0,1149.1 748.5,1149.1 748.9,1148.6 749.4,1147.9 749.8,1149.1 750.3,1149.0 750.7,1148.3 751.2,1149.1 751.6,1149.1 752.1,1148.6 752.5,1148.7 753.0,1149.1 753.4,1149.1 753.9,1147.9 754.3,1147.7 754.8,1147.4 755.2,1149.1 755.7,1148.9 756.1,1146.9 756.6,1148.2 757.0,1149.1 757.5,1149.1 757.9,1147.9 758.4,1147.9 758.8,1149.1 759.3,1149.1 759.7,1149.1 760.2,1146.7 760.6,1148.7 761.1,1148.0 761.5,1148.3 762.0,1149.1 762.4,1146.1 762.9,1148.2 763.3,1147.7 763.8,1147.6 764.2,1147.6 764.7,1148.0 765.1,1148.1 765.6,1148.8 766.0,1147.7 766.5,1149.1 766.9,1148.1 767.4,1149.1 767.8,1149.0 768.3,1148.2 768.7,1148.4 769.2,1149.1 769.6,1149.1 770.1,1148.2 770.5,1148.7 771.0,1147.8 771.4,1148.5 771.9,1148.7 772.3,1149.1 772.8,1149.1 773.2,1148.7 773.7,1149.1 774.1,1149.1 774.6,1146.0 775.0,1149.1 775.5,1148.4 775.9,1149.1 776.4,1147.6 776.8,1149.1 777.3,1149.1 777.7,1149.1 778.2,1149.1 778.6,1147.7 779.1,1148.6 779.5,1148.8 780.0,1149.1 780.4,1149.1 780.9,1147.5 781.3,1148.4 781.8,1148.4 782.2,1147.3 782.7,1147.4 783.1,1147.1 783.6,1148.4 784.0,1148.9 784.5,1149.1 784.9,1148.3 785.4,1148.6 785.8,1148.4 786.3,1149.1 786.7,1149.1 787.2,1149.1 787.6,1149.1 788.1,1148.6 788.5,1149.0 789.0,1149.1 789.4,1149.1 789.9,1149.1 790.3,1148.9 790.8,1149.1 791.2,1148.2 791.7,1149.0 792.1,1148.4 792.6,1149.1 793.0,1149.1 793.5,1148.7 793.9,1149.1 794.4,1148.9 794.8,1149.0 795.3,1148.3 795.7,1149.1 796.2,1147.3 796.6,1149.1 797.1,1149.1 797.5,1149.1 798.0,1149.1 798.4,1148.5 798.9,1147.6 799.3,1147.4 799.8,1148.4 800.2,1147.2 800.7,1149.1 801.1,1149.1 801.6,1149.0 802.0,1148.8 802.5,1149.1 802.9,1149.1 803.4,1148.4 803.8,1148.8 804.3,1147.8 804.7,1149.1 805.2,1148.5 805.6,1149.1 806.1,1148.6 806.5,1148.5 807.0,1149.1 807.4,1147.9 807.9,1148.4 808.3,1148.3 808.8,1148.2 809.2,1148.7 809.7,1147.5 810.1,1149.1 810.6,1148.0 811.0,1149.1 811.5,1148.6 811.9,1149.1 812.4,1147.7 812.8,1149.1 813.3,1149.1 813.7,1149.1 814.2,1148.7 814.6,1147.7 815.1,1147.6 815.5,1148.2 816.0,1147.9 816.4,1147.9 816.9,1148.7 817.3,1148.0 817.8,1149.1 818.2,1149.1 818.7,1149.1 819.1,1148.8 819.6,1149.1 820.0,1149.1 820.5,1148.7 820.9,1149.1 821.4,1148.5 821.8,1147.3 822.3,1149.1 822.7,1148.5 823.2,1149.1 823.6,1147.6 824.1,1149.1 824.5,1149.1 825.0,1149.1 825.4,1149.1 825.9,1148.2 826.3,1149.1 826.8,1148.0 827.2,1148.8 827.7,1147.9 828.1,1149.1 828.6,1149.1 829.0,1148.1 829.5,1148.7 829.9,1147.9 830.4,1149.1 830.8,1148.1 831.3,1148.6 831.7,1148.9 832.2,1148.7 832.6,1148.8 833.1,1148.3 833.5,1148.8 834.0,1149.1 834.4,1149.1 834.9,1149.1 835.3,1149.1 835.8,1149.1 836.2,1148.6 836.7,1149.1 837.1,1149.1 837.6,1148.4 838.0,1148.6 838.5,1149.1 838.9,1149.1 839.4,1149.1 839.8,1148.7 840.3,1149.1 840.7,1148.9 841.2,1148.0 841.6,1147.2 842.1,1149.1 842.5,1149.1 843.0,1147.9 843.4,1147.3 843.9,1149.0 844.3,1147.5 844.8,1145.9 845.2,1146.4 845.7,1146.1 846.1,1145.7 846.6,1147.5 847.0,1147.3 847.5,1147.4 847.9,1143.8 848.4,1148.3 848.8,1144.6 849.3,1146.8 849.7,1147.7 850.2,1147.7 850.6,1147.9 851.1,1146.3 851.5,1147.2 852.0,1147.4 852.4,1149.1 852.9,1148.9 853.3,1147.3 853.8,1147.9 854.2,1147.4 854.7,1149.1 855.1,1149.0 855.6,1147.4 856.0,1148.4 856.5,1148.2 856.9,1148.4 857.4,1147.9 857.8,1148.5 858.3,1148.2 858.7,1147.7 859.2,1147.1 859.6,1149.1 860.1,1147.0 860.5,1149.1 861.0,1147.0 861.4,1148.6 861.9,1149.1 862.3,1148.3 862.8,1149.1 863.2,1148.5 863.7,1149.0 864.1,1148.0 864.6,1148.7 865.0,1148.6 865.5,1149.1 865.9,1147.3 866.4,1147.5 866.8,1149.0 867.3,1147.8 867.7,1148.4 868.2,1147.5 868.6,1146.9 869.1,1148.1 869.5,1149.0 870.0,1148.7 870.4,1148.5 870.9,1147.7 871.3,1149.1 871.8,1147.4 872.2,1149.1 872.7,1149.1 873.1,1147.6 873.6,1147.0 874.0,1149.1 874.5,1147.3 874.9,1148.7 875.4,1149.1 875.8,1148.8 876.3,1149.1 876.7,1149.1 877.2,1148.2 877.6,1149.1 878.1,1148.2 878.5,1149.1 879.0,1149.1 879.4,1148.9 879.9,1149.1 880.3,1149.1 880.8,1149.1 881.2,1148.7 881.7,1148.9 882.1,1149.1 882.6,1149.1 883.0,1148.1 883.5,1149.1 883.9,1148.2 884.4,1148.6 884.8,1147.8 885.3,1148.4 885.7,1149.1 886.2,1148.3 886.6,1149.1 887.1,1148.8 887.5,1149.1 888.0,1149.1 888.4,1149.1 888.9,1148.3 889.3,1148.5 889.8,1147.4 890.2,1149.1 890.7,1149.1 891.1,1149.1 891.6,1147.3 892.0,1149.1 892.5,1147.8 892.9,1149.1 893.4,1147.2 893.8,1148.5 894.3,1148.7 894.7,1148.7 895.2,1149.1 895.6,1149.1 896.1,1149.1 896.5,1147.6 897.0,1148.4 897.4,1148.4 897.9,1148.1 898.3,1148.1 898.8,1148.4 899.2,1149.1 899.7,1147.3 900.1,1147.6 900.6,1148.5 901.0,1149.1 901.5,1148.6 901.9,1148.3 902.4,1149.1 902.8,1149.1 903.3,1148.3 903.7,1149.1 904.2,1148.5 904.6,1148.0 905.1,1148.4 905.5,1149.1 906.0,1147.9 906.4,1149.1 906.9,1149.1 907.3,1148.0 907.8,1148.7 908.2,1149.1 908.7,1149.1 909.1,1149.1 909.6,1149.1 910.0,1149.0 910.5,1148.7 910.9,1149.1 911.4,1148.8 911.8,1149.1 912.3,1149.1 912.7,1148.5 913.2,1149.1 913.6,1148.6 914.1,1148.8 914.5,1146.5 915.0,1149.0 915.4,1148.6 915.9,1149.1 916.3,1146.4 916.8,1148.8 917.2,1149.1 917.7,1148.6 918.1,1148.7 918.6,1148.9 919.0,1149.1 919.5,1149.0 919.9,1147.4 920.4,1149.1 920.8,1147.5 921.3,1148.8 921.7,1149.1 922.2,1148.3 922.6,1147.4 923.1,1149.1 923.5,1149.1 924.0,1147.6 924.4,1147.4 924.9,1149.0 925.3,1148.9 925.8,1149.1 926.2,1148.7 926.7,1149.1 927.1,1149.1 927.6,1149.1 928.0,1149.1 928.5,1149.1 928.9,1149.1 929.4,1148.6 929.8,1148.9 930.3,1149.1 930.7,1149.1 931.2,1149.1 931.6,1148.6 932.1,1149.1 932.5,1148.7 933.0,1148.4 933.4,1147.3 933.9,1148.7 934.3,1149.1 934.8,1149.1 935.2,1147.9 935.7,1149.1 936.1,1149.1 936.6,1149.1 937.0,1147.9 937.5,1148.0 937.9,1147.5 938.4,1149.1 938.8,1148.3 939.3,1148.5 939.7,1147.7 940.2,1148.5 940.6,1147.9 941.1,1147.6 941.5,1147.9 942.0,1149.1 942.4,1149.1 942.9,1149.1 943.3,1149.0 943.8,1149.0 944.2,1147.6 944.7,1148.4 945.1,1149.1 945.6,1148.1 946.0,1148.0 946.5,1149.1 946.9,1147.5 947.4,1148.0 947.8,1149.1 948.3,1148.8 948.7,1149.1 949.2,1148.3 949.6,1148.4 950.1,1148.3 950.5,1149.1 951.0,1149.1 951.4,1147.2 951.9,1147.1 952.3,1149.1 952.8,1149.1 953.2,1148.2 953.7,1148.4 954.1,1147.5 954.6,1149.1 955.0,1149.1 955.5,1149.1 955.9,1148.0 956.4,1148.3 956.8,1149.1 957.3,1148.4 957.7,1149.1 958.2,1149.1 958.6,1148.4 959.1,1147.8 959.5,1148.5 960.0,1149.1 960.4,1148.3 960.9,1149.1 961.3,1148.7 961.8,1149.1 962.2,1148.7 962.7,1148.1 963.1,1147.8 963.6,1147.9 964.0,1147.6 964.5,1148.2 964.9,1148.1 965.4,1149.1 965.8,1147.8 966.3,1148.3 966.7,1148.7 967.2,1149.1 967.6,1149.1 968.1,1149.1 968.5,1148.7 969.0,1147.9 969.4,1148.9 969.9,1147.6 970.3,1149.1 970.8,1146.4 971.2,1148.6 971.7,1148.8 972.1,1149.0 972.6,1149.1 973.0,1149.1 973.5,1149.1 973.9,1148.4 974.4,1147.9 974.8,1148.9 975.3,1149.1 975.7,1146.7 976.2,1147.9 976.6,1147.7 977.1,1148.0 977.5,1147.4 978.0,1147.9 978.4,1148.9 978.9,1147.8 979.3,1149.1 979.8,1147.2 980.2,1149.1 980.7,1148.8 981.1,1149.1 981.6,1149.0 982.0,1149.1 982.5,1148.9 982.9,1147.6 983.4,1148.9 983.8,1149.1 984.3,1147.4 984.7,1148.9 985.2,1147.6 985.6,1148.7 986.1,1148.0 986.5,1148.5 987.0,1147.9 987.4,1148.9 987.9,1147.4 988.3,1147.7 988.8,1149.1 989.2,1149.1 989.7,1149.1 990.1,1147.9 990.6,1148.5 991.0,1148.1 991.5,1149.1 991.9,1148.1 992.4,1149.1 992.8,1148.5 993.3,1149.1 993.7,1149.1 994.2,1149.0 994.6,1147.7 995.1,1149.1 995.5,1149.1 996.0,1147.6 996.4,1148.9 996.9,1148.4 997.3,1148.6 997.8,1147.4 998.2,1148.0 998.7,1148.0 999.1,1147.9 999.6,1148.5 1000.0,1149.1 1000.5,1149.0 1000.9,1148.5 1001.4,1149.1 1001.8,1148.8 1002.3,1148.5 1002.7,1149.1 1003.2,1148.3 1003.6,1148.4 1004.1,1149.1 1004.5,1149.1 1005.0,1148.3 1005.4,1149.1 1005.9,1149.1 1006.3,1147.6 1006.8,1149.1 1007.2,1147.8 1007.7,1148.8 1008.1,1148.7 1008.6,1148.7 1009.0,1149.1 1009.5,1149.1 1009.9,1149.1 1010.4,1148.0 1010.8,1149.1 1011.3,1148.6 1011.7,1149.1 1012.2,1148.7 1012.6,1148.9 1013.1,1147.6 1013.5,1149.1 1014.0,1149.1 1014.4,1149.1 1014.9,1148.4 1015.3,1148.5 1015.8,1147.1 1016.2,1148.9 1016.7,1148.4 1017.1,1148.2 1017.6,1147.7 1018.0,1149.1 1018.5,1148.9 1018.9,1147.9 1019.4,1149.1 1019.8,1148.3 1020.3,1148.4 1020.7,1148.2 1021.2,1149.1 1021.6,1149.1 1022.1,1148.5 1022.5,1149.1 1023.0,1148.1 1023.4,1148.3 1023.9,1149.1 1024.3,1149.1 1024.8,1149.1 1025.2,1148.3 1025.7,1148.6 1026.1,1149.0 1026.6,1149.1 1027.0,1148.2 1027.5,1148.0 1027.9,1149.1 1028.4,1147.3 1028.8,1147.2 1029.3,1149.1 1029.7,1147.8 1030.2,1148.5 1030.6,1148.4 1031.1,1149.1 1031.5,1148.8 1032.0,1148.8 1032.4,1149.1 1032.9,1149.1 1033.3,1149.1 1033.8,1149.1 1034.2,1149.1 1034.7,1148.2 1035.1,1149.1 1035.6,1149.1 1036.0,1148.2 1036.5,1149.1 1036.9,1148.6 1037.4,1146.5 1037.8,1149.1 1038.3,1148.9 1038.7,1148.3 1039.2,1148.5 1039.6,1149.1 1040.1,1148.8 1040.5,1149.1 1041.0,1148.3 1041.4,1148.4 1041.9,1148.9 1042.3,1147.8 1042.8,1147.7 1043.2,1149.1 1043.7,1149.1 1044.1,1148.8 1044.6,1147.8 1045.0,1147.6 1045.5,1147.5 1045.9,1148.3 1046.4,1149.1 1046.8,1148.1 1047.3,1148.2 1047.7,1149.1 1048.2,1149.1 1048.6,1148.9 1049.1,1146.9 1049.5,1148.4 1050.0,1147.9 1050.4,1149.1 1050.9,1149.1 1051.3,1147.4 1051.8,1149.1 1052.2,1147.9 1052.7,1149.1 1053.1,1147.2 1053.6,1149.0 1054.0,1149.1 1054.5,1149.1 1054.9,1147.8 1055.4,1148.9 1055.8,1148.5 1056.3,1148.6 1056.7,1149.1 1057.2,1148.4 1057.6,1149.1 1058.1,1147.9 1058.5,1149.1 1059.0,1148.2 1059.4,1146.5 1059.9,1149.1 1060.3,1147.9 1060.8,1147.4 1061.2,1149.1 1061.7,1148.4 1062.1,1147.9 1062.6,1148.6 1063.0,1148.0 1063.5,1148.8 1063.9,1147.6 1064.4,1148.7 1064.8,1147.1 1065.3,1149.1 1065.7,1147.6 1066.2,1147.1 1066.6,1148.7 1067.1,1148.0 1067.5,1148.2 1068.0,1145.8 1068.4,1148.8 1068.9,1145.7 1069.3,1148.2 1069.8,1149.1 1070.2,1148.8 1070.7,1148.2 1071.1,1146.2 1071.6,1148.7 1072.0,1147.4 1072.5,1147.9 1072.9,1147.9 1073.4,1147.9 1073.8,1146.8 1074.3,1148.1 1074.7,1148.5 1075.2,1146.1 1075.6,1147.8 1076.1,1146.4 1076.5,1144.8 1077.0,1146.4 1077.4,1145.8 1077.9,1146.4 1078.3,1147.1 1078.8,1147.3 1079.2,1148.0 1079.7,1145.1 1080.1,1146.5 1080.6,1145.7 1081.0,1146.2 1081.5,1146.1 1081.9,1145.4 1082.4,1145.6 1082.8,1145.5 1083.3,1144.2 1083.7,1146.8 1084.2,1143.1 1084.6,1144.4 1085.1,1144.0 1085.5,1144.8 1086.0,1144.4 1086.4,1141.8 1086.9,1142.1 1087.3,1142.0 1087.8,1141.7 1088.2,1140.4 1088.7,1139.0 1089.1,1138.2 1089.6,1138.5 1090.0,1135.8 1090.5,1135.4 1090.9,1133.3 1091.4,1131.2 1091.8,1129.9 1092.3,1125.2 1092.7,1121.1 1093.2,1115.0 1093.6,1107.9 1094.1,1097.3 1094.5,1081.5 1095.0,1056.0 1095.4,1020.8 1095.9,992.2 1096.3,999.6 1096.8,1032.6 1097.2,1063.7 1097.7,1086.4 1098.1,1100.2 1098.6,1108.0 1099.0,1115.6 1099.5,1119.4 1099.9,1124.6 1100.4,1126.0 1100.8,1127.0 1101.3,1130.5 1101.7,1131.6 1102.2,1133.8 1102.6,1132.8 1103.1,1134.3 1103.5,1136.5 1104.0,1136.6 1104.4,1138.6 1104.9,1139.4 1105.3,1139.4 1105.8,1140.0 1106.2,1141.2 1106.7,1142.5 1107.1,1143.2 1107.6,1144.1 1108.0,1142.9 1108.5,1142.9 1108.9,1145.6 1109.4,1143.2 1109.8,1144.1 1110.3,1145.5 1110.7,1144.7 1111.2,1144.5 1111.6,1145.0 1112.1,1146.3 1112.5,1146.4 1113.0,1146.0 1113.4,1146.4 1113.9,1146.2 1114.3,1147.0 1114.8,1145.2 1115.2,1147.6 1115.7,1146.7 1116.1,1148.5 1116.6,1146.8 1117.0,1146.4 1117.5,1147.5 1117.9,1146.8 1118.4,1147.7 1118.8,1147.0 1119.3,1148.1 1119.7,1148.5 1120.2,1145.3 1120.6,1146.4 1121.1,1146.8 1121.5,1148.2 1122.0,1147.7 1122.4,1148.7 1122.9,1148.6 1123.3,1148.1 1123.8,1148.1 1124.2,1149.1 1124.7,1148.6 1125.1,1149.1 1125.6,1146.5 1126.0,1145.9 1126.5,1149.1 1126.9,1148.7 1127.4,1149.1 1127.8,1149.1 1128.3,1148.0 1128.7,1147.1 1129.2,1148.5 1129.6,1148.5 1130.1,1148.0 1130.5,1148.2 1131.0,1148.7 1131.4,1149.0 1131.9,1148.5 1132.3,1148.1 1132.8,1149.1 1133.2,1149.1 1133.7,1148.6 1134.1,1148.7 1134.6,1146.6 1135.0,1148.1 1135.5,1148.5 1135.9,1146.2 1136.4,1148.1 1136.8,1147.2 1137.3,1148.7 1137.7,1149.1 1138.2,1148.8 1138.6,1147.8 1139.1,1148.0 1139.5,1147.7 1140.0,1149.1 1140.4,1149.1 1140.9,1149.1 1141.3,1149.1 1141.8,1149.1 1142.2,1148.5 1142.7,1149.1 1143.1,1149.1 1143.6,1148.1 1144.0,1148.8 1144.5,1149.1 1144.9,1149.0 1145.4,1149.1 1145.8,1149.1 1146.3,1147.7 1146.7,1148.1 1147.2,1147.6 1147.6,1149.1 1148.1,1149.1 1148.5,1148.1 1149.0,1149.1 1149.4,1149.1 1149.9,1148.7 1150.3,1149.1 1150.8,1147.9 1151.2,1147.1 1151.7,1149.1 1152.1,1148.9 1152.6,1147.6 1153.0,1149.1 1153.5,1149.1 1153.9,1147.5 1154.4,1148.5 1154.8,1148.2 1155.3,1148.5 1155.7,1149.1 1156.2,1149.1 1156.6,1147.5 1157.1,1149.1 1157.5,1149.1 1158.0,1149.1 1158.4,1149.1 1158.9,1149.0 1159.3,1148.6 1159.8,1149.1 1160.2,1149.0 1160.7,1146.8 1161.1,1149.0 1161.6,1148.3 1162.0,1149.1 1162.5,1147.5 1162.9,1148.3 1163.4,1149.1 1163.8,1149.1 1164.3,1149.1 1164.7,1148.8 1165.2,1148.6 1165.6,1149.1 1166.1,1149.1 1166.5,1149.1 1167.0,1148.1 1167.4,1149.1 1167.9,1148.1 1168.3,1149.1 1168.8,1149.1 1169.2,1149.1 1169.7,1146.8 1170.1,1147.4 1170.6,1149.1 1171.0,1149.1 1171.5,1148.3 1171.9,1148.4 1172.4,1148.4 1172.8,1148.8 1173.3,1147.6 1173.7,1147.9 1174.2,1149.1 1174.6,1149.1 1175.1,1149.1 1175.5,1148.5 1176.0,1148.6 1176.4,1149.1 1176.9,1148.7 1177.3,1149.1 1177.8,1148.1 1178.2,1148.0 1178.7,1149.1 1179.1,1149.1 1179.6,1149.1 1180.0,1149.1 1180.5,1148.8 1180.9,1148.3 1181.4,1148.7 1181.8,1149.1 1182.3,1147.0 1182.7,1148.5 1183.2,1148.4 1183.6,1147.9 1184.1,1147.9 1184.5,1148.8 1185.0,1149.1 1185.4,1149.1 1185.9,1149.1 1186.3,1148.4 1186.8,1149.1 1187.2,1149.1 1187.7,1148.3 1188.1,1149.1 1188.6,1149.1 1189.0,1148.9 1189.5,1147.7 1189.9,1149.0 1190.4,1148.2 1190.8,1147.0 1191.3,1148.9 1191.7,1149.1 1192.2,1149.0 1192.6,1149.1 1193.1,1149.1 1193.5,1149.1 1194.0,1149.1 1194.4,1149.1 1194.9,1148.7 1195.3,1148.6 1195.8,1148.3 1196.2,1148.7 1196.7,1149.1 1197.1,1148.6 1197.6,1149.1 1198.0,1148.2 1198.5,1147.9 1198.9,1147.7 1199.4,1148.5 1199.8,1148.6 1200.3,1149.0 1200.7,1148.2 1201.2,1149.1 1201.6,1149.1 1202.1,1149.1 1202.5,1149.1 1203.0,1148.0 1203.4,1149.1 1203.9,1149.1 1204.3,1148.2 1204.8,1149.1 1205.2,1148.7 1205.7,1149.1 1206.1,1149.1 1206.6,1148.4 1207.0,1147.4 1207.5,1149.1 1207.9,1149.1 1208.4,1149.1 1208.8,1148.7 1209.3,1149.1 1209.7,1148.0 1210.2,1149.1 1210.6,1149.1 1211.1,1148.9 1211.5,1149.1 1212.0,1148.2 1212.4,1148.8 1212.9,1148.7 1213.3,1147.6 1213.8,1149.1 1214.2,1148.8 1214.7,1148.7 1215.1,1149.1 1215.6,1148.0 1216.0,1149.1 1216.5,1149.1 1216.9,1149.1 1217.4,1148.9 1217.8,1149.1 1218.3,1149.1 1218.7,1149.0 1219.2,1149.1 1219.6,1149.1 1220.1,1149.1 1220.5,1149.1 1221.0,1149.1 1221.4,1149.1 1221.9,1148.6 1222.3,1147.6 1222.8,1149.1 1223.2,1149.1 1223.7,1147.2 1224.1,1149.1 1224.6,1148.7 1225.0,1148.9 1225.5,1148.4 1225.9,1149.0 1226.4,1149.1 1226.8,1146.8 1227.3,1149.1 1227.7,1149.1 1228.2,1147.9 1228.6,1149.1 1229.1,1146.9 1229.5,1146.6 1230.0,1149.1 1230.4,1147.9 1230.9,1149.1 1231.3,1148.2 1231.8,1148.4 1232.2,1149.1 1232.7,1148.4 1233.1,1149.1 1233.6,1149.1 1234.0,1148.3 1234.5,1147.6 1234.9,1149.1 1235.4,1149.1 1235.8,1149.0 1236.3,1148.8 1236.7,1149.0 1237.2,1148.4 1237.6,1148.7 1238.1,1148.9 1238.5,1149.1 1239.0,1149.1 1239.4,1148.4 1239.9,1149.1 1240.3,1148.3 1240.8,1148.6 1241.2,1148.4 1241.7,1149.1 1242.1,1147.0 1242.6,1146.9 1243.0,1149.1 1243.5,1149.1 1243.9,1148.5 1244.4,1148.1 1244.8,1147.8 1245.3,1148.1 1245.7,1149.1 1246.2,1148.2 1246.6,1147.8 1247.1,1148.7 1247.5,1149.1 1248.0,1147.5 1248.4,1149.1 1248.9,1149.1 1249.3,1149.1 1249.8,1149.1 1250.2,1148.2 1250.7,1149.1 1251.1,1148.5 1251.6,1149.1 1252.0,1148.9 1252.5,1148.6 1252.9,1148.5 1253.4,1149.1 1253.8,1147.3 1254.3,1149.1 1254.7,1149.1 1255.2,1148.6 1255.6,1148.0 1256.1,1148.9 1256.5,1149.1 1257.0,1149.1 1257.4,1149.1 1257.9,1148.7 1258.3,1149.1 1258.8,1148.4 1259.2,1149.1 1259.7,1147.6 1260.1,1149.1 1260.6,1149.1 1261.0,1149.1 1261.5,1149.1 1261.9,1148.0 1262.4,1149.1 1262.8,1149.1 1263.3,1149.1 1263.7,1147.8 1264.2,1148.9 1264.6,1148.9 1265.1,1147.6 1265.5,1149.0 1266.0,1149.1 1266.4,1149.1 1266.9,1149.1 1267.3,1147.8 1267.8,1148.8 1268.2,1149.1 1268.7,1148.8 1269.1,1149.1 1269.6,1148.9 1270.0,1149.1 1270.5,1149.1 1270.9,1147.1 1271.4,1149.0 1271.8,1148.2 1272.3,1147.9 1272.7,1148.8 1273.2,1146.9 1273.6,1147.1 1274.1,1149.1 1274.5,1147.7 1275.0,1149.1 1275.4,1149.1 1275.9,1148.3 1276.3,1149.1 1276.8,1149.1 1277.2,1148.8 1277.7,1148.3 1278.1,1148.3 1278.6,1149.1 1279.0,1148.6 1279.5,1149.1 1279.9,1148.1 1280.4,1149.1 1280.8,1149.1 1281.3,1149.1 1281.7,1148.7 1282.2,1148.1 1282.6,1148.5 1283.1,1148.5 1283.5,1148.9 1284.0,1148.5 1284.4,1149.1 1284.9,1148.9 1285.3,1147.7 1285.8,1149.1 1286.2,1149.1 1286.7,1149.1 1287.1,1148.9 1287.6,1148.4 1288.0,1147.9 1288.5,1148.4 1288.9,1147.8 1289.4,1147.6 1289.8,1148.2 1290.3,1149.1 1290.7,1147.9 1291.2,1147.8 1291.6,1148.4 1292.1,1147.2 1292.5,1148.5 1293.0,1148.0 1293.4,1149.1 1293.9,1148.6 1294.3,1148.5 1294.8,1148.9 1295.2,1147.8 1295.7,1148.8 1296.1,1148.2 1296.6,1148.1 1297.0,1148.5 1297.5,1149.1 1297.9,1148.6 1298.4,1147.9 1298.8,1149.1 1299.3,1149.1 1299.7,1149.0 1300.2,1148.4 1300.6,1148.2 1301.1,1147.8 1301.5,1149.1 1302.0,1147.8 1302.4,1147.9 1302.9,1149.1 1303.3,1149.1 1303.8,1148.3 1304.2,1148.9 1304.7,1147.0 1305.1,1149.1 1305.6,1148.9 1306.0,1148.1 1306.5,1148.2 1306.9,1149.1 1307.4,1147.5 1307.8,1149.1 1308.3,1147.9 1308.7,1148.2 1309.2,1148.3 1309.6,1149.1 1310.1,1147.9 1310.5,1149.1 1311.0,1148.3 1311.4,1148.4 1311.9,1148.4 1312.3,1148.4 1312.8,1147.3 1313.2,1148.8 1313.7,1147.1 1314.1,1149.0 1314.6,1149.1 1315.0,1147.9 1315.5,1148.3 1315.9,1148.1 1316.4,1147.5 1316.8,1147.6 1317.3,1148.8 1317.7,1147.2 1318.2,1146.3 1318.6,1147.5 1319.1,1149.1 1319.5,1148.0 1320.0,1148.2 1320.4,1147.4 1320.9,1148.5 1321.3,1147.9 1321.8,1147.6 1322.2,1148.2 1322.7,1147.4 1323.1,1148.0 1323.6,1147.0 1324.0,1146.9 1324.5,1146.7 1324.9,1148.2 1325.4,1148.2 1325.8,1149.0 1326.3,1146.0 1326.7,1146.3 1327.2,1145.5 1327.6,1145.7 1328.1,1147.1 1328.5,1146.9 1329.0,1146.3 1329.4,1147.2 1329.9,1146.2 1330.3,1147.1 1330.8,1147.0 1331.2,1146.1 1331.7,1144.7 1332.1,1143.2 1332.6,1145.0 1333.0,1145.6 1333.5,1145.8 1333.9,1143.8 1334.4,1142.6 1334.8,1144.6 1335.3,1142.2 1335.7,1141.1 1336.2,1141.6 1336.6,1140.7 1337.1,1140.1 1337.5,1139.4 1338.0,1137.1 1338.4,1135.8 1338.9,1134.1 1339.3,1132.6 1339.8,1129.8 1340.2,1127.7 1340.7,1121.8 1341.1,1115.5 1341.6,1106.6 1342.0,1094.5 1342.5,1075.9 1342.9,1048.2 1343.4,1024.9 1343.8,1030.5 1344.3,1056.7 1344.7,1081.3 1345.2,1099.2 1345.6,1110.0 1346.1,1119.9 1346.5,1124.9 1347.0,1127.1 1347.4,1130.0 1347.9,1132.8 1348.3,1134.8 1348.8,1137.0 1349.2,1138.7 1349.7,1139.6 1350.1,1139.5 1350.6,1140.6 1351.0,1143.0 1351.5,1141.9 1351.9,1144.5 1352.4,1143.7 1352.8,1142.2 1353.3,1142.8 1353.7,1144.3 1354.2,1144.4 1354.6,1144.3 1355.1,1144.2 1355.5,1145.4 1356.0,1144.9 1356.4,1145.3 1356.9,1145.2 1357.3,1146.6 1357.8,1145.4 1358.2,1145.6 1358.7,1144.9 1359.1,1144.9 1359.6,1143.6 1360.0,1144.9 1360.5,1145.6 1360.9,1146.0 1361.4,1144.4 1361.8,1144.4 1362.3,1145.7 1362.7,1146.1 1363.2,1146.6 1363.6,1145.7 1364.1,1147.7 1364.5,1146.6 1365.0,1147.3 1365.4,1147.0 1365.9,1146.8 1366.3,1147.1 1366.8,1147.1 1367.2,1148.2 1367.7,1148.2 1368.1,1147.6 1368.6,1145.6 1369.0,1148.7 1369.5,1147.6 1369.9,1148.0 1370.4,1148.7 1370.8,1149.1 1371.3,1147.8 1371.7,1146.7 1372.2,1149.1 1372.6,1149.1 1373.1,1146.6 1373.5,1148.1 1374.0,1147.3 1374.4,1147.2 1374.9,1148.4 1375.3,1148.2 1375.8,1148.7 1376.2,1149.1 1376.7,1147.7 1377.1,1148.5 1377.6,1146.2 1378.0,1149.1 1378.5,1147.6 1378.9,1148.3 1379.4,1147.7 1379.8,1149.0 1380.3,1148.1 1380.7,1147.0 1381.2,1149.1 1381.6,1146.5 1382.1,1147.4 1382.5,1148.8 1383.0,1148.3 1383.4,1149.1 1383.9,1148.2 1384.3,1149.1 1384.8,1148.3 1385.2,1147.7 1385.7,1147.7 1386.1,1148.4 1386.6,1148.7 1387.0,1148.7 1387.5,1149.1 1387.9,1148.2 1388.4,1148.3 1388.8,1147.2 1389.3,1148.0 1389.7,1148.8 1390.2,1146.7 1390.6,1147.3 1391.1,1147.6 1391.5,1149.1 1392.0,1148.4 1392.4,1148.2 1392.9,1147.6 1393.3,1148.6 1393.8,1146.9 1394.2,1148.9 1394.7,1149.1 1395.1,1149.1 1395.6,1149.1 1396.0,1148.6 1396.5,1148.4 1396.9,1148.3 1397.4,1147.3 1397.8,1147.7 1398.3,1148.8 1398.7,1149.1 1399.2,1147.8 1399.6,1148.6 1400.1,1147.9 1400.5,1147.7 1401.0,1149.1 1401.4,1148.8 1401.9,1148.0 1402.3,1147.9 1402.8,1149.1 1403.2,1148.7 1403.7,1147.7 1404.1,1148.7 1404.6,1148.7 1405.0,1148.9 1405.5,1147.7 1405.9,1149.1 1406.4,1148.1 1406.8,1148.5 1407.3,1148.1 1407.7,1149.1 1408.2,1149.1 1408.6,1147.5 1409.1,1148.6 1409.5,1147.1 1410.0,1148.4 1410.4,1148.0 1410.9,1148.7 1411.3,1148.5 1411.8,1148.5 1412.2,1148.5 1412.7,1148.7 1413.1,1149.1 1413.6,1148.6 1414.0,1146.9 1414.5,1147.4 1414.9,1148.0 1415.4,1148.3 1415.8,1147.2 1416.3,1146.0 1416.7,1149.0 1417.2,1146.7 1417.6,1146.0 1418.1,1145.6 1418.5,1143.9 1419.0,1143.4 1419.4,1141.8 1419.9,1139.8 1420.3,1137.2 1420.8,1136.0 1421.2,1133.9 1421.7,1136.8 1422.1,1139.8 1422.6,1141.3 1423.0,1143.3 1423.5,1143.4 1423.9,1144.2 1424.4,1145.8 1424.8,1144.6 1425.3,1145.7 1425.7,1145.8 1426.2,1147.0 1426.6,1147.3 1427.1,1146.2 1427.5,1148.8 1428.0,1145.6 1428.4,1147.4 1428.9,1147.6 1429.3,1146.7 1429.8,1146.5 1430.2,1148.3 1430.7,1147.0 1431.1,1147.4 1431.6,1149.1 1432.0,1146.6 1432.5,1149.1 1432.9,1148.2 1433.4,1147.5 1433.8,1146.9 1434.3,1147.5 1434.7,1147.6 1435.2,1147.1 1435.6,1147.5 1436.1,1146.7 1436.5,1146.7 1437.0,1146.4 1437.4,1147.0 1437.9,1144.9 1438.3,1145.4 1438.8,1146.3 1439.2,1146.8 1439.7,1146.4 1440.1,1148.1 1440.6,1147.2 1441.0,1147.5 1441.5,1146.0 1441.9,1147.0 1442.4,1147.8 1442.8,1146.9 1443.3,1147.9 1443.7,1148.7 1444.2,1147.7 1444.6,1148.5 1445.1,1149.1 1445.5,1149.1 1446.0,1148.9 1446.4,1146.7 1446.9,1148.7 1447.3,1149.1 1447.8,1148.2 1448.2,1148.0 1448.7,1148.4 1449.1,1148.4 1449.6,1149.1 1450.0,1149.1 1450.5,1148.2 1450.9,1148.4 1451.4,1149.1 1451.8,1148.6 1452.3,1148.4 1452.7,1149.1 1453.2,1149.1 1453.6,1147.8 1454.1,1149.1 1454.5,1149.1 1455.0,1149.1 1455.4,1149.1 1455.9,1149.1 1456.3,1148.0 1456.8,1148.4 1457.2,1148.4 1457.7,1149.1 1458.1,1149.1 1458.6,1149.1 1459.0,1149.1 1459.5,1148.4 1459.9,1148.2 1460.4,1147.7 1460.8,1149.1 1461.3,1148.5 1461.7,1148.2 1462.2,1149.1 1462.6,1148.8 1463.1,1148.1 1463.5,1147.5 1464.0,1147.2 1464.4,1148.5 1464.9,1148.8 1465.3,1147.8 1465.8,1149.1 1466.2,1148.9 1466.7,1147.5 1467.1,1147.6 1467.6,1147.6 1468.0,1149.1 1468.5,1148.0 1468.9,1149.0 1469.4,1148.8 1469.8,1148.7 1470.3,1149.1 1470.7,1149.1 1471.2,1148.4 1471.6,1149.1 1472.1,1148.5 1472.5,1147.8 1473.0,1149.0 1473.4,1148.6 1473.9,1149.1 1474.3,1148.0 1474.8,1148.3 1475.2,1148.3 1475.7,1149.1 1476.1,1148.8 1476.6,1148.0 1477.0,1149.0 1477.5,1149.1 1477.9,1147.3 1478.4,1148.8 1478.8,1148.4 1479.3,1149.1 1479.7,1146.6 1480.2,1148.8 1480.6,1149.1 1481.1,1149.1 1481.5,1149.1 1482.0,1149.1 1482.4,1148.5 1482.9,1149.1 1483.3,1149.1 1483.8,1148.4 1484.2,1149.1 1484.7,1148.6 1485.1,1149.1 1485.6,1148.9 1486.0,1148.0 1486.5,1147.3 1486.9,1148.6 1487.4,1147.6 1487.8,1147.9 1488.3,1149.0 1488.7,1148.3 1489.2,1148.7 1489.6,1147.4 1490.1,1149.1 1490.5,1148.9 1491.0,1149.1 1491.4,1149.1 1491.9,1149.1 1492.3,1148.6 1492.8,1149.1 1493.2,1148.6 1493.7,1148.4 1494.1,1148.2 1494.6,1149.1 1495.0,1148.8 1495.5,1147.4 1495.9,1149.1 1496.4,1148.3 1496.8,1148.4 1497.3,1147.6 1497.7,1149.1 1498.2,1149.1 1498.6,1148.3 1499.1,1149.1 1499.5,1147.7 1500.0,1148.9 1500.4,1148.3 1500.9,1147.3 1501.3,1148.5 1501.8,1149.1 1502.2,1149.0 1502.7,1148.9 1503.1,1148.2 1503.6,1148.9 1504.0,1148.9 1504.5,1148.8 1504.9,1148.5 1505.4,1148.0 1505.8,1149.1 1506.3,1149.0 1506.7,1148.3 1507.2,1149.0 1507.6,1148.8 1508.1,1148.9 1508.5,1147.8 1509.0,1147.9 1509.4,1147.9 1509.9,1148.1 1510.3,1149.1 1510.8,1147.5 1511.2,1148.3 1511.7,1148.8 1512.1,1149.1 1512.6,1148.1 1513.0,1148.3 1513.5,1148.1 1513.9,1147.8 1514.4,1148.8 1514.8,1148.2 1515.3,1149.1 1515.7,1149.1 1516.2,1149.1 1516.6,1149.0 1517.1,1147.8 1517.5,1148.2 1518.0,1147.3 1518.4,1148.3 1518.9,1149.1"/>
</g>
<g fill="#000" shape-rendering="crispEdges">
<rect x="43" y="32" width="1478" height="5"/>
<rect x="43" y="32" width="5" height="1190"/>
<rect x="1516" y="32" width="5" height="1190"/>
<rect x="43" y="1217.6" width="1478" height="4.4"/>
<rect x="43.0" y="1222" width="5" height="20"/>
<rect x="148.2" y="1222" width="5" height="9"/>
<rect x="253.4" y="1222" width="5" height="20"/>
<rect x="358.6" y="1222" width="5" height="9"/>
<rect x="463.9" y="1222" width="5" height="20"/>
<rect x="569.1" y="1222" width="5" height="9"/>
<rect x="674.3" y="1222" width="5" height="20"/>
<rect x="779.5" y="1222" width="5" height="9"/>
<rect x="884.7" y="1222" width="5" height="20"/>
<rect x="989.9" y="1222" width="5" height="9"/>
<rect x="1095.1" y="1222" width="5" height="20"/>
<rect x="1200.4" y="1222" width="5" height="9"/>
<rect x="1305.6" y="1222" width="5" height="20"/>
<rect x="1410.8" y="1222" width="5" height="9"/>
<rect x="1516.0" y="1222" width="5" height="20"/>
</g>
<g fill="none" stroke-width="3" shape-rendering="crispEdges">
<line x1="1006" y1="81.4" x2="1128" y2="81.4" stroke="#515151"/>
<line x1="1006" y1="147.4" x2="1128" y2="147.4" stroke="#F14040"/>
<line x1="1006" y1="213.7" x2="1128" y2="213.7" stroke="#1A6FDF"/>
</g>
<g>
<text transform="translate(0 1306.25) scale(1.0303 1.0022)" x="15.65" y="0" font-size="68">10</text>
<text transform="translate(0 1306.25) scale(1.0336 1.0022)" x="218.85" y="0" font-size="68">20</text>
<text transform="translate(0 1306.25) scale(1.0378 1.0022)" x="420.55" y="0" font-size="68">30</text>
<text transform="translate(0 1306.25) scale(1.0132 1.0022)" x="640.56" y="0" font-size="68">40</text>
<text transform="translate(0 1306.25) scale(1.0504 1.0022)" x="815.49" y="0" font-size="68">50</text>
<text transform="translate(0 1306.25) scale(1.0144 1.0022)" x="1054.08" y="0" font-size="68">60</text>
<text transform="translate(0 1306.25) scale(1.0459 1.0022)" x="1221.62" y="0" font-size="68">70</text>
<text transform="translate(0 1306.25) scale(1.0143 1.0022)" x="1469.57" y="0" font-size="68">80</text>
<text transform="translate(0 1460.80) scale(1.0504 1.0151)" y="0" font-size="80"><tspan x="650.10" textLength="85.83" lengthAdjust="spacingAndGlyphs">2θ</tspan> <tspan x="756.79" textLength="77.82" lengthAdjust="spacingAndGlyphs">(°)</tspan></text>
<text transform="translate(0 97.90) scale(0.9971 1.0100)" y="0" font-size="46"><tspan x="1139.01" textLength="182.25" lengthAdjust="spacingAndGlyphs">Si-C-Ti-B</tspan> <tspan x="1331.37" textLength="16.27" lengthAdjust="spacingAndGlyphs">-</tspan> <tspan x="1357.96" textLength="91.04" lengthAdjust="spacingAndGlyphs">1900</tspan> <tspan x="1459.62" textLength="52.17" lengthAdjust="spacingAndGlyphs">°C</tspan></text>
<text transform="translate(0 164.50) scale(0.9980 1.0167)" y="0" font-size="46"><tspan x="1137.93" textLength="182.08" lengthAdjust="spacingAndGlyphs">Si-C-Ti-B</tspan> <tspan x="1330.11" textLength="16.25" lengthAdjust="spacingAndGlyphs">-</tspan> <tspan x="1356.34" textLength="91.30" lengthAdjust="spacingAndGlyphs">2000</tspan> <tspan x="1458.24" textLength="52.12" lengthAdjust="spacingAndGlyphs">°C</tspan></text>
<text transform="translate(0 230.30) scale(0.9980 1.0167)" y="0" font-size="46"><tspan x="1137.93" textLength="182.08" lengthAdjust="spacingAndGlyphs">Si-C-Ti-B</tspan> <tspan x="1330.11" textLength="16.25" lengthAdjust="spacingAndGlyphs">-</tspan> <tspan x="1356.34" textLength="91.30" lengthAdjust="spacingAndGlyphs">2100</tspan> <tspan x="1458.24" textLength="52.12" lengthAdjust="spacingAndGlyphs">°C</tspan></text>
<text transform="translate(0 297.19) scale(1.0293 1.0230)" x="1391.00" y="0" font-size="42">SiC</text>
<text transform="translate(0 363.00) scale(1.0634 1.0073)" x="1343.74" y="0" font-size="42">TiC</text>
<text transform="translate(0 429.90) scale(0.9574 1.0036)" y="0" font-size="42"><tspan x="1487.27" textLength="63.88" lengthAdjust="spacingAndGlyphs">TiB</tspan><tspan x="1550.09" dy="11.98" textLength="23.61" lengthAdjust="spacingAndGlyphs">2</tspan></text>
<text transform="translate(0 507.98) scale(1.0958 1.0336)" x="1327.74" y="0" font-size="42">C</text>
<text transform="translate(0 303.20) scale(0.9918 1.0307)" x="533.92" y="0" font-size="52">(111)</text>
<text transform="translate(0 501.20) scale(0.9928 1.0307)" x="611.16" y="0" font-size="52">(111)</text>
<text transform="translate(0 659.20) scale(0.9779 1.0307)" x="467.13" y="0" font-size="52">(110)</text>
<text transform="translate(0 734.20) scale(0.9602 1.0307)" x="351.85" y="0" font-size="52">(002)</text>
<text transform="translate(0 731.00) scale(0.9565 1.0307)" x="679.42" y="0" font-size="52">(200)</text>
<text transform="translate(0 634.90) scale(0.9630 1.0307)" x="802.66" y="0" font-size="52">(200)</text>
<text transform="translate(0 741.90) scale(0.9583 1.0307)" x="899.94" y="0" font-size="52">(101)</text>
<text transform="translate(0 537.90) scale(0.9639 1.0307)" x="1075.68" y="0" font-size="52">(220)</text>
<text transform="translate(0 699.90) scale(0.9602 1.0307)" x="1178.77" y="0" font-size="52">(220)</text>
<text transform="translate(0 596.90) scale(0.9741 1.0307)" x="1319.56" y="0" font-size="52">(311)</text>
<text transform="translate(0 758.90) scale(0.9574 1.0307)" x="1428.28" y="0" font-size="52">(222)</text>
</g>
<g fill="#000">
<polygon points="1390.1,267.1 1422.5,267.1 1406.3,295.6"/>
<polygon points="1402.3,334.0 1416.6,348.0 1402.3,362.0 1388.0,348.0"/>
<circle cx="1396.4" cy="415.8" r="14.8"/>
<polygon points="1408.5,479.2 1411.9,490.3 1423.3,490.2 1414.0,496.9 1417.6,507.9 1408.5,501.0 1399.4,507.9 1403.0,496.9 1393.7,490.2 1405.1,490.3"/>
<polygon points="564.1,341.0 603.1,341.0 583.6,376.2"/>
<polygon points="661.0,539.0 678.7,556.3 661.0,573.6 643.3,556.3"/>
<circle cx="511.2" cy="716.6" r="18.5"/>
<polygon points="392.0,774.0 396.1,787.7 409.7,787.6 398.6,796.0 402.9,809.6 392.0,801.1 381.1,809.6 385.4,796.0 374.3,787.6 387.9,787.7"/>
<polygon points="684.4,768.8 723.4,768.8 703.9,804.0"/>
<polygon points="827.7,673.2 845.4,690.5 827.7,707.8 810.0,690.5"/>
<circle cx="917.0" cy="800.0" r="18.4"/>
<polygon points="1071.8,575.0 1110.7,575.0 1091.2,610.8"/>
<polygon points="1186.1,738.3 1203.8,755.6 1186.1,772.9 1168.4,755.6"/>
<polygon points="1320.8,634.2 1359.7,634.2 1340.2,669.8"/>
<polygon points="1402.1,796.0 1441.7,796.0 1421.9,831.8"/>
</g>
<g fill="#000" shape-rendering="crispEdges">
<line x1="519.2" y1="745.6" x2="541.4" y2="807.6" stroke="#000" stroke-width="2.7"/><polygon points="552.7,839.3 532.5,808.6 548.8,802.8"/>
<line x1="649.3" y1="578.3" x2="601.2" y2="797.8" stroke="#000" stroke-width="2.7"/><polygon points="594.0,830.6 593.2,794.0 610.1,797.7"/>
<line x1="815.0" y1="709.6" x2="736.0" y2="827.5" stroke="#000" stroke-width="2.7"/><polygon points="717.3,855.4 729.9,821.0 744.3,830.6"/>
<line x1="887.2" y1="811.6" x2="809.5" y2="818.4" stroke="#000" stroke-width="2.7"/><polygon points="776.0,821.3 810.7,809.6 812.2,826.8"/>
<line x1="1167.8" y1="780.4" x2="1138.5" y2="826.9" stroke="#000" stroke-width="2.7"/><polygon points="1120.6,855.4 1132.2,820.6 1146.9,829.9"/>
</g>
</svg></body></html>
